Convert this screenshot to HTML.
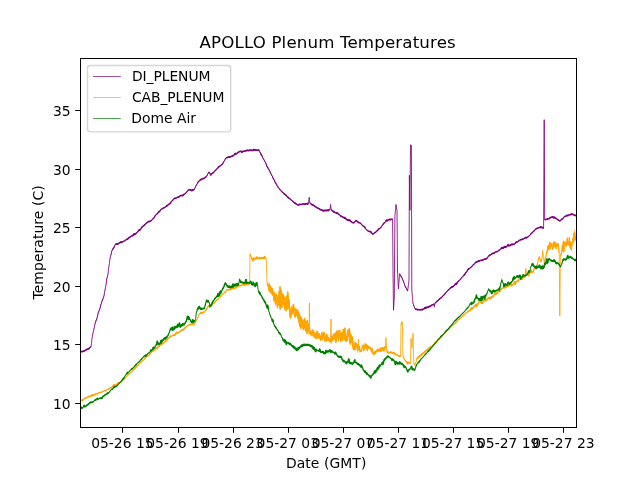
<!DOCTYPE html>
<html lang="en"><head><meta charset="utf-8"><title>APOLLO Plenum Temperatures</title>
<style>html,body{margin:0;padding:0;background:#fff;overflow:hidden}svg{display:block}</style></head>
<body>
<svg width="640" height="480" viewBox="0 0 640 480">
<rect width="640" height="480" fill="#fff"/>
<clipPath id="c"><rect x="80" y="57.6" width="496" height="369.6"/></clipPath>
<g clip-path="url(#c)" fill="none" stroke-linejoin="round" stroke-linecap="butt">
<path d="M392.6,219.2 L393.0,270.6 M393.0,270.6 L393.5,310.2 M393.5,310.2 L394.3,297.0 M394.3,297.0 L394.9,215.8 M397.0,209.9 L397.5,270.0 M397.5,270.0 L398.4,288.9 M409.0,280.4 L409.4,175.3 M409.4,175.3 L409.9,210.3 M409.9,210.3 L410.5,145.4 M411.4,145.9 L411.8,290.0 M543.6,228.0 L544.2,119.7 M544.2,119.7 L544.7,219.9" stroke="#800080" stroke-width="0.85"/>
<path d="M80.4,351.5 80.7,351.6 81.1,351.8 81.4,351.5 81.7,351.4 82.0,351.7 82.4,351.7 82.7,351.4 83.0,351.0 83.3,351.0 83.7,351.3 84.0,351.4 84.3,351.2 84.6,350.9 84.9,350.5 85.2,350.3 85.5,350.3 85.8,350.0 86.1,349.7 86.4,349.3 86.7,349.5 87.0,349.8 87.3,349.3 87.6,349.0 87.9,348.7 88.2,348.6 88.5,348.8 88.8,348.9 89.2,348.4 89.5,347.8 89.8,347.6 90.1,347.6 90.4,347.1 90.7,347.1 91.0,346.9 91.1,346.2 91.2,345.6 91.3,344.9 91.4,344.3 91.5,343.6 91.6,343.0 91.6,342.4 91.7,341.9 91.8,341.3 91.8,340.7 91.8,340.1 91.9,339.5 92.0,338.8 92.0,338.2 92.1,337.5 92.3,336.9 92.4,336.3 92.5,335.7 92.7,335.0 92.8,334.2 92.9,333.5 93.0,332.8 93.2,332.3 93.3,331.7 93.4,331.1 93.6,330.5 93.7,329.9 93.8,329.3 94.0,328.8 94.1,328.3 94.2,327.7 94.3,327.0 94.5,326.4 94.6,325.8 94.7,325.2 94.9,324.6 95.0,323.9 95.2,323.2 95.4,322.4 95.6,321.7 95.7,321.3 95.9,320.9 96.1,320.5 96.3,320.2 96.5,319.9 96.7,319.5 96.9,318.8 97.0,318.1 97.2,317.5 97.4,316.5 97.6,315.7 97.8,314.9 98.0,314.1 98.1,313.3 98.3,312.5 98.5,311.8 98.7,311.6 98.9,311.3 99.1,310.9 99.3,310.4 99.4,309.8 99.6,309.2 99.8,308.7 100.0,308.2 100.2,307.8 100.4,307.0 100.6,305.9 100.7,304.9 100.9,304.3 101.1,303.9 101.3,303.8 101.5,303.4 101.7,302.4 101.9,301.3 102.0,300.5 102.2,300.3 102.4,300.1 102.6,300.0 102.8,299.3 103.0,298.6 103.2,297.9 103.4,297.5 103.5,297.2 103.7,296.8 103.9,296.3 104.1,295.5 104.2,294.6 104.3,293.8 104.4,292.9 104.5,292.4 104.6,292.0 104.7,291.6 104.8,291.1 104.9,290.5 105.0,289.9 105.2,289.2 105.3,288.6 105.4,288.1 105.5,287.6 105.6,287.1 105.7,286.5 105.8,285.8 105.9,285.2 106.0,284.6 106.1,284.2 106.2,283.7 106.3,282.9 106.4,281.9 106.5,280.9 106.6,280.0 106.7,279.1 106.8,278.6 106.9,278.3 107.1,278.0 107.2,277.5 107.3,277.1 107.4,276.6 107.5,276.2 107.6,275.8 107.7,275.4 107.8,275.0 107.9,274.6 108.0,274.2 108.1,273.5 108.2,272.7 108.2,272.0 108.3,271.2 108.4,270.4 108.5,269.7 108.6,268.9 108.6,268.3 108.7,267.7 108.8,267.2 108.9,266.6 109.0,266.1 109.0,265.6 109.1,265.1 109.2,264.6 109.3,263.9 109.4,263.3 109.5,262.6 109.5,262.0 109.6,261.3 109.7,260.7 109.8,260.1 109.9,259.5 109.9,258.9 110.0,258.3 110.1,257.7 110.3,257.1 110.5,256.6 110.6,256.1 110.8,255.4 111.0,254.7 111.2,253.8 111.4,252.9 111.5,252.0 111.7,251.3 111.9,250.9 112.1,250.6 112.2,250.2 112.5,249.3 112.8,248.9 113.1,248.5 113.4,248.0 113.7,248.0 114.0,247.7 114.3,246.8 114.5,245.9 114.8,245.3 115.1,244.8 115.4,244.3 115.7,244.1 116.0,243.9 116.3,244.0 116.6,243.9 116.9,243.8 117.2,244.0 117.5,244.2 117.8,244.1 118.1,244.0 118.4,243.7 118.7,243.5 119.0,243.2 119.3,242.8 119.6,242.7 119.9,242.7 120.2,242.4 120.5,241.9 120.8,242.0 121.1,242.4 121.4,242.6 121.7,242.5 122.0,242.1 122.3,241.7 122.6,241.7 122.9,241.5 123.2,241.6 123.5,241.5 123.9,241.1 124.2,240.8 124.5,240.8 124.8,240.7 125.1,240.5 125.5,240.3 125.8,239.9 126.1,239.8 126.4,239.6 126.7,239.1 127.0,239.0 127.4,239.2 127.7,239.2 128.0,239.0 128.3,238.7 128.6,238.2 128.9,237.4 129.2,237.6 129.5,237.7 129.8,237.5 130.2,237.0 130.5,236.6 130.8,236.3 131.1,236.2 131.4,236.0 131.7,235.8 132.0,235.5 132.3,235.6 132.6,235.9 132.9,235.5 133.2,234.9 133.5,234.2 133.9,233.9 134.2,234.5 134.5,234.7 134.8,234.0 135.1,233.7 135.4,233.7 135.7,233.7 136.0,233.6 136.3,233.5 136.6,233.0 136.9,232.5 137.2,232.1 137.5,231.9 137.8,231.8 138.1,231.5 138.4,230.6 138.7,230.1 139.0,230.3 139.3,230.4 139.6,230.0 139.9,229.8 140.2,229.9 140.5,229.7 140.8,229.2 141.1,228.5 141.4,227.6 141.7,227.0 142.0,227.0 142.3,227.0 142.6,226.9 142.9,226.4 143.2,226.4 143.5,226.1 143.8,225.7 144.1,225.2 144.4,224.7 144.8,224.5 145.1,224.6 145.4,224.4 145.7,224.0 146.0,223.3 146.3,223.1 146.6,222.7 146.9,223.0 147.2,222.6 147.5,222.1 147.8,221.8 148.1,221.6 148.4,221.7 148.7,221.5 149.1,221.4 149.4,221.5 149.7,221.4 150.0,221.4 150.3,221.3 150.6,221.3 150.9,220.9 151.2,220.5 151.5,220.5 151.8,220.0 152.1,219.6 152.4,219.4 152.8,219.0 153.1,218.6 153.4,218.3 153.7,218.1 154.1,218.1 154.4,217.3 154.7,216.6 155.0,215.9 155.4,215.3 155.7,215.1 156.0,214.8 156.3,214.7 156.6,214.4 156.9,214.0 157.2,213.7 157.5,213.5 157.8,213.4 158.1,212.7 158.4,211.9 158.7,211.8 159.0,211.9 159.3,211.9 159.6,211.6 159.9,211.0 160.2,210.6 160.5,210.2 160.8,209.7 161.1,209.5 161.4,209.2 161.7,208.9 162.0,208.5 162.3,208.6 162.6,208.7 162.9,208.3 163.2,208.1 163.5,208.0 163.8,207.8 164.1,207.8 164.4,207.7 164.7,207.6 165.0,207.2 165.3,206.8 165.6,206.7 165.9,206.7 166.2,206.6 166.5,206.0 166.8,205.4 167.1,205.7 167.4,206.0 167.7,205.4 168.0,205.0 168.3,204.6 168.6,204.2 168.9,204.3 169.2,204.1 169.5,203.8 169.8,203.2 170.1,203.3 170.4,203.6 170.7,202.8 171.0,201.7 171.3,201.7 171.6,201.4 171.9,201.0 172.2,200.8 172.5,200.6 172.8,200.3 173.1,199.7 173.4,199.3 173.7,199.0 174.0,198.4 174.3,198.5 174.6,198.6 174.9,198.3 175.2,198.1 175.5,198.2 175.8,198.5 176.1,198.2 176.4,197.9 176.7,197.7 177.0,197.5 177.3,197.3 177.6,197.3 177.9,197.2 178.2,196.9 178.5,197.1 178.8,197.1 179.1,197.0 179.4,196.5 179.7,196.1 180.0,196.1 180.3,195.9 180.6,195.5 180.9,195.6 181.2,195.7 181.6,195.7 181.9,195.6 182.2,195.4 182.5,195.2 182.8,195.7 183.1,195.5 183.4,194.7 183.8,194.4 184.1,194.4 184.4,194.1 184.7,194.0 185.0,194.0 185.3,193.6 185.6,193.1 185.9,192.8 186.2,192.7 186.5,192.4 186.8,192.0 187.1,191.5 187.4,191.0 187.7,190.8 188.0,190.2 188.3,190.0 188.6,190.0 188.9,190.0 189.2,189.9 189.5,189.7 189.8,189.8 190.1,189.8 190.4,189.9 190.7,190.1 191.0,190.1 191.3,190.2 191.6,190.4 191.9,190.7 192.2,190.6 192.5,189.9 192.8,189.7 193.1,189.8 193.4,189.9 193.7,189.8 194.0,189.9 194.3,189.4 194.6,188.8 194.9,188.1 195.1,187.7 195.4,187.2 195.7,186.4 196.0,185.8 196.3,185.1 196.6,184.7 196.9,184.0 197.1,183.8 197.4,183.5 197.7,182.9 198.0,181.9 198.3,181.7 198.6,181.4 198.9,181.2 199.2,181.0 199.5,180.4 199.8,180.2 200.2,180.2 200.5,180.2 200.8,179.5 201.1,179.0 201.4,179.4 201.7,179.5 202.0,179.2 202.3,178.9 202.6,178.8 202.9,178.6 203.2,178.8 203.5,178.5 203.8,178.3 204.2,178.2 204.5,178.2 204.8,178.1 205.1,177.6 205.4,177.4 205.7,176.9 206.0,177.0 206.3,176.9 206.6,176.4 206.9,175.9 207.2,175.1 207.5,174.5 207.8,174.1 208.1,173.5 208.4,173.0 208.7,172.7 209.0,172.0 209.3,172.3 209.7,172.8 210.0,173.3 210.3,174.3 210.7,175.1 211.0,174.7 211.3,174.3 211.6,173.8 211.9,173.4 212.2,173.1 212.5,173.0 212.8,172.9 213.1,173.1 213.4,172.7 213.7,172.2 214.0,171.9 214.3,171.8 214.7,171.2 215.0,170.7 215.3,170.3 215.6,170.2 215.9,170.0 216.2,169.8 216.5,169.1 216.8,168.8 217.1,168.5 217.4,168.4 217.7,168.4 218.0,167.6 218.3,166.9 218.6,166.9 218.9,167.1 219.2,166.7 219.6,166.2 219.9,166.1 220.2,166.1 220.5,165.7 220.8,165.3 221.1,165.1 221.4,164.8 221.8,164.5 222.1,164.1 222.4,164.1 222.7,163.9 223.0,163.2 223.3,162.5 223.6,162.0 223.9,161.3 224.2,160.9 224.5,160.6 224.8,160.2 225.1,159.5 225.4,158.8 225.7,158.4 226.0,158.0 226.3,157.9 226.6,157.7 226.9,157.4 227.2,157.3 227.6,157.5 227.9,157.5 228.2,157.3 228.5,157.0 228.8,156.9 229.1,157.0 229.4,157.0 229.8,157.2 230.1,156.9 230.4,156.6 230.7,156.6 231.0,156.3 231.3,156.3 231.6,156.5 231.9,156.1 232.2,155.7 232.6,155.7 232.9,155.7 233.2,155.8 233.5,155.7 233.8,155.3 234.1,155.0 234.4,154.7 234.8,154.2 235.1,153.5 235.4,153.4 235.7,153.9 236.0,154.1 236.3,154.0 236.6,153.8 236.9,153.7 237.2,153.2 237.5,152.7 237.8,152.3 238.1,152.2 238.4,152.3 238.7,152.3 239.0,151.7 239.3,151.5 239.6,151.5 239.9,151.4 240.2,151.5 240.5,151.4 240.8,151.3 241.1,151.2 241.4,151.6 241.7,152.3 242.0,152.2 242.3,151.6 242.6,151.5 242.9,151.7 243.2,151.6 243.5,151.2 243.8,151.0 244.1,151.0 244.4,151.0 244.7,151.0 245.0,150.9 245.3,150.9 245.6,151.1 245.9,151.1 246.2,150.7 246.5,150.5 246.8,150.3 247.1,150.2 247.4,150.2 247.7,150.2 248.0,150.6 248.3,150.7 248.6,150.7 248.9,150.6 249.2,150.3 249.5,150.1 249.8,150.2 250.1,150.3 250.4,150.1 250.8,150.0 251.1,150.2 251.4,150.1 251.7,150.4 252.0,150.6 252.3,150.5 252.6,150.3 252.9,150.2 253.2,150.5 253.5,150.0 253.8,149.4 254.1,149.8 254.4,150.2 254.7,149.7 255.0,149.8 255.3,149.8 255.6,149.8 255.9,150.2 256.2,150.4 256.6,150.2 256.9,150.3 257.2,150.4 257.5,150.2 257.8,149.9 258.1,149.9 258.4,149.9 258.7,149.8 259.0,150.3 259.3,151.1 259.5,151.3 259.8,151.8 260.1,152.4 260.4,153.1 260.6,153.8 260.9,154.6 261.2,154.7 261.5,154.5 261.7,154.8 262.0,155.5 262.3,156.4 262.5,157.1 262.8,157.9 263.1,158.3 263.4,158.7 263.6,159.1 263.9,159.6 264.2,160.2 264.5,160.9 264.7,161.5 265.0,161.9 265.3,162.2 265.5,162.6 265.8,163.1 266.1,163.7 266.4,164.9 266.6,165.9 266.9,166.6 267.2,166.8 267.5,166.7 267.7,167.1 268.0,167.9 268.3,168.7 268.5,169.1 268.8,169.6 269.1,170.0 269.4,170.1 269.6,170.7 269.9,171.3 270.2,172.0 270.5,173.0 270.7,173.6 271.0,173.8 271.3,174.2 271.6,175.0 271.9,175.6 272.2,176.1 272.5,176.6 272.8,177.7 273.0,178.5 273.3,178.5 273.6,178.7 273.9,179.4 274.2,179.8 274.5,180.7 274.8,181.7 275.1,182.4 275.4,183.0 275.7,183.1 276.0,183.3 276.2,183.7 276.5,184.1 276.8,184.8 277.1,185.8 277.4,186.1 277.7,186.4 278.0,187.2 278.3,187.5 278.6,187.8 278.9,188.2 279.2,188.7 279.5,189.1 279.8,189.5 280.2,189.7 280.5,190.2 280.8,190.6 281.1,190.9 281.4,191.2 281.7,191.5 282.0,191.9 282.3,192.0 282.6,192.1 282.9,192.5 283.2,193.0 283.5,193.4 283.8,193.9 284.1,193.8 284.4,193.7 284.7,194.3 285.0,194.9 285.3,195.0 285.6,195.1 285.9,195.1 286.2,195.1 286.5,195.7 286.8,196.3 287.1,196.4 287.4,196.6 287.7,197.3 288.0,197.7 288.3,197.7 288.6,197.4 288.9,197.9 289.2,198.4 289.5,198.7 289.8,198.9 290.1,199.2 290.4,199.2 290.7,199.4 291.0,199.7 291.3,199.9 291.6,200.3 291.9,200.7 292.2,200.9 292.5,201.0 292.8,201.1 293.1,201.6 293.4,202.2 293.7,202.1 294.0,202.1 294.3,202.7 294.6,203.2 294.9,203.1 295.2,203.0 295.5,203.2 295.8,203.6 296.2,204.2 296.5,204.4 296.8,204.2 297.1,204.3 297.4,204.6 297.7,204.8 298.0,205.2 298.3,205.0 298.6,204.9 298.9,204.8 299.2,204.5 299.5,204.3 299.8,204.5 300.1,204.7 300.4,204.6 300.7,204.5 301.0,204.5 301.3,204.4 301.6,204.3 301.9,204.1 302.2,204.1 302.5,204.2 302.8,204.2 303.1,203.9 303.4,203.8 303.7,203.9 304.0,203.9 304.3,204.0 304.6,204.1 304.9,204.2 305.2,204.3 305.5,204.1 305.8,203.7 306.1,203.8 306.5,203.8 306.8,203.6 307.1,203.4 307.4,203.6 307.7,204.1 308.0,203.7 308.3,202.9 308.6,202.8 308.7,202.2 308.7,201.7 308.8,201.2 308.8,200.6 308.9,200.1 309.0,199.6 309.0,199.0 309.1,198.5 309.1,197.9 309.2,197.3 309.3,197.9 309.3,198.5 309.4,199.1 309.4,199.7 309.5,200.2 309.6,200.7 309.6,201.2 309.7,201.7 309.7,202.3 309.8,202.8 310.1,203.2 310.4,203.6 310.7,203.8 311.0,203.8 311.4,204.1 311.7,204.7 312.0,204.9 312.3,204.8 312.6,204.6 312.9,204.8 313.2,205.2 313.5,205.4 313.8,205.5 314.1,205.5 314.4,205.5 314.8,206.2 315.1,206.8 315.4,206.9 315.7,206.9 316.0,207.1 316.3,207.1 316.6,207.2 316.9,207.5 317.2,207.9 317.5,208.3 317.8,208.1 318.2,208.1 318.5,208.3 318.8,208.5 319.1,208.5 319.4,209.0 319.7,209.6 320.0,209.7 320.3,209.3 320.6,209.5 320.9,209.9 321.2,209.9 321.5,209.6 321.8,209.9 322.2,210.2 322.5,210.5 322.8,210.9 323.1,210.7 323.4,210.1 323.7,210.6 324.0,211.0 324.3,210.8 324.6,210.5 324.9,210.2 325.2,210.2 325.5,210.3 325.8,210.4 326.1,210.8 326.4,210.8 326.7,210.4 327.0,210.1 327.3,210.1 327.6,209.9 327.9,210.3 328.2,210.8 328.5,210.4 328.8,210.0 329.1,209.8 329.4,209.8 329.7,209.7 330.0,209.7 330.1,209.1 330.1,208.4 330.2,207.8 330.3,207.1 330.4,206.4 330.5,205.8 330.5,205.1 330.6,204.5 330.7,205.2 330.7,205.8 330.8,206.4 330.9,207.0 330.9,207.6 331.0,208.2 331.1,208.8 331.1,209.4 331.2,210.0 331.5,209.9 331.8,210.1 332.1,210.5 332.4,210.8 332.7,211.2 333.1,211.6 333.4,211.8 333.7,211.9 334.0,211.6 334.3,211.6 334.6,212.0 334.9,212.2 335.2,212.4 335.5,212.6 335.8,213.0 336.1,213.2 336.5,212.9 336.8,213.0 337.1,213.1 337.4,213.1 337.7,213.0 338.0,213.6 338.3,214.2 338.6,214.5 338.9,214.5 339.2,214.6 339.5,214.7 339.8,215.0 340.1,215.3 340.4,215.6 340.7,216.2 341.0,216.3 341.3,215.9 341.6,216.2 341.9,216.5 342.2,216.7 342.5,217.0 342.8,217.3 343.1,216.9 343.4,217.5 343.7,217.8 344.0,218.1 344.3,218.2 344.6,218.0 344.9,217.6 345.2,217.8 345.5,218.6 345.8,219.0 346.1,219.2 346.4,219.2 346.7,219.1 347.0,219.6 347.3,220.3 347.6,220.5 347.9,220.4 348.2,220.1 348.5,220.1 348.8,220.2 349.1,220.3 349.4,220.2 349.7,219.9 350.0,220.3 350.3,221.2 350.6,221.6 350.9,221.5 351.2,221.4 351.5,221.6 351.8,222.1 352.1,222.4 352.4,222.5 352.7,222.7 353.0,222.7 353.3,222.7 353.6,222.9 353.9,222.4 354.3,222.4 354.6,222.4 355.0,221.7 355.3,220.9 355.7,221.2 356.0,220.7 356.3,220.4 356.6,220.6 356.9,221.1 357.2,221.5 357.5,221.4 357.8,222.0 358.2,222.4 358.5,222.6 358.8,222.7 359.1,222.5 359.4,222.6 359.7,222.7 360.0,222.9 360.3,223.3 360.6,223.6 360.9,223.5 361.2,223.9 361.5,224.4 361.8,224.7 362.1,225.1 362.4,225.5 362.7,225.7 363.0,225.7 363.3,226.2 363.7,226.6 364.0,226.9 364.3,227.1 364.6,226.8 364.9,227.1 365.2,227.9 365.5,228.7 365.8,228.8 366.1,229.0 366.4,229.5 366.7,229.9 367.0,230.1 367.3,230.3 367.6,230.6 367.9,231.0 368.2,231.1 368.5,231.0 368.8,231.2 369.1,231.5 369.4,231.5 369.7,231.6 370.0,231.9 370.3,232.1 370.6,231.8 370.9,231.7 371.2,231.9 371.5,232.5 371.8,233.3 372.1,233.8 372.4,233.8 372.7,233.9 373.0,234.1 373.3,234.0 373.6,233.7 373.9,233.2 374.2,232.8 374.5,232.8 374.8,232.7 375.1,232.5 375.4,232.5 375.7,232.4 376.0,232.0 376.3,231.6 376.7,231.0 377.0,230.7 377.3,230.8 377.6,230.6 377.9,230.1 378.2,229.4 378.5,229.0 378.8,228.9 379.1,228.9 379.4,228.7 379.7,228.5 380.0,228.1 380.3,228.0 380.6,227.7 380.9,227.3 381.2,227.1 381.5,226.4 381.8,226.0 382.1,225.8 382.4,225.5 382.7,225.1 383.0,224.5 383.3,223.7 383.6,223.3 383.9,223.2 384.2,223.3 384.5,223.0 384.8,222.6 385.1,222.2 385.4,221.8 385.7,221.4 386.0,220.6 386.3,220.0 386.6,220.0 386.9,220.4 387.2,220.7 387.5,220.9 387.8,220.6 388.1,220.1 388.4,219.9 388.7,219.9 389.0,219.5 389.3,219.3 389.6,219.5 389.9,219.7 390.2,219.7 390.5,219.8 390.8,219.7 391.1,219.1 391.4,219.2 391.7,219.4 392.0,219.1 392.3,219.0 392.6,219.2 M394.9,215.8 395.0,215.2 395.0,214.6 395.1,214.0 395.1,213.4 395.2,212.7 395.3,212.1 395.3,211.5 395.4,211.0 395.4,210.4 395.5,209.8 395.6,209.2 395.6,208.5 395.7,207.9 395.8,207.2 395.8,206.6 395.9,205.9 395.9,205.3 396.0,204.6 396.1,205.5 396.2,206.3 396.4,207.2 396.5,207.8 396.6,208.4 396.8,208.8 396.9,209.4 397.0,209.9 M398.4,288.9 398.4,288.3 398.5,287.7 398.5,287.0 398.6,286.4 398.6,285.8 398.7,285.2 398.7,284.6 398.8,284.0 398.8,283.4 398.9,282.8 398.9,282.2 399.0,281.6 399.0,281.0 399.1,280.4 399.1,279.8 399.2,279.3 399.2,278.7 399.3,278.1 399.3,277.5 399.4,276.9 399.4,276.3 399.5,275.7 399.5,275.1 399.6,274.4 399.6,273.8 399.9,274.6 400.3,275.2 400.6,275.7 401.0,276.3 401.3,277.0 401.7,277.3 402.0,277.8 402.2,278.4 402.4,279.0 402.6,279.6 402.9,280.0 403.1,280.4 403.3,280.9 403.5,281.5 403.7,282.0 403.9,282.7 404.1,283.4 404.4,284.2 404.6,284.9 404.8,285.6 405.0,286.2 405.3,286.5 405.6,287.1 405.9,287.6 406.2,288.1 406.4,288.4 406.7,289.1 407.0,289.7 407.3,290.2 407.6,290.9 407.7,290.4 407.8,289.9 407.8,289.4 407.9,288.8 408.0,288.2 408.1,287.6 408.1,287.0 408.2,286.4 408.3,285.8 408.4,285.3 408.5,284.8 408.5,284.3 408.6,283.7 408.7,283.0 408.8,282.4 408.8,281.7 408.9,281.1 409.0,280.4 M410.5,145.4 410.9,145.3 411.4,145.9 M411.8,290.0 411.9,290.6 411.9,291.2 412.0,291.8 412.0,292.5 412.1,293.2 412.1,293.8 412.2,294.5 412.2,295.1 412.3,295.7 412.3,296.2 412.4,296.7 412.4,297.2 412.5,297.7 412.5,298.2 412.6,298.7 412.6,299.2 412.7,299.7 412.7,300.2 412.8,300.7 412.8,301.3 412.9,302.0 412.9,302.6 413.0,303.3 413.2,303.9 413.5,304.6 413.8,305.5 414.0,306.3 414.2,306.9 414.5,307.5 414.8,308.3 415.0,308.9 415.3,309.0 415.6,309.1 415.9,309.4 416.2,309.2 416.6,309.3 416.9,309.3 417.2,309.5 417.5,309.8 417.8,309.6 418.1,309.5 418.4,309.5 418.8,309.6 419.1,309.8 419.4,309.7 419.7,309.8 420.0,310.0 420.3,309.8 420.6,309.7 420.9,309.9 421.2,309.8 421.5,309.4 421.8,309.4 422.1,309.5 422.4,309.6 422.7,309.7 423.0,309.4 423.3,309.2 423.6,309.1 423.9,309.0 424.2,308.8 424.5,308.3 424.8,307.6 425.1,308.0 425.4,308.3 425.7,307.6 426.0,307.3 426.3,307.5 426.6,307.9 426.9,307.8 427.2,307.5 427.5,307.0 427.8,306.8 428.2,307.2 428.5,307.3 428.8,306.6 429.1,306.3 429.4,306.6 429.7,306.7 430.0,306.2 430.3,306.2 430.6,306.3 430.9,306.1 431.2,305.6 431.5,305.2 431.8,304.8 432.2,304.9 432.5,304.8 432.8,304.7 433.1,304.6 433.4,304.3 433.7,304.2 434.0,304.4 434.1,305.2 434.3,306.0 434.4,306.8 434.5,306.0 434.6,305.2 434.7,304.3 434.8,303.5 435.1,302.9 435.4,302.7 435.7,302.5 436.1,302.4 436.4,301.8 436.7,301.3 437.0,301.1 437.3,301.0 437.6,300.8 437.9,300.8 438.2,300.4 438.6,299.8 438.9,299.3 439.2,299.0 439.5,299.1 439.8,299.1 440.1,298.5 440.4,298.1 440.7,298.2 441.1,297.8 441.4,297.4 441.7,297.2 442.0,297.3 442.3,297.0 442.6,296.1 442.9,295.8 443.2,295.7 443.5,295.4 443.8,294.9 444.1,294.7 444.4,294.8 444.7,294.4 445.0,293.6 445.3,293.1 445.6,292.9 445.9,292.7 446.2,292.2 446.5,291.8 446.8,291.6 447.1,291.2 447.4,290.7 447.7,290.4 448.0,290.2 448.3,290.1 448.6,289.6 448.9,289.3 449.2,289.3 449.5,288.9 449.8,288.7 450.2,288.4 450.5,287.8 450.8,287.4 451.1,287.3 451.4,287.0 451.7,286.9 452.0,287.1 452.3,287.2 452.6,287.0 452.9,286.3 453.2,286.4 453.5,286.5 453.8,286.1 454.2,285.7 454.5,284.9 454.8,284.6 455.1,284.2 455.4,283.6 455.7,283.7 456.0,283.9 456.3,284.3 456.6,284.3 456.9,283.7 457.2,283.0 457.5,282.1 457.8,281.6 458.2,281.8 458.5,281.3 458.8,280.9 459.1,280.6 459.4,280.4 459.7,280.3 460.0,279.9 460.3,279.6 460.6,279.0 460.9,278.6 461.2,278.3 461.5,277.9 461.8,277.3 462.2,277.0 462.5,276.7 462.8,276.3 463.1,276.0 463.4,275.7 463.7,275.6 464.0,275.0 464.3,274.4 464.6,274.4 464.9,274.7 465.2,273.9 465.5,272.7 465.8,272.3 466.2,271.9 466.5,271.9 466.8,271.8 467.1,271.2 467.4,270.5 467.7,269.7 468.0,269.0 468.3,269.3 468.6,269.3 468.9,269.0 469.2,269.0 469.5,268.5 469.8,268.2 470.2,267.9 470.5,267.6 470.8,267.2 471.1,267.3 471.4,266.7 471.7,266.4 472.0,266.4 472.3,266.0 472.6,265.5 472.9,265.0 473.2,264.7 473.5,264.6 473.8,264.4 474.2,264.1 474.5,263.9 474.8,263.2 475.1,262.8 475.4,262.4 475.7,262.1 476.0,261.9 476.3,262.4 476.6,261.9 476.9,261.6 477.2,261.5 477.5,261.4 477.8,261.4 478.1,261.6 478.4,261.2 478.7,260.7 479.0,260.9 479.3,261.2 479.6,260.9 479.9,260.8 480.2,260.7 480.5,260.5 480.8,260.3 481.2,260.2 481.5,260.3 481.8,260.5 482.1,260.3 482.4,259.9 482.7,259.9 483.0,260.1 483.3,259.9 483.6,259.8 483.9,259.6 484.2,259.2 484.5,259.1 484.8,258.9 485.1,258.8 485.4,258.8 485.7,258.9 486.0,259.1 486.3,258.8 486.6,258.8 486.9,258.5 487.2,257.9 487.5,257.3 487.8,257.0 488.2,256.7 488.5,256.4 488.8,255.8 489.1,255.3 489.4,255.4 489.7,255.3 490.0,255.1 490.3,255.1 490.6,254.8 490.9,254.7 491.2,254.5 491.5,253.9 491.8,253.5 492.2,253.3 492.5,253.5 492.8,253.5 493.1,253.5 493.4,253.4 493.7,253.0 494.0,253.4 494.3,253.3 494.6,252.8 494.9,252.4 495.2,252.1 495.5,251.8 495.8,251.8 496.2,251.8 496.5,251.7 496.8,251.5 497.1,251.7 497.4,251.6 497.7,251.5 498.0,251.3 498.3,251.1 498.6,250.8 498.9,250.4 499.2,250.1 499.6,250.1 499.9,249.9 500.2,249.4 500.5,249.1 500.8,249.1 501.1,248.6 501.4,247.8 501.8,247.6 502.1,248.0 502.4,248.1 502.7,247.8 503.0,247.9 503.3,248.3 503.6,247.8 503.9,247.1 504.2,246.7 504.5,246.5 504.8,246.8 505.1,247.1 505.4,247.2 505.8,247.4 506.1,247.0 506.4,246.5 506.7,246.3 507.0,246.0 507.3,245.9 507.6,245.7 507.9,245.2 508.2,244.6 508.5,245.1 508.8,245.9 509.1,245.8 509.4,245.6 509.7,245.6 510.0,245.6 510.3,245.1 510.6,244.8 510.9,245.0 511.2,245.1 511.6,244.5 511.9,244.1 512.2,244.5 512.5,244.5 512.8,244.6 513.1,244.7 513.4,244.4 513.7,244.3 514.0,244.0 514.3,243.9 514.6,244.0 514.9,243.9 515.2,243.3 515.5,242.6 515.8,242.3 516.1,242.0 516.4,242.2 516.7,242.4 517.0,242.1 517.3,241.8 517.6,241.8 517.9,241.7 518.2,241.4 518.5,241.0 518.8,240.7 519.1,240.6 519.4,240.6 519.7,240.4 520.0,240.0 520.3,239.7 520.6,239.5 520.9,239.6 521.2,239.8 521.5,239.7 521.8,239.3 522.2,239.1 522.5,239.1 522.8,239.3 523.1,239.1 523.4,238.8 523.7,238.9 524.0,238.7 524.3,238.4 524.6,238.2 524.9,238.0 525.2,237.8 525.5,237.4 525.8,237.8 526.2,238.0 526.5,237.9 526.8,237.7 527.1,237.5 527.4,237.2 527.7,236.9 528.0,237.1 528.3,236.6 528.6,236.2 528.9,236.2 529.2,235.9 529.5,235.5 529.8,235.3 530.2,234.9 530.5,234.5 530.8,233.9 531.1,233.3 531.4,233.0 531.7,233.0 532.0,233.0 532.3,232.9 532.6,232.4 532.9,231.8 533.2,231.6 533.5,231.3 533.8,231.3 534.2,231.0 534.5,230.3 534.8,230.1 535.1,230.0 535.4,229.5 535.7,228.8 536.0,228.6 536.3,228.7 536.6,228.7 536.9,228.5 537.2,228.5 537.5,228.4 537.8,228.2 538.2,228.0 538.5,227.8 538.8,227.6 539.1,227.7 539.4,227.6 539.7,227.3 540.0,227.1 540.3,227.2 540.6,227.6 540.9,227.2 541.2,226.8 541.5,227.3 541.8,227.6 542.1,227.5 542.4,227.4 542.7,227.8 543.0,228.2 543.3,228.1 543.6,228.0 M544.7,219.9 545.0,219.7 545.3,219.5 545.6,219.5 545.9,219.6 546.2,219.3 546.5,219.4 546.8,219.1 547.1,218.8 547.4,219.0 547.7,219.0 548.0,219.1 548.4,218.7 548.7,218.6 549.0,218.8 549.3,218.6 549.6,218.1 549.9,217.7 550.2,217.5 550.5,217.5 550.8,217.5 551.1,217.5 551.4,217.5 551.7,217.1 552.0,216.8 552.3,216.7 552.6,216.7 552.9,217.2 553.2,217.9 553.6,217.7 553.9,217.6 554.2,217.2 554.5,217.1 554.8,218.0 555.1,218.1 555.4,218.2 555.8,218.5 556.1,218.7 556.4,218.6 556.7,218.5 557.0,218.9 557.3,219.2 557.6,219.6 557.9,220.0 558.2,220.0 558.5,220.0 558.8,220.3 559.1,220.3 559.4,220.5 559.7,220.9 560.0,221.2 560.3,220.9 560.6,220.3 560.9,219.8 561.2,219.5 561.6,219.2 561.9,219.2 562.2,219.2 562.5,218.9 562.8,218.8 563.1,218.3 563.4,217.7 563.8,217.2 564.1,216.8 564.4,216.9 564.7,216.5 565.0,216.2 565.3,216.2 565.6,216.3 565.9,216.2 566.2,216.0 566.5,215.7 566.8,215.3 567.1,215.2 567.4,215.6 567.7,215.8 568.0,215.4 568.3,215.0 568.7,215.0 569.0,215.0 569.3,214.8 569.6,214.7 569.9,214.5 570.2,214.8 570.5,214.9 570.8,214.5 571.1,214.0 571.4,214.1 571.7,214.2 572.0,214.2 572.3,214.2 572.6,214.2 572.9,214.1 573.2,214.5 573.5,214.8 573.8,215.1 574.2,215.1 574.5,215.4 574.8,215.7 575.1,215.4 575.4,215.4 575.7,215.4 576.0,215.3" stroke="#800080" stroke-width="0.9"/>
<path d="M80.4,350.9 80.7,350.8 81.1,350.8 81.4,350.8 81.7,350.7 82.0,350.7 82.4,350.5 82.7,350.4 83.0,350.4 83.3,350.3 83.7,350.3 84.0,350.2 84.3,350.1 84.6,349.9 84.9,349.8 85.2,349.6 85.5,349.3 85.8,349.0 86.1,348.8 86.4,348.7 86.7,348.6 87.0,348.4 87.3,348.5 87.6,348.3 87.9,348.1 88.2,347.9 88.5,347.7 88.8,347.5 89.2,347.3 89.5,347.1 89.8,346.9 90.1,346.7 90.4,346.5 90.7,346.3 91.0,346.1 91.1,345.6 91.2,344.9 91.3,344.3 91.4,343.6 91.5,343.0 91.6,342.3 91.6,341.7 91.7,341.1 91.8,340.5 91.8,340.0 91.8,339.4 91.9,338.8 92.0,338.1 92.0,337.4 92.1,336.8 92.3,336.2 92.4,335.6 92.5,334.8 92.7,334.0 92.8,333.4 92.9,332.8 93.0,332.2 93.2,331.6 93.3,330.9 93.4,330.4 93.6,329.8 93.7,329.2 93.8,328.6 94.0,328.0 94.1,327.5 94.2,327.0 94.3,326.4 94.5,325.8 94.6,325.1 94.7,324.5 94.9,323.8 95.0,323.0 95.2,322.2 95.4,321.6 95.6,321.0 95.7,320.4 95.9,319.9 96.1,319.4 96.3,319.0 96.5,318.6 96.7,318.3 96.9,318.0 97.0,317.1 97.2,316.2 97.4,315.4 97.6,314.6 97.8,313.8 98.0,313.0 98.1,312.4 98.3,311.8 98.5,311.2 98.7,310.6 98.9,310.0 99.1,309.7 99.3,309.5 99.4,309.0 99.6,308.5 99.8,307.9 100.0,307.3 100.2,306.5 100.4,305.5 100.6,304.8 100.7,304.2 100.9,303.7 101.1,303.1 101.3,302.5 101.5,301.9 101.7,301.1 101.9,300.5 102.0,299.9 102.2,299.3 102.4,298.7 102.6,298.4 102.8,298.3 103.0,297.9 103.2,297.3 103.4,296.7 103.5,296.1 103.7,295.7 103.9,295.2 104.1,294.3 104.2,293.4 104.3,292.9 104.4,292.3 104.5,291.7 104.6,291.1 104.7,290.6 104.8,290.2 104.9,289.7 105.0,289.1 105.2,288.5 105.3,287.9 105.4,287.4 105.5,286.8 105.6,286.3 105.7,285.7 105.8,285.1 105.9,284.5 106.0,283.9 106.1,283.3 106.2,282.4 106.3,281.5 106.4,280.5 106.5,279.7 106.6,279.1 106.7,278.5 106.8,277.9 106.9,277.3 107.1,276.7 107.2,276.4 107.3,276.2 107.4,275.7 107.5,275.3 107.6,274.8 107.7,274.4 107.8,274.0 107.9,273.6 108.0,273.2 108.1,272.5 108.2,271.8 108.2,271.0 108.3,270.2 108.4,269.5 108.5,268.8 108.6,268.2 108.6,267.6 108.7,267.0 108.8,266.4 108.9,265.9 109.0,265.3 109.0,264.8 109.1,264.3 109.2,263.7 109.3,263.2 109.4,262.5 109.5,261.9 109.5,261.2 109.6,260.6 109.7,260.0 109.8,259.4 109.9,258.8 109.9,258.2 110.0,257.6 110.1,257.1 110.3,256.5 110.5,255.9 110.6,255.2 110.8,254.3 111.0,253.4 111.2,252.5 111.4,251.8 111.5,251.3 111.7,250.7 111.9,250.1 112.1,249.5 112.2,249.0 112.5,248.7 112.8,248.1 113.1,247.5 113.4,247.1 113.7,246.7 114.0,246.3 114.3,245.8 114.5,245.2 114.8,244.7 115.1,244.1 115.4,243.4 115.7,243.3 116.0,243.2 116.3,243.2 116.6,243.1 116.9,243.1 117.2,243.0 117.5,243.0 117.8,243.1 118.1,243.0 118.4,242.7 118.7,242.3 119.0,242.2 119.3,242.1 119.6,241.9 119.9,241.4 120.2,241.3 120.5,241.2 120.8,241.2 121.1,241.1 121.4,241.1 121.7,241.2 122.0,241.1 122.3,241.0 122.6,241.0 122.9,240.9 123.2,240.7 123.5,240.5 123.9,240.4 124.2,240.2 124.5,240.0 124.8,239.7 125.1,239.7 125.5,239.5 125.8,239.3 126.1,238.9 126.4,238.7 126.7,238.5 127.0,238.3 127.4,238.1 127.7,237.9 128.0,238.0 128.3,237.2 128.6,237.0 128.9,236.8 129.2,236.5 129.5,236.3 129.8,236.4 130.2,236.1 130.5,235.9 130.8,235.6 131.1,235.4 131.4,235.2 131.7,235.1 132.0,234.9 132.3,234.7 132.6,234.5 132.9,233.8 133.2,233.5 133.5,233.4 133.9,233.2 134.2,233.1 134.5,233.0 134.8,233.2 135.1,233.0 135.4,232.9 135.7,232.6 136.0,232.5 136.3,232.4 136.6,232.0 136.9,231.7 137.2,231.4 137.5,231.1 137.8,230.5 138.1,230.0 138.4,229.7 138.7,229.4 139.0,229.1 139.3,228.8 139.6,229.1 139.9,229.0 140.2,228.7 140.5,228.5 140.8,227.6 141.1,227.0 141.4,226.7 141.7,226.4 142.0,226.1 142.3,225.8 142.6,225.8 142.9,225.8 143.2,225.5 143.5,225.1 143.8,224.6 144.1,224.3 144.4,224.0 144.8,223.7 145.1,223.3 145.4,223.0 145.7,223.0 146.0,222.4 146.3,222.2 146.6,222.0 146.9,221.8 147.2,221.5 147.5,221.3 147.8,221.1 148.1,221.0 148.4,220.8 148.7,220.6 149.1,220.6 149.4,220.5 149.7,220.5 150.0,220.5 150.3,220.4 150.6,220.2 150.9,220.0 151.2,219.7 151.5,219.5 151.8,219.3 152.1,219.0 152.4,218.6 152.8,218.2 153.1,218.0 153.4,217.6 153.7,217.2 154.1,216.8 154.4,216.0 154.7,215.5 155.0,215.1 155.4,214.7 155.7,214.3 156.0,213.9 156.3,213.7 156.6,213.6 156.9,213.3 157.2,213.0 157.5,212.6 157.8,211.8 158.1,211.5 158.4,211.2 158.7,210.9 159.0,210.6 159.3,210.6 159.6,210.6 159.9,210.1 160.2,209.6 160.5,209.3 160.8,209.0 161.1,208.7 161.4,208.4 161.7,208.2 162.0,207.9 162.3,207.7 162.6,207.5 162.9,207.6 163.2,207.4 163.5,207.2 163.8,207.0 164.1,206.9 164.4,206.7 164.7,206.6 165.0,206.4 165.3,206.2 165.6,206.0 165.9,205.8 166.2,205.1 166.5,204.9 166.8,204.7 167.1,204.5 167.4,204.3 167.7,204.5 168.0,204.2 168.3,203.9 168.6,203.6 168.9,203.3 169.2,203.0 169.5,202.9 169.8,202.6 170.1,202.3 170.4,201.7 170.7,201.4 171.0,201.1 171.3,200.8 171.6,200.5 171.9,200.3 172.2,200.0 172.5,199.7 172.8,199.2 173.1,198.9 173.4,198.3 173.7,198.0 174.0,197.7 174.3,197.6 174.6,197.4 174.9,197.6 175.2,197.5 175.5,197.3 175.8,197.2 176.1,197.2 176.4,197.1 176.7,197.0 177.0,196.8 177.3,196.7 177.6,196.5 177.9,196.4 178.2,196.3 178.5,196.1 178.8,196.0 179.1,195.8 179.4,195.6 179.7,195.5 180.0,195.1 180.3,195.0 180.6,194.8 180.9,194.7 181.2,194.6 181.6,194.7 181.9,194.8 182.2,194.7 182.5,194.6 182.8,194.3 183.1,194.0 183.4,193.9 183.8,193.7 184.1,193.6 184.4,193.4 184.7,193.3 185.0,193.1 185.3,192.8 185.6,192.4 185.9,192.0 186.2,191.7 186.5,191.4 186.8,191.0 187.1,190.7 187.4,190.2 187.7,189.7 188.0,189.4 188.3,189.3 188.6,189.3 188.9,189.2 189.2,189.1 189.5,189.1 189.8,189.1 190.1,189.0 190.4,189.0 190.7,189.1 191.0,189.1 191.3,189.3 191.6,189.4 191.9,189.3 192.2,189.1 192.5,189.1 192.8,189.0 193.1,189.0 193.4,189.0 193.7,189.1 194.0,189.1 194.3,188.5 194.6,188.0 194.9,187.5 195.1,186.9 195.4,186.2 195.7,185.6 196.0,185.0 196.3,184.5 196.6,183.9 196.9,183.4 197.1,182.8 197.4,182.3 197.7,181.8 198.0,181.1 198.3,180.9 198.6,180.7 198.9,180.2 199.2,180.0 199.5,179.8 199.8,179.6 200.2,179.3 200.5,178.7 200.8,178.5 201.1,178.4 201.4,178.2 201.7,178.0 202.0,178.4 202.3,178.3 202.6,178.1 202.9,177.9 203.2,177.7 203.5,177.6 203.8,177.6 204.2,177.4 204.5,177.2 204.8,177.1 205.1,176.7 205.4,176.5 205.7,176.3 206.0,176.1 206.3,175.6 206.6,175.3 206.9,174.9 207.2,174.4 207.5,173.8 207.8,173.3 208.1,172.8 208.4,172.3 208.7,171.7 209.0,171.2 209.3,171.6 209.7,172.0 210.0,172.4 210.3,173.0 210.7,173.5 211.0,173.7 211.3,173.3 211.6,173.0 211.9,172.7 212.2,172.5 212.5,172.2 212.8,171.9 213.1,171.8 213.4,171.7 213.7,171.5 214.0,171.1 214.3,170.6 214.7,170.2 215.0,170.0 215.3,169.7 215.6,169.4 215.9,169.1 216.2,168.7 216.5,168.4 216.8,168.1 217.1,167.9 217.4,167.5 217.7,166.9 218.0,166.6 218.3,166.3 218.6,166.0 218.9,165.7 219.2,165.6 219.6,165.6 219.9,165.3 220.2,165.0 220.5,164.8 220.8,164.7 221.1,164.4 221.4,164.1 221.8,163.8 222.1,163.4 222.4,163.1 222.7,162.7 223.0,162.3 223.3,161.7 223.6,161.2 223.9,160.7 224.2,160.2 224.5,159.7 224.8,159.2 225.1,158.7 225.4,158.2 225.7,157.7 226.0,157.2 226.3,157.0 226.6,156.9 226.9,156.8 227.2,156.7 227.6,156.6 227.9,156.5 228.2,156.4 228.5,156.3 228.8,156.2 229.1,156.1 229.4,156.0 229.8,156.1 230.1,156.1 230.4,155.9 230.7,155.8 231.0,155.7 231.3,155.5 231.6,155.4 231.9,155.2 232.2,155.1 232.6,154.9 232.9,154.8 233.2,154.7 233.5,154.6 233.8,154.3 234.1,153.8 234.4,153.1 234.8,153.0 235.1,152.8 235.4,152.7 235.7,152.5 236.0,152.4 236.3,152.9 236.6,153.0 236.9,152.5 237.2,152.2 237.5,151.9 237.8,151.7 238.1,151.4 238.4,151.2 238.7,151.1 239.0,150.9 239.3,150.8 239.6,150.8 239.9,150.8 240.2,150.7 240.5,150.6 240.8,150.6 241.1,150.6 241.4,150.5 241.7,150.5 242.0,150.9 242.3,150.9 242.6,150.8 242.9,150.6 243.2,150.4 243.5,150.4 243.8,150.3 244.1,150.3 244.4,150.3 244.7,150.2 245.0,150.2 245.3,150.2 245.6,150.1 245.9,150.0 246.2,149.7 246.5,149.6 246.8,149.6 247.1,149.6 247.4,149.5 247.7,149.5 248.0,149.5 248.3,149.5 248.6,149.7 248.9,149.5 249.2,149.4 249.5,149.4 249.8,149.4 250.1,149.3 250.4,149.3 250.8,149.3 251.1,149.3 251.4,149.3 251.7,149.4 252.0,149.4 252.3,149.6 252.6,149.6 252.9,149.4 253.2,148.8 253.5,148.8 253.8,148.8 254.1,148.7 254.4,148.7 254.7,149.1 255.0,149.0 255.3,149.0 255.6,149.1 255.9,149.1 256.2,149.1 256.6,149.5 256.9,149.6 257.2,149.3 257.5,149.2 257.8,149.2 258.1,149.2 258.4,149.2 258.7,149.2 259.0,149.2 259.3,149.7 259.5,150.6 259.8,151.1 260.1,151.7 260.4,152.2 260.6,152.8 260.9,152.7 261.2,153.1 261.5,153.6 261.7,154.1 262.0,154.7 262.3,155.2 262.5,155.9 262.8,156.8 263.1,157.4 263.4,157.8 263.6,158.4 263.9,158.9 264.2,159.5 264.5,160.0 264.7,160.5 265.0,160.9 265.3,161.3 265.5,161.9 265.8,162.4 266.1,163.0 266.4,163.5 266.6,164.2 266.9,165.0 267.2,165.3 267.5,165.9 267.7,166.4 268.0,167.0 268.3,167.5 268.5,168.3 268.8,168.4 269.1,168.9 269.4,169.5 269.6,170.0 269.9,170.6 270.2,171.1 270.5,171.8 270.7,172.4 271.0,173.0 271.3,173.5 271.6,174.1 271.9,174.6 272.2,175.4 272.5,175.9 272.8,176.5 273.0,177.0 273.3,177.5 273.6,178.1 273.9,178.6 274.2,179.2 274.5,179.7 274.8,180.3 275.1,181.1 275.4,181.6 275.7,182.0 276.0,182.3 276.2,182.9 276.5,183.4 276.8,184.0 277.1,184.5 277.4,185.2 277.7,185.7 278.0,186.3 278.3,186.6 278.6,187.2 278.9,187.5 279.2,187.9 279.5,188.3 279.8,188.6 280.2,189.0 280.5,189.4 280.8,189.8 281.1,190.1 281.4,190.4 281.7,190.7 282.0,190.9 282.3,191.2 282.6,191.4 282.9,191.7 283.2,191.9 283.5,192.3 283.8,192.6 284.1,192.8 284.4,193.1 284.7,193.3 285.0,193.6 285.3,193.9 285.6,194.0 285.9,194.2 286.2,194.5 286.5,194.7 286.8,195.0 287.1,195.5 287.4,196.0 287.7,196.2 288.0,196.2 288.3,196.5 288.6,196.7 288.9,197.0 289.2,197.3 289.5,197.8 289.8,198.0 290.1,198.2 290.4,198.5 290.7,198.7 291.0,199.0 291.3,199.2 291.6,199.5 291.9,199.8 292.2,199.9 292.5,200.2 292.8,200.4 293.1,200.7 293.4,201.0 293.7,201.2 294.0,201.5 294.3,201.7 294.6,201.9 294.9,202.1 295.2,202.3 295.5,202.5 295.8,202.7 296.2,202.9 296.5,203.3 296.8,203.5 297.1,203.7 297.4,203.9 297.7,204.1 298.0,204.3 298.3,204.3 298.6,203.9 298.9,203.7 299.2,203.7 299.5,203.6 299.8,203.6 300.1,203.5 300.4,203.7 300.7,203.8 301.0,203.8 301.3,203.5 301.6,203.5 301.9,203.4 302.2,203.4 302.5,203.3 302.8,203.3 303.1,203.2 303.4,203.2 303.7,203.1 304.0,203.1 304.3,203.1 304.6,203.2 304.9,203.2 305.2,203.2 305.5,203.1 305.8,203.0 306.1,203.0 306.5,202.9 306.8,202.8 307.1,202.7 307.4,202.7 307.7,202.4 308.0,202.3 308.3,202.2 308.6,202.1 308.7,201.5 308.7,200.9 308.8,200.4 308.8,199.8 308.9,199.3 309.0,198.8 309.0,198.3 309.1,197.7 309.1,197.2 309.2,196.6 309.3,197.2 309.3,197.8 309.4,198.3 309.4,198.9 309.5,199.4 309.6,199.9 309.6,200.4 309.7,200.9 309.7,201.5 309.8,202.1 310.1,202.3 310.4,202.5 310.7,202.9 311.0,203.2 311.4,203.4 311.7,203.6 312.0,203.6 312.3,203.7 312.6,203.9 312.9,204.1 313.2,204.3 313.5,204.5 313.8,204.5 314.1,204.7 314.4,204.9 314.8,205.1 315.1,205.3 315.4,205.9 315.7,206.1 316.0,206.3 316.3,206.4 316.6,206.6 316.9,206.7 317.2,206.9 317.5,207.2 317.8,207.3 318.2,207.5 318.5,207.5 318.8,207.7 319.1,207.9 319.4,208.0 319.7,208.2 320.0,208.5 320.3,208.7 320.6,208.8 320.9,208.7 321.2,208.8 321.5,209.0 321.8,209.2 322.2,209.3 322.5,209.6 322.8,209.2 323.1,209.3 323.4,209.5 323.7,209.7 324.0,209.8 324.3,209.7 324.6,209.6 324.9,209.6 325.2,209.5 325.5,209.4 325.8,209.4 326.1,209.5 326.4,209.6 326.7,209.5 327.0,209.4 327.3,209.4 327.6,209.3 327.9,209.2 328.2,209.2 328.5,209.3 328.8,209.2 329.1,209.1 329.4,209.1 329.7,209.0 330.0,208.9 330.1,208.3 330.1,207.7 330.2,207.1 330.3,206.4 330.4,205.8 330.5,205.1 330.5,204.5 330.6,203.8 330.7,204.5 330.7,205.1 330.8,205.7 330.9,206.3 330.9,206.9 331.0,207.5 331.1,208.1 331.1,208.5 331.2,209.1 331.5,209.3 331.8,209.4 332.1,209.6 332.4,209.8 332.7,210.2 333.1,210.5 333.4,210.6 333.7,210.6 334.0,210.8 334.3,211.0 334.6,211.1 334.9,211.3 335.2,211.7 335.5,211.9 335.8,211.8 336.1,212.0 336.5,212.1 336.8,212.1 337.1,212.0 337.4,212.2 337.7,212.4 338.0,212.6 338.3,212.8 338.6,213.3 338.9,213.7 339.2,213.9 339.5,214.1 339.8,214.3 340.1,214.5 340.4,214.7 340.7,214.9 341.0,215.1 341.3,215.3 341.6,215.5 341.9,215.7 342.2,216.0 342.5,215.9 342.8,216.1 343.1,216.3 343.4,216.5 343.7,216.7 344.0,217.1 344.3,216.6 344.6,216.8 344.9,216.9 345.2,217.1 345.5,217.2 345.8,217.5 346.1,218.2 346.4,218.3 346.7,218.5 347.0,218.6 347.3,218.8 347.6,219.2 347.9,219.1 348.2,219.2 348.5,219.3 348.8,219.2 349.1,219.0 349.4,219.1 349.7,219.3 350.0,219.4 350.3,219.6 350.6,220.0 350.9,220.5 351.2,220.7 351.5,220.9 351.8,221.0 352.1,221.3 352.4,221.7 352.7,221.8 353.0,221.9 353.3,221.9 353.6,222.1 353.9,221.8 354.3,221.5 354.6,220.9 355.0,220.6 355.3,220.3 355.7,219.9 356.0,219.6 356.3,219.7 356.6,219.9 356.9,220.1 357.2,220.3 357.5,220.8 357.8,220.9 358.2,221.1 358.5,221.6 358.8,221.6 359.1,221.8 359.4,221.9 359.7,222.1 360.0,222.2 360.3,222.2 360.6,222.5 360.9,222.8 361.2,223.1 361.5,223.4 361.8,223.8 362.1,224.4 362.4,224.4 362.7,224.7 363.0,225.0 363.3,225.3 363.7,225.6 364.0,225.5 364.3,225.8 364.6,226.1 364.9,226.4 365.2,226.7 365.5,227.0 365.8,227.9 366.1,228.4 366.4,228.7 366.7,229.0 367.0,229.4 367.3,229.6 367.6,229.8 367.9,230.0 368.2,230.2 368.5,230.4 368.8,230.4 369.1,230.6 369.4,230.8 369.7,231.0 370.0,230.7 370.3,230.6 370.6,230.8 370.9,231.0 371.2,231.2 371.5,231.4 371.8,231.7 372.1,232.3 372.4,233.0 372.7,233.2 373.0,233.4 373.3,233.0 373.6,232.7 373.9,232.4 374.2,232.2 374.5,231.9 374.8,231.7 375.1,231.7 375.4,231.5 375.7,231.3 376.0,230.9 376.3,230.6 376.7,230.3 377.0,230.1 377.3,229.8 377.6,229.3 377.9,228.8 378.2,228.6 378.5,228.3 378.8,228.1 379.1,227.8 379.4,227.7 379.7,227.7 380.0,227.5 380.3,227.1 380.6,226.8 380.9,226.5 381.2,226.0 381.5,225.7 381.8,225.3 382.1,225.0 382.4,224.5 382.7,223.7 383.0,223.3 383.3,223.0 383.6,222.6 383.9,222.3 384.2,221.9 384.5,221.9 384.8,221.8 385.1,221.5 385.4,220.7 385.7,219.9 386.0,219.5 386.3,219.4 386.6,219.3 386.9,219.1 387.2,219.1 387.5,219.5 387.8,219.6 388.1,219.4 388.4,219.2 388.7,218.8 389.0,218.7 389.3,218.7 389.6,218.6 389.9,218.6 390.2,218.8 390.5,218.6 390.8,218.5 391.1,218.5 391.4,218.4 391.7,218.4 392.0,218.4 392.3,218.4 392.6,218.3 392.6,219.8 392.3,219.9 392.0,220.0 391.7,220.0 391.4,220.2 391.1,220.3 390.8,220.4 390.5,220.4 390.2,220.5 389.9,220.5 389.6,220.4 389.3,220.4 389.0,220.4 388.7,220.5 388.4,221.0 388.1,221.3 387.8,221.4 387.5,221.6 387.2,221.7 386.9,221.8 386.6,221.6 386.3,221.6 386.0,221.7 385.7,222.1 385.4,222.5 385.1,222.9 384.8,223.3 384.5,223.6 384.2,224.0 383.9,224.3 383.6,224.7 383.3,225.1 383.0,225.5 382.7,225.8 382.4,226.2 382.1,226.5 381.8,227.1 381.5,227.4 381.2,227.8 380.9,228.1 380.6,228.5 380.3,228.7 380.0,229.1 379.7,229.3 379.4,229.4 379.1,229.7 378.8,229.9 378.5,230.2 378.2,230.8 377.9,231.0 377.6,231.3 377.3,231.6 377.0,231.8 376.7,232.1 376.3,232.5 376.0,232.8 375.7,233.0 375.4,233.3 375.1,233.6 374.8,233.7 374.5,233.7 374.2,233.8 373.9,234.2 373.6,234.4 373.3,234.7 373.0,235.0 372.7,234.9 372.4,234.7 372.1,234.5 371.8,234.3 371.5,234.1 371.2,233.5 370.9,233.1 370.6,233.0 370.3,232.8 370.0,232.6 369.7,232.5 369.4,232.3 369.1,232.1 368.8,232.1 368.5,232.0 368.2,231.8 367.9,231.6 367.6,231.4 367.3,231.2 367.0,230.9 366.7,230.6 366.4,230.3 366.1,229.9 365.8,229.6 365.5,229.3 365.2,229.0 364.9,228.7 364.6,228.2 364.3,227.9 364.0,227.6 363.7,227.3 363.3,227.0 363.0,226.8 362.7,226.5 362.4,226.2 362.1,225.9 361.8,225.5 361.5,225.1 361.2,224.9 360.9,224.6 360.6,224.3 360.3,224.0 360.0,223.7 359.7,223.5 359.4,223.7 359.1,223.6 358.8,223.4 358.5,223.3 358.2,223.1 357.8,223.0 357.5,222.7 357.2,222.3 356.9,222.0 356.6,221.8 356.3,221.7 356.0,221.6 355.7,221.8 355.3,222.4 355.0,222.7 354.6,223.0 354.3,223.3 353.9,223.6 353.6,223.7 353.3,223.7 353.0,223.5 352.7,223.4 352.4,223.2 352.1,223.0 351.8,222.9 351.5,222.7 351.2,222.5 350.9,222.4 350.6,222.2 350.3,222.0 350.0,221.9 349.7,221.5 349.4,221.1 349.1,221.0 348.8,221.1 348.5,221.3 348.2,221.4 347.9,221.3 347.6,221.1 347.3,221.0 347.0,220.8 346.7,220.7 346.4,220.0 346.1,219.8 345.8,219.7 345.5,219.5 345.2,219.4 344.9,219.1 344.6,219.0 344.3,218.9 344.0,218.7 343.7,218.5 343.4,218.3 343.1,218.1 342.8,217.9 342.5,217.7 342.2,217.5 341.9,217.3 341.6,217.4 341.3,217.3 341.0,217.1 340.7,216.9 340.4,216.7 340.1,216.5 339.8,215.8 339.5,215.6 339.2,215.5 338.9,215.3 338.6,215.1 338.3,214.9 338.0,214.7 337.7,214.5 337.4,214.0 337.1,213.9 336.8,214.2 336.5,214.0 336.1,213.9 335.8,213.7 335.5,213.5 335.2,213.3 334.9,212.9 334.6,212.7 334.3,212.9 334.0,212.9 333.7,212.7 333.4,212.5 333.1,212.3 332.7,212.1 332.4,211.9 332.1,211.4 331.8,211.0 331.5,210.9 331.2,210.7 331.1,210.1 331.1,209.5 331.0,208.9 330.9,208.3 330.9,207.7 330.8,207.0 330.7,206.4 330.7,205.8 330.6,205.2 330.5,205.8 330.5,206.5 330.4,207.1 330.3,207.8 330.2,208.4 330.1,209.1 330.1,209.7 330.0,210.4 329.7,210.4 329.4,210.5 329.1,210.9 328.8,211.3 328.5,211.4 328.2,211.4 327.9,211.5 327.6,211.6 327.3,211.1 327.0,211.3 326.7,211.4 326.4,211.5 326.1,211.5 325.8,211.6 325.5,211.6 325.2,211.2 324.9,211.3 324.6,211.6 324.3,211.6 324.0,211.7 323.7,211.7 323.4,211.9 323.1,211.7 322.8,211.6 322.5,211.4 322.2,211.3 321.8,210.9 321.5,210.9 321.2,210.7 320.9,210.6 320.6,210.6 320.3,210.6 320.0,210.4 319.7,210.3 319.4,210.1 319.1,210.0 318.8,209.3 318.5,209.1 318.2,209.3 317.8,209.1 317.5,209.0 317.2,208.8 316.9,208.7 316.6,208.3 316.3,207.9 316.0,208.0 315.7,207.8 315.4,207.6 315.1,207.4 314.8,207.2 314.4,207.0 314.1,206.5 313.8,206.3 313.5,206.1 313.2,205.9 312.9,205.9 312.6,205.9 312.3,205.8 312.0,205.6 311.7,205.4 311.4,205.2 311.0,205.0 310.7,204.5 310.4,204.3 310.1,204.1 309.8,203.9 309.7,203.1 309.7,202.6 309.6,202.0 309.6,201.5 309.5,200.9 309.4,200.3 309.4,199.7 309.3,199.1 309.3,198.5 309.2,197.9 309.1,198.5 309.1,199.1 309.0,199.7 309.0,200.3 308.9,200.9 308.8,201.4 308.8,202.0 308.7,202.5 308.7,203.0 308.6,204.2 308.3,204.7 308.0,204.7 307.7,204.8 307.4,204.9 307.1,204.9 306.8,204.4 306.5,204.4 306.1,204.6 305.8,204.9 305.5,204.9 305.2,205.0 304.9,205.1 304.6,205.1 304.3,205.0 304.0,204.9 303.7,204.8 303.4,204.8 303.1,204.8 302.8,204.9 302.5,204.9 302.2,205.0 301.9,205.0 301.6,205.0 301.3,205.1 301.0,205.1 300.7,205.3 300.4,205.3 300.1,205.4 299.8,205.4 299.5,205.5 299.2,205.4 298.9,205.5 298.6,205.7 298.3,205.8 298.0,205.8 297.7,205.6 297.4,205.4 297.1,205.4 296.8,205.2 296.5,205.0 296.2,204.8 295.8,204.6 295.5,204.4 295.2,204.3 294.9,204.1 294.6,203.9 294.3,203.7 294.0,203.5 293.7,203.1 293.4,202.8 293.1,202.5 292.8,202.3 292.5,201.9 292.2,201.6 291.9,201.3 291.6,201.1 291.3,200.8 291.0,200.5 290.7,200.4 290.4,200.1 290.1,199.9 289.8,199.6 289.5,199.3 289.2,199.1 288.9,198.9 288.6,198.9 288.3,198.6 288.0,198.4 287.7,198.1 287.4,197.9 287.1,197.4 286.8,197.0 286.5,196.7 286.2,196.5 285.9,196.1 285.6,196.1 285.3,195.8 285.0,195.6 284.7,195.3 284.4,195.1 284.1,194.8 283.8,194.5 283.5,194.3 283.2,194.0 282.9,193.5 282.6,193.2 282.3,192.8 282.0,192.7 281.7,192.3 281.4,192.0 281.1,191.6 280.8,191.3 280.5,190.9 280.2,190.5 279.8,190.1 279.5,189.7 279.2,189.4 278.9,189.0 278.6,188.6 278.3,188.2 278.0,187.9 277.7,187.5 277.4,187.0 277.1,186.4 276.8,185.9 276.5,185.3 276.2,184.8 276.0,184.8 275.7,184.2 275.4,183.7 275.1,183.1 274.8,182.6 274.5,182.0 274.2,181.2 273.9,180.3 273.6,180.2 273.3,179.6 273.0,179.1 272.8,178.6 272.5,178.0 272.2,177.3 271.9,176.2 271.6,175.7 271.3,175.3 271.0,174.7 270.7,174.2 270.5,173.7 270.2,173.1 269.9,172.5 269.6,171.7 269.4,171.3 269.1,170.9 268.8,170.5 268.5,169.9 268.3,169.4 268.0,168.8 267.7,168.5 267.5,168.3 267.2,167.8 266.9,167.3 266.6,166.7 266.4,166.2 266.1,165.4 265.8,164.4 265.5,163.6 265.3,163.2 265.0,162.7 264.7,162.1 264.5,161.6 264.2,161.0 263.9,160.4 263.6,160.0 263.4,159.6 263.1,159.1 262.8,158.6 262.5,158.0 262.3,157.5 262.0,156.7 261.7,156.5 261.5,156.4 261.2,155.8 260.9,155.3 260.6,154.8 260.4,154.2 260.1,153.4 259.8,152.8 259.5,152.3 259.3,151.7 259.0,151.2 258.7,151.2 258.4,151.0 258.1,150.8 257.8,151.1 257.5,151.1 257.2,151.1 256.9,151.1 256.6,151.1 256.2,151.1 255.9,151.1 255.6,151.1 255.3,150.8 255.0,150.8 254.7,150.8 254.4,150.8 254.1,150.8 253.8,151.1 253.5,151.1 253.2,151.2 252.9,151.2 252.6,151.2 252.3,151.2 252.0,151.3 251.7,151.3 251.4,151.3 251.1,151.1 250.8,150.9 250.4,150.9 250.1,151.0 249.8,151.0 249.5,151.2 249.2,151.3 248.9,151.3 248.6,151.3 248.3,151.4 248.0,151.4 247.7,151.4 247.4,151.3 247.1,151.1 246.8,151.3 246.5,151.7 246.2,151.7 245.9,151.8 245.6,151.8 245.3,151.8 245.0,151.8 244.7,151.7 244.4,151.7 244.1,151.8 243.8,152.2 243.5,152.3 243.2,152.3 242.9,152.4 242.6,152.8 242.3,152.8 242.0,152.9 241.7,152.9 241.4,152.9 241.1,153.0 240.8,152.3 240.5,152.1 240.2,152.2 239.9,152.2 239.6,152.3 239.3,152.7 239.0,152.7 238.7,152.9 238.4,153.2 238.1,153.4 237.8,153.5 237.5,153.8 237.2,154.1 236.9,154.3 236.6,154.6 236.3,154.8 236.0,154.9 235.7,155.0 235.4,155.1 235.1,155.0 234.8,155.3 234.4,155.7 234.1,156.1 233.8,156.2 233.5,156.4 233.2,156.5 232.9,156.7 232.6,156.7 232.2,156.9 231.9,157.0 231.6,157.2 231.3,157.3 231.0,157.5 230.7,157.4 230.4,157.7 230.1,157.8 229.8,157.9 229.4,158.0 229.1,158.1 228.8,157.9 228.5,158.0 228.2,158.1 227.9,158.2 227.6,158.3 227.2,158.4 226.9,158.4 226.6,158.5 226.3,158.6 226.0,158.7 225.7,159.2 225.4,159.8 225.1,160.3 224.8,160.8 224.5,161.3 224.2,161.8 223.9,162.2 223.6,162.9 223.3,163.7 223.0,164.2 222.7,164.6 222.4,164.9 222.1,165.2 221.8,165.4 221.4,165.5 221.1,165.8 220.8,166.1 220.5,166.4 220.2,166.8 219.9,167.1 219.6,167.4 219.2,167.5 218.9,167.8 218.6,168.1 218.3,168.5 218.0,168.8 217.7,169.0 217.4,169.3 217.1,169.6 216.8,169.9 216.5,170.2 216.2,170.4 215.9,170.7 215.6,171.0 215.3,171.2 215.0,171.8 214.7,172.1 214.3,172.4 214.0,172.8 213.7,173.2 213.4,173.5 213.1,173.7 212.8,174.0 212.5,174.3 212.2,174.1 211.9,174.4 211.6,174.8 211.3,175.9 211.0,176.2 210.7,175.8 210.3,175.4 210.0,175.0 209.7,174.1 209.3,173.2 209.0,172.8 208.7,173.3 208.4,173.8 208.1,174.3 207.8,174.7 207.5,175.5 207.2,176.0 206.9,176.6 206.6,177.1 206.3,177.6 206.0,178.1 205.7,178.2 205.4,178.3 205.1,178.5 204.8,178.7 204.5,178.9 204.2,179.1 203.8,179.3 203.5,179.2 203.2,179.4 202.9,179.6 202.6,179.8 202.3,179.8 202.0,180.0 201.7,180.2 201.4,180.4 201.1,180.6 200.8,180.6 200.5,180.8 200.2,181.0 199.8,181.2 199.5,181.4 199.2,181.7 198.9,182.0 198.6,182.2 198.3,182.8 198.0,183.1 197.7,183.6 197.4,184.1 197.1,184.7 196.9,185.2 196.6,185.5 196.3,186.0 196.0,186.7 195.7,187.3 195.4,187.8 195.1,188.3 194.9,189.0 194.6,189.5 194.3,190.1 194.0,190.6 193.7,190.7 193.4,190.6 193.1,190.6 192.8,191.2 192.5,191.3 192.2,191.3 191.9,191.4 191.6,191.4 191.3,191.5 191.0,191.1 190.7,190.9 190.4,190.8 190.1,190.8 189.8,190.6 189.5,190.6 189.2,190.6 188.9,190.6 188.6,190.7 188.3,191.0 188.0,191.1 187.7,191.5 187.4,192.0 187.1,192.3 186.8,192.7 186.5,193.1 186.2,193.4 185.9,193.8 185.6,194.1 185.3,194.3 185.0,194.7 184.7,194.8 184.4,195.0 184.1,195.1 183.8,195.9 183.4,196.1 183.1,196.2 182.8,196.3 182.5,196.5 182.2,196.6 181.9,196.2 181.6,196.3 181.2,196.5 180.9,196.6 180.6,196.6 180.3,196.6 180.0,196.9 179.7,197.4 179.4,197.5 179.1,197.7 178.8,197.8 178.5,198.0 178.2,198.1 177.9,198.1 177.6,198.0 177.3,198.1 177.0,198.3 176.7,198.6 176.4,198.8 176.1,199.0 175.8,199.1 175.5,199.3 175.2,199.4 174.9,199.1 174.6,199.3 174.3,199.4 174.0,199.6 173.7,199.8 173.4,200.4 173.1,200.7 172.8,201.0 172.5,201.3 172.2,201.6 171.9,201.8 171.6,202.1 171.3,202.8 171.0,203.6 170.7,203.9 170.4,204.2 170.1,204.5 169.8,204.8 169.5,204.6 169.2,204.8 168.9,205.1 168.6,205.4 168.3,205.5 168.0,206.2 167.7,206.4 167.4,206.6 167.1,206.8 166.8,207.0 166.5,207.1 166.2,207.3 165.9,207.5 165.6,207.7 165.3,207.8 165.0,208.0 164.7,208.2 164.4,208.4 164.1,208.6 163.8,208.7 163.5,208.8 163.2,208.9 162.9,209.1 162.6,209.3 162.3,209.5 162.0,209.7 161.7,209.8 161.4,209.9 161.1,210.2 160.8,210.7 160.5,211.0 160.2,211.7 159.9,212.0 159.6,212.3 159.3,212.6 159.0,212.9 158.7,213.1 158.4,213.5 158.1,213.8 157.8,214.1 157.5,214.4 157.2,214.7 156.9,214.7 156.6,215.0 156.3,215.3 156.0,215.6 155.7,216.0 155.4,216.5 155.0,217.2 154.7,217.9 154.4,218.3 154.1,218.7 153.7,219.1 153.4,219.5 153.1,219.5 152.8,219.7 152.4,220.1 152.1,220.6 151.8,221.0 151.5,221.2 151.2,221.7 150.9,221.8 150.6,222.0 150.3,222.1 150.0,222.3 149.7,222.3 149.4,222.3 149.1,222.4 148.7,222.4 148.4,222.4 148.1,222.5 147.8,223.0 147.5,223.3 147.2,223.5 146.9,223.6 146.6,223.8 146.3,224.0 146.0,224.2 145.7,224.6 145.4,225.1 145.1,225.5 144.8,225.9 144.4,226.0 144.1,226.2 143.8,226.5 143.5,226.8 143.2,227.1 142.9,227.4 142.6,227.7 142.3,227.8 142.0,228.1 141.7,228.5 141.4,229.2 141.1,229.8 140.8,230.1 140.5,230.4 140.2,230.7 139.9,231.0 139.6,231.2 139.3,231.1 139.0,231.3 138.7,231.6 138.4,231.9 138.1,232.2 137.8,232.5 137.5,232.8 137.2,233.1 136.9,233.5 136.6,233.8 136.3,234.1 136.0,234.4 135.7,234.7 135.4,234.9 135.1,235.1 134.8,235.2 134.5,235.3 134.2,235.5 133.9,235.6 133.5,235.9 133.2,236.2 132.9,236.4 132.6,236.5 132.3,236.6 132.0,236.8 131.7,236.6 131.4,236.7 131.1,236.9 130.8,237.2 130.5,237.7 130.2,237.9 129.8,238.1 129.5,238.4 129.2,238.6 128.9,238.9 128.6,239.2 128.3,239.4 128.0,239.6 127.7,239.9 127.4,240.1 127.0,240.3 126.7,240.2 126.4,240.2 126.1,240.5 125.8,240.7 125.5,240.9 125.1,241.1 124.8,241.3 124.5,241.6 124.2,241.7 123.9,241.9 123.5,242.1 123.2,242.3 122.9,242.5 122.6,242.6 122.3,243.0 122.0,243.0 121.7,243.1 121.4,243.2 121.1,243.3 120.8,243.4 120.5,243.2 120.2,243.3 119.9,243.4 119.6,243.6 119.3,243.9 119.0,244.2 118.7,244.4 118.4,244.6 118.1,244.7 117.8,244.8 117.5,244.9 117.2,244.9 116.9,245.0 116.6,244.8 116.3,244.6 116.0,244.8 115.7,244.9 115.4,245.0 115.1,245.5 114.8,246.3 114.5,247.2 114.3,247.8 114.0,248.4 113.7,249.0 113.4,249.5 113.1,249.8 112.8,249.8 112.5,250.3 112.2,250.8 112.1,251.4 111.9,252.0 111.7,252.4 111.5,253.2 111.4,254.2 111.2,254.9 111.0,255.5 110.8,256.1 110.6,256.7 110.5,257.3 110.3,257.9 110.1,258.4 110.0,259.0 109.9,259.6 109.9,260.2 109.8,260.8 109.7,261.4 109.6,262.1 109.5,262.7 109.5,263.4 109.4,264.0 109.3,264.6 109.2,265.2 109.1,265.8 109.0,266.4 109.0,266.9 108.9,267.4 108.8,268.0 108.7,268.5 108.6,269.1 108.6,269.9 108.5,270.7 108.4,271.4 108.3,272.2 108.2,272.9 108.2,273.6 108.1,274.2 108.0,274.8 107.9,275.4 107.8,276.0 107.7,276.4 107.6,276.8 107.5,277.2 107.4,277.6 107.3,278.0 107.2,278.5 107.1,278.9 106.9,279.4 106.8,279.8 106.7,280.4 106.6,281.4 106.5,282.3 106.4,283.1 106.3,283.7 106.2,284.3 106.1,284.9 106.0,285.5 105.9,286.0 105.8,286.6 105.7,287.2 105.6,287.8 105.5,288.4 105.4,289.0 105.3,289.5 105.2,290.0 105.0,290.6 104.9,291.2 104.8,291.8 104.7,292.4 104.6,293.0 104.5,293.4 104.4,294.1 104.3,295.0 104.2,295.8 104.1,296.4 103.9,297.0 103.7,297.5 103.5,298.1 103.4,298.6 103.2,299.0 103.0,299.4 102.8,300.0 102.6,300.6 102.4,301.2 102.2,301.8 102.0,302.0 101.9,302.8 101.7,303.4 101.5,304.0 101.3,304.6 101.1,305.2 100.9,305.6 100.7,306.4 100.6,307.2 100.4,307.8 100.2,308.4 100.0,309.0 99.8,309.6 99.6,310.1 99.4,310.5 99.3,311.0 99.1,311.6 98.9,312.2 98.7,312.7 98.5,313.2 98.3,313.5 98.1,314.3 98.0,315.2 97.8,316.0 97.6,316.9 97.4,317.6 97.2,318.3 97.0,318.9 96.9,319.5 96.7,320.1 96.5,320.7 96.3,321.3 96.1,321.7 95.9,322.0 95.7,322.3 95.6,322.7 95.4,323.4 95.2,324.1 95.0,324.7 94.9,325.3 94.7,325.9 94.6,326.5 94.5,327.1 94.3,327.8 94.2,328.4 94.1,329.0 94.0,329.6 93.8,330.2 93.7,330.7 93.6,331.2 93.4,331.8 93.3,332.4 93.2,333.0 93.0,333.7 92.9,334.4 92.8,335.1 92.7,335.7 92.5,336.3 92.4,337.0 92.3,337.6 92.1,338.2 92.0,338.9 92.0,339.5 91.9,340.1 91.8,340.7 91.8,341.4 91.8,342.0 91.7,342.6 91.6,343.2 91.6,343.8 91.5,344.4 91.4,345.0 91.3,345.6 91.2,346.3 91.1,346.9 91.0,347.6 90.7,347.8 90.4,348.0 90.1,348.2 89.8,348.6 89.5,349.2 89.2,349.4 88.8,349.6 88.5,349.8 88.2,350.0 87.9,349.8 87.6,350.0 87.3,350.2 87.0,350.4 86.7,350.6 86.4,350.7 86.1,350.6 85.8,350.8 85.5,350.9 85.2,351.3 84.9,351.5 84.6,351.7 84.3,351.9 84.0,352.0 83.7,352.1 83.3,352.1 83.0,352.3 82.7,352.3 82.4,352.4 82.0,352.4 81.7,352.5 81.4,352.4 81.1,352.5 80.7,352.5 80.4,352.6Z M394.9,215.2 395.0,214.5 395.0,213.9 395.1,213.3 395.1,212.7 395.2,212.1 395.3,211.5 395.3,210.9 395.4,210.2 395.4,209.7 395.5,209.1 395.6,208.5 395.6,207.8 395.7,207.2 395.8,206.5 395.8,205.8 395.9,205.2 395.9,204.6 396.0,204.0 396.1,204.6 396.2,205.2 396.4,206.1 396.5,206.9 396.6,207.5 396.8,208.0 396.9,208.6 397.0,209.3 397.0,210.7 396.9,210.3 396.8,209.7 396.6,209.1 396.5,208.5 396.4,207.8 396.2,207.2 396.1,206.6 396.0,205.7 395.9,206.1 395.9,206.7 395.8,207.3 395.8,208.0 395.7,208.6 395.6,209.2 395.6,209.8 395.5,210.4 395.4,211.0 395.4,211.6 395.3,212.2 395.3,212.8 395.2,213.4 395.1,214.0 395.1,214.6 395.0,215.3 395.0,215.9 394.9,216.5Z M398.4,288.2 398.4,287.6 398.5,287.0 398.5,286.4 398.6,285.8 398.6,285.2 398.7,284.6 398.7,284.0 398.8,283.4 398.8,282.8 398.9,282.2 398.9,281.6 399.0,281.0 399.0,280.4 399.1,279.8 399.1,279.2 399.2,278.6 399.2,278.0 399.3,277.4 399.3,276.8 399.4,276.2 399.4,275.6 399.5,275.0 399.5,274.4 399.6,273.8 399.6,273.2 399.9,273.8 400.3,274.3 400.6,275.1 401.0,275.5 401.3,276.0 401.7,276.5 402.0,277.1 402.2,277.7 402.4,278.2 402.6,278.6 402.9,279.1 403.1,279.7 403.3,280.2 403.5,280.8 403.7,281.4 403.9,282.0 404.1,282.5 404.4,283.2 404.6,283.9 404.8,284.7 405.0,285.3 405.3,285.8 405.6,286.3 405.9,286.7 406.2,287.2 406.4,287.8 406.7,288.4 407.0,288.9 407.3,289.5 407.6,290.1 407.7,289.5 407.8,289.0 407.8,288.5 407.9,288.0 408.0,287.5 408.1,286.9 408.1,286.3 408.2,285.7 408.3,285.1 408.4,284.5 408.5,284.0 408.5,283.4 408.6,282.9 408.7,282.3 408.8,281.6 408.8,281.0 408.9,280.4 409.0,279.8 409.0,281.2 408.9,281.8 408.8,282.5 408.8,283.1 408.7,283.7 408.6,284.4 408.5,285.0 408.5,285.6 408.4,286.1 408.3,286.7 408.2,287.2 408.1,287.7 408.1,288.3 408.0,288.8 407.9,289.4 407.8,290.0 407.8,290.6 407.7,291.2 407.6,291.8 407.3,291.1 407.0,290.4 406.7,289.8 406.4,289.4 406.2,288.9 405.9,288.3 405.6,287.9 405.3,287.4 405.0,286.8 404.8,286.3 404.6,285.7 404.4,285.1 404.1,284.4 403.9,283.7 403.7,283.0 403.5,282.2 403.3,281.8 403.1,281.4 402.9,280.9 402.6,280.3 402.4,279.7 402.2,279.1 402.0,278.7 401.7,278.2 401.3,277.6 401.0,277.0 400.6,276.5 400.3,275.9 399.9,275.3 399.6,274.7 399.6,275.2 399.5,275.7 399.5,276.3 399.4,276.9 399.4,277.5 399.3,278.1 399.3,278.7 399.2,279.3 399.2,279.9 399.1,280.5 399.1,281.1 399.0,281.7 399.0,282.3 398.9,282.9 398.9,283.5 398.8,284.1 398.8,284.7 398.7,285.3 398.7,285.9 398.6,286.5 398.6,287.1 398.5,287.7 398.5,288.4 398.4,289.0 398.4,289.6Z M410.5,144.1 410.9,144.6 411.4,145.1 411.4,147.0 410.9,146.5 410.5,146.0Z M411.8,289.3 411.9,289.9 411.9,290.5 412.0,291.1 412.0,291.7 412.1,292.4 412.1,293.1 412.2,293.7 412.2,294.4 412.3,294.8 412.3,295.3 412.4,295.8 412.4,296.3 412.5,296.8 412.5,297.3 412.6,297.8 412.6,298.3 412.7,298.8 412.7,299.4 412.8,300.0 412.8,300.6 412.9,301.2 412.9,301.9 413.0,302.5 413.2,303.2 413.5,303.9 413.8,304.5 414.0,305.2 414.2,306.1 414.5,306.8 414.8,307.5 415.0,308.1 415.3,308.3 415.6,308.4 415.9,308.4 416.2,308.6 416.6,308.6 416.9,308.7 417.2,308.7 417.5,308.7 417.8,308.7 418.1,308.7 418.4,308.8 418.8,308.9 419.1,308.9 419.4,309.1 419.7,309.1 420.0,309.2 420.3,309.1 420.6,309.0 420.9,308.9 421.2,308.9 421.5,308.8 421.8,308.7 422.1,308.6 422.4,308.6 422.7,308.6 423.0,308.6 423.3,308.5 423.6,308.3 423.9,307.9 424.2,307.1 424.5,307.0 424.8,306.9 425.1,306.8 425.4,306.7 425.7,306.7 426.0,306.6 426.3,306.5 426.6,306.3 426.9,306.6 427.2,306.5 427.5,306.3 427.8,306.2 428.2,306.0 428.5,305.9 428.8,305.8 429.1,305.6 429.4,305.5 429.7,305.3 430.0,305.6 430.3,305.4 430.6,305.2 430.9,304.8 431.2,304.5 431.5,304.4 431.8,304.2 432.2,304.0 432.5,303.9 432.8,303.9 433.1,303.8 433.4,303.7 433.7,303.5 434.0,303.4 434.1,304.1 434.3,305.0 434.4,305.8 434.5,304.9 434.6,304.1 434.7,303.1 434.8,302.5 435.1,302.2 435.4,302.0 435.7,301.7 436.1,301.2 436.4,300.9 436.7,300.6 437.0,300.3 437.3,300.1 437.6,299.9 437.9,299.7 438.2,299.2 438.6,298.9 438.9,298.6 439.2,298.3 439.5,298.1 439.8,297.8 440.1,297.7 440.4,297.4 440.7,297.2 441.1,296.9 441.4,296.7 441.7,296.5 442.0,296.2 442.3,295.8 442.6,295.5 442.9,295.1 443.2,294.8 443.5,294.4 443.8,294.2 444.1,293.9 444.4,293.5 444.7,293.2 445.0,292.8 445.3,292.5 445.6,292.1 445.9,291.8 446.2,291.5 446.5,291.1 446.8,290.7 447.1,290.4 447.4,290.0 447.7,289.7 448.0,289.3 448.3,289.1 448.6,288.9 448.9,288.7 449.2,288.4 449.5,288.2 449.8,287.6 450.2,287.3 450.5,287.0 450.8,286.8 451.1,286.5 451.4,286.3 451.7,286.1 452.0,285.8 452.3,285.8 452.6,285.9 452.9,285.7 453.2,285.5 453.5,285.2 453.8,284.7 454.2,284.4 454.5,284.0 454.8,283.4 455.1,283.2 455.4,282.9 455.7,282.7 456.0,282.5 456.3,282.5 456.6,282.6 456.9,282.1 457.2,281.5 457.5,281.2 457.8,280.9 458.2,280.6 458.5,280.3 458.8,280.2 459.1,279.9 459.4,279.6 459.7,279.3 460.0,279.1 460.3,278.7 460.6,278.3 460.9,277.9 461.2,277.5 461.5,277.1 461.8,276.7 462.2,276.3 462.5,275.9 462.8,275.6 463.1,275.3 463.4,274.9 463.7,274.5 464.0,274.1 464.3,273.7 464.6,273.3 464.9,272.8 465.2,272.4 465.5,272.0 465.8,271.7 466.2,271.3 466.5,270.9 466.8,270.5 467.1,269.8 467.4,269.1 467.7,268.7 468.0,268.3 468.3,268.0 468.6,267.7 468.9,268.0 469.2,268.0 469.5,267.7 469.8,267.5 470.2,267.2 470.5,266.9 470.8,266.6 471.1,266.3 471.4,266.0 471.7,265.7 472.0,265.4 472.3,264.9 472.6,264.6 472.9,264.3 473.2,264.0 473.5,263.7 473.8,263.4 474.2,263.2 474.5,262.7 474.8,262.4 475.1,262.1 475.4,261.8 475.7,261.5 476.0,261.2 476.3,261.1 476.6,261.0 476.9,260.9 477.2,260.8 477.5,260.7 477.8,260.6 478.1,260.3 478.4,260.2 478.7,260.1 479.0,260.0 479.3,259.9 479.6,260.1 479.9,260.1 480.2,259.8 480.5,259.7 480.8,259.6 481.2,259.5 481.5,259.4 481.8,259.4 482.1,259.3 482.4,259.2 482.7,259.1 483.0,259.0 483.3,259.0 483.6,258.7 483.9,258.6 484.2,258.4 484.5,258.3 484.8,258.2 485.1,258.2 485.4,258.1 485.7,258.0 486.0,258.0 486.3,257.9 486.6,257.8 486.9,257.3 487.2,256.9 487.5,256.6 487.8,256.3 488.2,255.8 488.5,255.3 488.8,255.0 489.1,254.7 489.4,254.4 489.7,254.1 490.0,254.1 490.3,254.2 490.6,254.2 490.9,253.6 491.2,253.2 491.5,253.0 491.8,252.8 492.2,252.7 492.5,252.5 492.8,252.4 493.1,252.5 493.4,252.5 493.7,252.3 494.0,252.2 494.3,252.0 494.6,251.8 494.9,251.5 495.2,251.3 495.5,251.2 495.8,251.0 496.2,250.9 496.5,250.8 496.8,250.9 497.1,250.7 497.4,250.6 497.7,250.7 498.0,250.5 498.3,250.2 498.6,249.8 498.9,249.6 499.2,249.4 499.6,249.2 499.9,248.9 500.2,248.7 500.5,248.4 500.8,247.6 501.1,247.3 501.4,247.1 501.8,246.9 502.1,246.7 502.4,246.5 502.7,246.9 503.0,247.0 503.3,246.7 503.6,246.3 503.9,246.0 504.2,245.9 504.5,245.8 504.8,245.7 505.1,245.6 505.4,245.9 505.8,246.1 506.1,245.9 506.4,245.6 506.7,245.4 507.0,245.3 507.3,244.7 507.6,244.1 507.9,244.0 508.2,243.9 508.5,243.8 508.8,243.7 509.1,244.3 509.4,245.0 509.7,244.7 510.0,244.3 510.3,244.2 510.6,244.1 510.9,244.0 511.2,243.6 511.6,243.5 511.9,243.4 512.2,243.3 512.5,243.2 512.8,243.6 513.1,243.6 513.4,243.6 513.7,243.5 514.0,243.4 514.3,243.2 514.6,243.0 514.9,242.4 515.2,242.1 515.5,241.8 515.8,241.6 516.1,241.4 516.4,241.2 516.7,241.0 517.0,241.1 517.3,241.2 517.6,241.0 517.9,240.7 518.2,240.4 518.5,240.2 518.8,240.0 519.1,239.8 519.4,239.6 519.7,239.4 520.0,239.1 520.3,239.0 520.6,238.9 520.9,238.8 521.2,238.7 521.5,238.7 521.8,238.6 522.2,238.5 522.5,238.3 522.8,238.2 523.1,238.2 523.4,238.2 523.7,238.0 524.0,237.7 524.3,237.6 524.6,237.3 524.9,237.0 525.2,236.8 525.5,236.7 525.8,236.6 526.2,236.5 526.5,236.9 526.8,236.8 527.1,236.5 527.4,236.4 527.7,236.3 528.0,236.2 528.3,235.9 528.6,235.6 528.9,235.3 529.2,235.0 529.5,234.9 529.8,234.5 530.2,233.9 530.5,233.3 530.8,233.0 531.1,232.7 531.4,232.4 531.7,232.1 532.0,231.8 532.3,231.7 532.6,231.4 532.9,231.1 533.2,230.8 533.5,230.5 533.8,230.3 534.2,230.0 534.5,229.6 534.8,229.3 535.1,228.8 535.4,228.5 535.7,228.2 536.0,227.9 536.3,227.7 536.6,227.7 536.9,227.8 537.2,227.7 537.5,227.6 537.8,227.3 538.2,227.1 538.5,227.0 538.8,226.9 539.1,226.8 539.4,226.6 539.7,226.5 540.0,226.4 540.3,226.5 540.6,226.1 540.9,226.1 541.2,226.2 541.5,226.2 541.8,226.2 542.1,226.7 542.4,226.7 542.7,226.8 543.0,226.8 543.3,227.2 543.6,227.3 543.6,228.9 543.3,228.9 543.0,228.9 542.7,228.8 542.4,228.8 542.1,228.4 541.8,228.3 541.5,228.2 541.2,228.4 540.9,228.3 540.6,228.3 540.3,228.3 540.0,228.2 539.7,228.2 539.4,228.3 539.1,228.4 538.8,228.5 538.5,228.6 538.2,228.8 537.8,229.0 537.5,229.1 537.2,229.2 536.9,229.3 536.6,229.4 536.3,229.5 536.0,229.6 535.7,230.0 535.4,230.3 535.1,230.6 534.8,231.0 534.5,231.4 534.2,231.7 533.8,232.0 533.5,232.3 533.2,232.6 532.9,232.9 532.6,233.2 532.3,233.5 532.0,233.8 531.7,234.2 531.4,234.3 531.1,234.5 530.8,234.9 530.5,235.3 530.2,235.6 529.8,235.9 529.5,236.2 529.2,236.5 528.9,236.8 528.6,237.1 528.3,237.4 528.0,237.7 527.7,237.9 527.4,238.1 527.1,238.3 526.8,238.4 526.5,238.5 526.2,238.6 525.8,238.7 525.5,238.8 525.2,238.6 524.9,238.9 524.6,239.1 524.3,239.3 524.0,239.4 523.7,239.6 523.4,239.7 523.1,239.8 522.8,239.9 522.5,240.1 522.2,240.2 521.8,240.2 521.5,240.4 521.2,240.5 520.9,240.6 520.6,240.7 520.3,240.7 520.0,240.9 519.7,241.1 519.4,241.3 519.1,241.5 518.8,241.7 518.5,242.0 518.2,242.2 517.9,242.4 517.6,242.6 517.3,242.8 517.0,242.9 516.7,243.0 516.4,243.2 516.1,243.4 515.8,243.6 515.5,244.1 515.2,244.3 514.9,244.5 514.6,244.7 514.3,244.9 514.0,245.1 513.7,245.1 513.4,245.2 513.1,245.3 512.8,245.4 512.5,245.5 512.2,245.5 511.9,245.5 511.6,245.6 511.2,245.7 510.9,245.8 510.6,246.1 510.3,246.2 510.0,246.3 509.7,246.4 509.4,246.5 509.1,246.5 508.8,246.6 508.5,246.7 508.2,246.8 507.9,246.3 507.6,246.5 507.3,246.8 507.0,247.0 506.7,247.4 506.4,247.9 506.1,248.0 505.8,248.1 505.4,248.2 505.1,248.3 504.8,248.1 504.5,247.9 504.2,248.3 503.9,248.7 503.6,248.8 503.3,248.9 503.0,249.0 502.7,249.2 502.4,249.0 502.1,248.9 501.8,249.1 501.4,249.3 501.1,249.5 500.8,249.7 500.5,250.1 500.2,250.3 499.9,250.5 499.6,250.7 499.2,251.0 498.9,251.3 498.6,251.6 498.3,251.8 498.0,252.0 497.7,252.1 497.4,252.3 497.1,252.5 496.8,252.6 496.5,252.6 496.2,252.5 495.8,252.6 495.5,252.8 495.2,253.2 494.9,253.6 494.6,253.8 494.3,253.9 494.0,254.1 493.7,254.2 493.4,254.3 493.1,254.2 492.8,254.3 492.5,254.4 492.2,254.5 491.8,254.8 491.5,255.1 491.2,255.2 490.9,255.5 490.6,255.6 490.3,255.8 490.0,255.9 489.7,256.2 489.4,256.4 489.1,256.6 488.8,256.7 488.5,257.0 488.2,257.4 487.8,258.0 487.5,258.6 487.2,258.9 486.9,259.2 486.6,259.5 486.3,259.8 486.0,260.1 485.7,259.8 485.4,259.9 485.1,259.8 484.8,259.7 484.5,260.0 484.2,260.3 483.9,260.4 483.6,260.6 483.3,260.7 483.0,260.7 482.7,260.8 482.4,260.9 482.1,261.0 481.8,261.1 481.5,261.2 481.2,261.3 480.8,261.1 480.5,261.2 480.2,261.3 479.9,261.7 479.6,261.8 479.3,261.9 479.0,262.0 478.7,262.1 478.4,262.2 478.1,262.3 477.8,262.4 477.5,262.5 477.2,262.4 476.9,262.8 476.6,262.9 476.3,263.0 476.0,263.1 475.7,263.4 475.4,263.3 475.1,263.9 474.8,264.2 474.5,264.5 474.2,264.8 473.8,265.1 473.5,265.4 473.2,265.7 472.9,266.0 472.6,266.4 472.3,266.7 472.0,267.0 471.7,267.3 471.4,267.6 471.1,267.9 470.8,268.2 470.5,268.5 470.2,268.6 469.8,269.0 469.5,269.3 469.2,269.6 468.9,269.9 468.6,270.2 468.3,270.3 468.0,270.6 467.7,271.1 467.4,271.7 467.1,272.1 466.8,272.5 466.5,272.8 466.2,273.2 465.8,273.8 465.5,274.6 465.2,274.9 464.9,275.3 464.6,275.7 464.3,276.1 464.0,275.8 463.7,276.2 463.4,276.6 463.1,277.0 462.8,277.1 462.5,277.4 462.2,277.8 461.8,278.2 461.5,278.6 461.2,278.9 460.9,279.5 460.6,279.8 460.3,280.3 460.0,280.7 459.7,281.0 459.4,281.3 459.1,281.6 458.8,281.8 458.5,282.1 458.2,282.4 457.8,283.0 457.5,283.7 457.2,284.3 456.9,284.6 456.6,284.9 456.3,285.2 456.0,285.5 455.7,285.5 455.4,285.0 455.1,285.1 454.8,285.9 454.5,286.3 454.2,286.6 453.8,286.9 453.5,287.1 453.2,287.3 452.9,287.6 452.6,287.7 452.3,287.9 452.0,288.1 451.7,288.4 451.4,288.2 451.1,288.0 450.8,288.6 450.5,288.9 450.2,289.1 449.8,289.4 449.5,289.7 449.2,289.9 448.9,290.3 448.6,290.5 448.3,290.7 448.0,290.9 447.7,291.3 447.4,291.6 447.1,291.9 446.8,292.2 446.5,292.6 446.2,293.0 445.9,293.3 445.6,293.7 445.3,294.4 445.0,294.7 444.7,295.1 444.4,295.4 444.1,295.8 443.8,296.1 443.5,296.1 443.2,296.4 442.9,296.9 442.6,297.3 442.3,297.6 442.0,298.0 441.7,298.3 441.4,298.5 441.1,298.6 440.7,298.9 440.4,299.2 440.1,299.4 439.8,299.7 439.5,300.0 439.2,300.3 438.9,300.5 438.6,300.8 438.2,301.1 437.9,301.4 437.6,301.7 437.3,302.0 437.0,302.0 436.7,302.5 436.4,302.8 436.1,303.1 435.7,303.3 435.4,303.6 435.1,304.1 434.8,304.6 434.7,305.4 434.6,306.2 434.5,306.8 434.4,307.5 434.3,306.8 434.1,306.1 434.0,305.3 433.7,305.3 433.4,305.3 433.1,305.2 432.8,305.4 432.5,305.5 432.2,305.6 431.8,305.9 431.5,306.4 431.2,306.6 430.9,306.8 430.6,306.9 430.3,307.1 430.0,307.2 429.7,307.3 429.4,307.5 429.1,307.6 428.8,307.8 428.5,307.9 428.2,308.1 427.8,308.2 427.5,308.2 427.2,308.3 426.9,308.4 426.6,308.6 426.3,308.7 426.0,308.9 425.7,308.9 425.4,309.0 425.1,309.1 424.8,309.2 424.5,309.5 424.2,309.6 423.9,309.7 423.6,309.9 423.3,310.2 423.0,310.3 422.7,310.4 422.4,310.5 422.1,310.6 421.8,310.4 421.5,310.4 421.2,310.5 420.9,310.6 420.6,310.7 420.3,310.7 420.0,310.6 419.7,310.6 419.4,310.5 419.1,310.4 418.8,310.4 418.4,310.4 418.1,310.5 417.8,310.5 417.5,310.4 417.2,310.3 416.9,310.3 416.6,310.2 416.2,310.2 415.9,310.1 415.6,310.0 415.3,310.0 415.0,309.6 414.8,309.0 414.5,308.3 414.2,307.7 414.0,306.9 413.8,306.3 413.5,305.7 413.2,304.9 413.0,304.0 412.9,303.3 412.9,302.7 412.8,302.1 412.8,301.6 412.7,301.1 412.7,300.6 412.6,300.1 412.6,299.6 412.5,299.1 412.5,298.6 412.4,298.1 412.4,297.6 412.3,297.0 412.3,296.4 412.2,295.8 412.2,295.2 412.1,294.6 412.1,293.9 412.0,293.3 412.0,292.6 411.9,291.9 411.9,291.3 411.8,290.6Z M544.7,219.1 545.0,218.9 545.3,218.8 545.6,218.7 545.9,218.6 546.2,218.6 546.5,218.4 546.8,218.3 547.1,218.2 547.4,218.1 547.7,217.9 548.0,218.1 548.4,218.0 548.7,217.9 549.0,217.7 549.3,217.3 549.6,217.1 549.9,217.0 550.2,216.9 550.5,216.8 550.8,216.6 551.1,216.6 551.4,216.4 551.7,216.1 552.0,215.8 552.3,215.9 552.6,216.0 552.9,216.2 553.2,216.3 553.6,216.3 553.9,216.2 554.2,216.4 554.5,216.5 554.8,216.6 555.1,216.7 555.4,217.5 555.8,217.7 556.1,217.6 556.4,217.7 556.7,217.8 557.0,218.0 557.3,218.2 557.6,218.7 557.9,219.0 558.2,219.2 558.5,219.3 558.8,219.5 559.1,219.7 559.4,219.9 559.7,220.1 560.0,220.2 560.3,219.8 560.6,219.5 560.9,219.2 561.2,218.9 561.6,218.6 561.9,218.2 562.2,218.0 562.5,218.0 562.8,217.7 563.1,217.2 563.4,216.8 563.8,216.5 564.1,216.2 564.4,215.9 564.7,215.5 565.0,215.5 565.3,215.4 565.6,215.4 565.9,215.1 566.2,214.8 566.5,214.7 566.8,214.6 567.1,214.6 567.4,214.5 567.7,214.4 568.0,214.5 568.3,214.4 568.7,214.3 569.0,214.2 569.3,214.0 569.6,214.0 569.9,213.9 570.2,213.8 570.5,213.5 570.8,213.4 571.1,213.3 571.4,213.3 571.7,213.2 572.0,213.3 572.3,213.3 572.6,213.4 572.9,213.5 573.2,213.6 573.5,213.7 573.8,214.0 574.2,214.3 574.5,214.6 574.8,214.5 575.1,214.6 575.4,214.5 575.7,214.6 576.0,214.7 576.0,216.2 575.7,216.2 575.4,216.5 575.1,216.4 574.8,216.3 574.5,216.2 574.2,216.1 573.8,215.8 573.5,215.6 573.2,215.5 572.9,215.3 572.6,215.0 572.3,214.9 572.0,214.9 571.7,214.9 571.4,215.0 571.1,215.4 570.8,215.5 570.5,215.6 570.2,215.6 569.9,215.7 569.6,215.6 569.3,215.6 569.0,215.6 568.7,215.9 568.3,216.4 568.0,216.4 567.7,216.5 567.4,216.6 567.1,216.6 566.8,216.5 566.5,216.7 566.2,216.8 565.9,216.9 565.6,217.0 565.3,217.0 565.0,217.1 564.7,217.2 564.4,217.6 564.1,217.9 563.8,218.4 563.4,218.8 563.1,219.1 562.8,219.4 562.5,219.7 562.2,220.1 561.9,220.2 561.6,220.5 561.2,220.5 560.9,221.0 560.6,221.3 560.3,221.6 560.0,221.9 559.7,221.7 559.4,221.4 559.1,221.1 558.8,221.1 558.5,221.0 558.2,220.8 557.9,220.6 557.6,220.4 557.3,220.2 557.0,219.9 556.7,219.6 556.4,219.5 556.1,219.4 555.8,219.2 555.4,219.1 555.1,218.9 554.8,218.7 554.5,218.5 554.2,218.6 553.9,218.8 553.6,218.7 553.2,218.6 552.9,218.4 552.6,218.3 552.3,217.8 552.0,217.9 551.7,218.1 551.4,218.2 551.1,218.3 550.8,218.4 550.5,218.4 550.2,218.5 549.9,219.0 549.6,219.2 549.3,219.4 549.0,219.5 548.7,219.6 548.4,219.7 548.0,219.7 547.7,219.8 547.4,220.0 547.1,219.9 546.8,219.9 546.5,220.0 546.2,220.2 545.9,220.3 545.6,220.4 545.3,220.5 545.0,220.4 544.7,220.5Z" fill="#800080" stroke="none"/>
<path d="" stroke="#ffa500" stroke-width="0.85"/>
<path d="M268.8,287.0 269.0,285.3 269.3,283.7 269.5,284.9 269.8,286.1 270.0,288.6 270.3,291.1 270.5,291.7 270.8,292.3 271.0,290.6 271.3,288.9 271.5,291.5 271.8,294.0 272.0,293.3 272.3,292.9 272.5,292.5 272.8,292.0 273.0,293.5 273.3,295.0 273.5,297.8 273.8,300.5 274.0,296.5 274.3,292.4 274.5,292.8 274.8,293.4 275.0,297.0 275.3,300.5 275.5,299.2 275.8,297.9 276.0,296.1 276.3,294.2 276.5,295.3 276.8,296.6 277.0,302.0 277.3,307.3 277.5,306.1 277.8,304.9 278.0,305.4 278.3,304.8 278.5,300.1 278.8,295.1 279.0,295.8 279.3,296.9 279.5,301.7 279.8,306.9 280.0,308.4 280.3,309.3 280.5,298.5 280.8,289.2 281.0,298.2 281.3,306.1 281.5,303.2 281.8,300.6 282.0,301.6 282.3,302.2 282.5,297.7 282.8,293.9 283.0,298.2 283.3,301.9 283.5,298.7 283.8,295.9 284.0,297.2 284.3,298.9 284.5,304.5 284.8,309.3 285.0,305.4 285.3,301.7 285.5,305.9 285.8,309.9 286.0,310.5 286.3,310.5 286.5,303.0 286.8,296.1 287.0,299.5 287.3,303.1 287.5,306.4 287.8,309.1 288.0,304.8 288.3,302.1 288.5,303.1 288.8,304.1 289.0,304.0 289.3,304.3 289.5,306.8 289.8,309.2 290.0,311.3 290.3,313.5 290.5,316.9 290.8,318.2 291.0,316.8 291.3,315.3 291.5,312.4 291.8,309.6 292.0,309.3 292.3,310.3 292.5,309.9 292.8,309.2 293.0,306.5 293.3,304.4 293.5,305.2 293.8,306.3 294.0,308.9 294.3,311.0 294.5,309.7 294.8,308.7 295.0,309.1 295.3,309.5 295.5,312.3 295.8,314.7 296.0,315.4 296.3,315.7 296.5,313.9 296.8,312.3 297.0,310.8 297.3,310.4 297.5,314.4 297.8,318.3 298.0,318.9 298.3,318.8 298.5,315.5 298.8,313.0 299.0,319.2 299.3,324.2 299.5,318.9 299.8,314.9 300.0,321.2 300.3,326.0 300.5,323.1 300.8,320.4 301.0,318.3 301.3,317.7 301.5,323.4 301.8,327.8 302.0,326.6 302.3,325.3 302.5,322.1 302.8,319.7 303.0,324.7 303.3,329.1 303.5,329.5 303.8,329.1 304.0,324.8 304.3,320.9 304.5,319.2 304.8,318.4 305.0,321.7 305.3,325.3 305.5,329.0 305.8,331.1 306.0,325.4 306.3,322.5 306.5,328.5 306.8,333.1 307.0,333.5 307.3,333.3 307.5,331.0 307.8,328.8 308.0,325.7 308.3,324.0 308.5,325.5 308.8,327.2" stroke="#ffa500" stroke-width="0.9"/>
<path d="M268.8,282.6 269.0,282.8 269.3,283.1 269.5,283.4 269.8,283.6 270.0,284.8 270.3,286.0 270.5,288.5 270.8,287.7 271.0,288.0 271.3,288.3 271.5,288.5 271.8,288.8 272.0,290.5 272.3,290.0 272.5,290.7 272.8,291.4 273.0,292.0 273.3,292.7 273.5,294.2 273.8,290.4 274.0,290.8 274.3,291.4 274.5,292.0 274.8,292.7 275.0,293.4 275.3,293.9 275.5,294.4 275.8,292.6 276.0,293.1 276.3,293.6 276.5,294.1 276.8,294.6 277.0,295.7 277.3,296.9 277.5,302.4 277.8,303.7 278.0,299.5 278.3,294.5 278.5,294.5 278.8,294.5 279.0,294.5 279.3,294.5 279.5,295.2 279.8,296.3 280.0,297.8 280.3,288.6 280.5,288.6 280.8,288.6 281.0,288.6 281.3,288.6 281.5,297.6 281.8,300.0 282.0,297.0 282.3,293.0 282.5,293.0 282.8,293.3 283.0,293.5 283.3,293.8 283.5,295.0 283.8,295.3 284.0,295.5 284.3,295.8 284.5,297.1 284.8,298.7 285.0,300.9 285.3,301.0 285.5,301.2 285.8,301.3 286.0,302.1 286.3,295.2 286.5,295.4 286.8,295.5 287.0,295.6 287.3,295.7 287.5,299.2 287.8,300.6 288.0,300.8 288.3,301.5 288.5,302.0 288.8,302.3 289.0,303.0 289.3,303.7 289.5,304.4 289.8,305.0 290.0,307.5 290.3,309.9 290.5,312.0 290.8,313.2 291.0,313.2 291.3,310.4 291.5,309.6 291.8,308.9 292.0,308.3 292.3,308.3 292.5,305.8 292.8,303.6 293.0,303.7 293.3,303.7 293.5,303.7 293.8,303.8 294.0,304.6 294.3,305.7 294.5,308.0 294.8,308.1 295.0,308.1 295.3,308.0 295.5,308.2 295.8,308.6 296.0,311.4 296.3,311.9 296.5,310.2 296.8,308.4 297.0,308.5 297.3,309.7 297.5,310.9 297.8,312.1 298.0,312.4 298.3,310.0 298.5,311.2 298.8,312.4 299.0,313.6 299.3,311.8 299.5,313.0 299.8,314.2 300.0,315.3 300.3,315.5 300.5,317.3 300.8,316.6 301.0,316.8 301.3,317.0 301.5,317.2 301.8,317.4 302.0,321.1 302.3,318.7 302.5,318.9 302.8,319.1 303.0,319.2 303.3,319.4 303.5,323.9 303.8,319.9 304.0,318.3 304.3,317.5 304.5,317.6 304.8,317.8 305.0,317.9 305.3,318.0 305.5,321.4 305.8,321.8 306.0,321.9 306.3,321.9 306.5,321.9 306.8,321.9 307.0,327.9 307.3,328.1 307.5,325.1 307.8,323.4 308.0,323.4 308.3,323.4 308.5,323.4 308.8,323.4 308.8,327.9 308.5,327.9 308.3,329.4 308.0,331.7 307.8,334.0 307.5,334.1 307.3,334.1 307.0,334.1 306.8,334.1 306.5,334.1 306.3,333.7 306.0,331.9 305.8,331.7 305.5,331.6 305.3,331.5 305.0,329.3 304.8,325.6 304.5,325.8 304.3,330.0 304.0,330.4 303.8,330.3 303.5,330.1 303.3,330.0 303.0,329.8 302.8,329.5 302.5,327.7 302.3,328.8 302.0,328.6 301.8,328.4 301.5,328.2 301.3,328.0 301.0,324.1 300.8,327.0 300.5,326.8 300.3,326.6 300.0,326.4 299.8,327.2 299.5,326.0 299.3,324.8 299.0,323.6 298.8,322.4 298.5,321.9 298.3,321.4 298.0,320.2 297.8,319.0 297.5,317.8 297.3,316.6 297.0,314.5 296.8,316.1 296.5,316.3 296.3,316.4 296.0,316.5 295.8,316.6 295.5,316.3 295.3,315.6 295.0,313.2 294.8,311.7 294.5,311.7 294.3,311.6 294.0,311.6 293.8,311.5 293.5,309.5 293.3,310.0 293.0,310.6 292.8,311.0 292.5,310.9 292.3,310.9 292.0,311.7 291.8,314.5 291.5,316.1 291.3,317.4 291.0,318.1 290.8,318.8 290.5,319.1 290.3,318.5 290.0,316.2 289.8,312.8 289.5,310.6 289.3,308.5 289.0,306.1 288.8,304.7 288.5,306.8 288.3,310.6 288.0,309.9 287.8,309.7 287.5,309.6 287.3,309.5 287.0,306.8 286.8,311.4 286.5,311.4 286.3,311.3 286.0,311.2 285.8,311.1 285.5,310.9 285.3,310.3 285.0,310.2 284.8,310.0 284.5,309.7 284.3,309.5 284.0,304.7 283.8,303.0 283.5,302.8 283.3,302.5 283.0,302.3 282.8,303.1 282.5,302.8 282.3,302.8 282.0,303.8 281.8,306.8 281.5,306.8 281.3,306.8 281.0,306.8 280.8,310.0 280.5,310.0 280.3,310.0 280.0,310.0 279.8,310.0 279.5,309.1 279.3,307.6 279.0,302.4 278.8,305.5 278.5,306.0 278.3,306.1 278.0,307.7 277.8,309.0 277.5,308.5 277.3,308.0 277.0,307.5 276.8,307.0 276.5,301.7 276.3,299.6 276.0,300.9 275.8,302.1 275.5,301.6 275.3,301.1 275.0,300.6 274.8,300.0 274.5,298.5 274.3,302.5 274.0,301.8 273.8,301.2 273.5,300.5 273.3,299.8 273.0,297.1 272.8,294.9 272.5,295.3 272.3,295.6 272.0,294.9 271.8,294.6 271.5,294.4 271.3,294.1 271.0,293.2 270.8,293.0 270.5,292.7 270.3,292.4 270.0,291.8 269.8,291.2 269.5,288.8 269.3,288.2 269.0,287.9 268.8,287.6Z" fill="#ffa500" stroke="none"/>
<path d="" stroke="#ffa500" stroke-width="0.85"/>
<path d="M310.0,333.8 310.2,332.9 310.5,331.8 310.8,332.0 311.0,332.2 311.2,332.3 311.5,332.4 311.8,334.1 312.0,335.7 312.2,333.2 312.5,330.6 312.8,331.5 313.0,332.3 313.2,331.8 313.5,331.3 313.8,332.5 314.0,333.8 314.2,335.5 314.5,337.2 314.8,335.1 315.0,333.1 315.2,333.8 315.5,334.6 315.8,336.5 316.0,338.5 316.2,338.4 316.5,338.3 316.8,336.7 317.0,335.2 317.2,333.5 317.5,331.7 317.8,333.5 318.0,335.4 318.2,334.6 318.5,333.8 318.8,334.2 319.0,334.5 319.2,336.0 319.5,337.5 319.8,337.3 320.0,337.2 320.2,338.7 320.5,340.2 320.8,339.6 321.0,339.1 321.2,337.3 321.5,335.6 321.8,335.1 322.0,334.7 322.2,337.0 322.5,339.4 322.8,337.0 323.0,334.5 323.2,335.0 323.5,335.4 323.8,333.9 324.0,332.4 324.2,333.1 324.5,333.8 324.8,335.4 325.0,336.9 325.2,336.7 325.5,336.4 325.8,338.9 326.0,341.3 326.2,337.7 326.5,334.3 326.8,334.7 327.0,335.1 327.2,336.5 327.5,337.9 327.8,339.2 328.0,340.3 328.2,339.1 328.5,337.9 328.8,338.9 329.0,339.8 329.2,339.2 329.5,338.6 329.8,339.5 330.0,340.4 330.2,340.9 330.5,341.2 330.8,340.8 331.0,340.3 331.2,338.5 331.5,336.6 331.8,336.4 332.0,336.2 332.2,338.2 332.5,340.4 332.8,340.0 333.0,339.6 333.2,338.8 333.5,338.0 333.8,338.3 334.0,338.6 334.2,338.8 334.5,338.9 334.8,337.7 335.0,336.4 335.2,338.8 335.5,341.3 335.8,341.7 336.0,342.2 336.2,341.0 336.5,339.9 336.8,335.3 337.0,330.8 337.2,331.9 337.5,333.1 337.8,334.4 338.0,335.8 338.2,338.3 338.5,340.8 338.8,335.6 339.0,330.4 339.2,331.0 339.5,331.6 339.8,331.2 340.0,330.8 340.2,333.1 340.5,335.3 340.8,336.9 341.0,338.5 341.2,339.2 341.5,339.9 341.8,336.4 342.0,332.8 342.2,336.5 342.5,340.3 342.8,337.3 343.0,334.2 343.2,333.1 343.5,332.0 343.8,333.0 344.0,334.0 344.2,332.2 344.5,330.4 344.8,329.2 345.0,328.0 345.2,334.6 345.5,341.4 345.8,341.1 346.0,340.7 346.2,340.8 346.5,340.8 346.8,339.1 347.0,337.3 347.2,334.7 347.5,332.1 347.8,333.0 348.0,333.9 348.2,334.3 348.5,334.8 348.8,333.2 349.0,331.6 349.2,337.1 349.5,342.3 349.8,343.0 350.0,343.6 350.2,343.8 350.5,344.0 350.8,339.0 351.0,334.3 351.2,338.3 351.5,342.1 351.8,341.0 352.0,339.9 352.2,338.4 352.5,337.0 352.8,342.0 353.0,346.8 353.2,348.0 353.5,349.3 353.8,348.1 354.0,346.9 354.2,346.5 354.5,346.2 354.8,345.6 355.0,345.1 355.2,347.3 355.5,349.4 355.8,346.8 356.0,344.2 356.2,345.1 356.5,346.0 356.8,345.5 357.0,345.1 357.2,347.9 357.5,350.6 357.8,350.4 358.0,350.3" stroke="#ffa500" stroke-width="0.9"/>
<path d="M310.0,330.1 310.2,330.3 310.5,330.6 310.8,331.1 311.0,331.6 311.2,331.7 311.5,331.8 311.8,331.9 312.0,329.8 312.2,329.9 312.5,330.0 312.8,330.1 313.0,330.2 313.2,330.5 313.5,330.6 313.8,330.7 314.0,330.8 314.2,332.1 314.5,332.2 314.8,332.3 315.0,332.4 315.2,332.5 315.5,332.6 315.8,333.4 316.0,334.1 316.2,335.9 316.5,334.4 316.8,332.6 317.0,330.9 317.2,331.0 317.5,331.1 317.8,331.2 318.0,331.3 318.2,333.1 318.5,333.1 318.8,333.2 319.0,333.3 319.2,333.7 319.5,334.1 319.8,335.5 320.0,336.5 320.2,336.6 320.5,336.7 320.8,336.5 321.0,334.7 321.2,334.3 321.5,333.8 321.8,333.9 322.0,334.0 322.2,334.1 322.5,333.7 322.8,333.8 323.0,333.9 323.2,333.1 323.5,331.6 323.8,331.7 324.0,331.8 324.2,331.8 324.5,331.9 324.8,332.6 325.0,333.3 325.2,334.9 325.5,335.8 325.8,335.9 326.0,333.5 326.2,333.6 326.5,333.6 326.8,333.7 327.0,333.8 327.2,334.2 327.5,334.6 327.8,336.0 328.0,337.1 328.2,337.2 328.5,337.3 328.8,337.4 329.0,337.4 329.2,337.9 329.5,338.0 329.8,338.0 330.0,338.1 330.2,339.0 330.5,339.7 330.8,337.9 331.0,336.1 331.2,335.8 331.5,335.6 331.8,335.6 332.0,335.5 332.2,335.5 332.5,335.5 332.8,337.5 333.0,337.4 333.2,337.3 333.5,337.3 333.8,337.3 334.0,337.2 334.2,337.1 334.5,335.9 334.8,335.8 335.0,335.8 335.2,335.7 335.5,335.7 335.8,338.1 336.0,339.2 336.2,334.7 336.5,330.2 336.8,330.2 337.0,330.2 337.2,330.2 337.5,330.2 337.8,331.3 338.0,332.4 338.2,333.8 338.5,329.8 338.8,329.8 339.0,329.8 339.2,329.8 339.5,329.8 339.8,330.2 340.0,330.2 340.2,330.2 340.5,330.2 340.8,332.4 341.0,334.7 341.2,335.7 341.5,332.2 341.8,332.2 342.0,332.2 342.2,332.2 342.5,332.3 342.8,332.4 343.0,331.3 343.2,331.4 343.5,331.4 343.8,331.4 344.0,329.7 344.2,328.5 344.5,327.2 344.8,327.3 345.0,327.3 345.2,327.4 345.5,327.4 345.8,334.0 346.0,340.0 346.2,338.3 346.5,336.5 346.8,334.0 347.0,331.4 347.2,331.4 347.5,331.4 347.8,331.5 348.0,331.5 348.2,331.9 348.5,330.3 348.8,330.6 349.0,331.0 349.2,331.3 349.5,331.6 349.8,337.0 350.0,342.3 350.2,337.7 350.5,333.0 350.8,333.4 351.0,333.7 351.2,334.0 351.5,334.3 351.8,337.2 352.0,335.9 352.2,336.1 352.5,336.4 352.8,336.6 353.0,336.9 353.2,341.8 353.5,345.8 353.8,345.4 354.0,345.0 354.2,344.4 354.5,343.9 354.8,344.2 355.0,344.4 355.2,344.7 355.5,343.0 355.8,343.3 356.0,343.5 356.2,343.5 356.5,343.5 356.8,344.4 357.0,344.4 357.2,344.4 357.5,344.4 357.8,347.3 358.0,349.7 358.0,351.2 357.8,351.2 357.5,351.2 357.2,351.2 357.0,351.2 356.8,348.6 356.5,346.7 356.2,347.7 356.0,350.6 355.8,350.3 355.5,350.1 355.2,349.8 355.0,349.6 354.8,347.7 354.5,348.1 354.2,349.2 354.0,350.4 353.8,350.2 353.5,349.9 353.2,349.7 353.0,349.4 352.8,348.2 352.5,347.0 352.2,342.2 352.0,343.4 351.8,343.1 351.5,342.7 351.2,342.4 351.0,345.3 350.8,345.1 350.5,344.9 350.2,344.6 350.0,344.3 349.8,343.9 349.5,343.6 349.2,343.0 349.0,342.3 348.8,337.1 348.5,335.4 348.2,335.1 348.0,334.8 347.8,335.5 347.5,338.0 347.2,339.8 347.0,341.5 346.8,341.5 346.5,341.5 346.2,341.8 346.0,342.2 345.8,342.1 345.5,342.1 345.2,342.0 345.0,342.0 344.8,335.1 344.5,334.8 344.2,334.7 344.0,334.7 343.8,334.6 343.5,334.9 343.2,338.0 343.0,341.0 342.8,341.0 342.5,340.9 342.2,340.9 342.0,340.8 341.8,340.6 341.5,340.6 341.2,340.6 341.0,340.6 340.8,339.9 340.5,339.1 340.2,337.5 340.0,336.0 339.8,333.7 339.5,332.3 339.2,336.2 339.0,341.4 338.8,341.4 338.5,341.4 338.2,341.4 338.0,341.4 337.8,338.9 337.5,336.5 337.2,336.0 337.0,340.5 336.8,341.7 336.5,342.8 336.2,342.8 336.0,342.8 335.8,342.9 335.5,342.9 335.2,342.4 335.0,342.0 334.8,339.5 334.5,339.6 334.2,339.6 334.0,339.7 333.8,339.5 333.5,340.2 333.2,340.6 333.0,340.9 332.8,341.0 332.5,341.0 332.2,341.1 332.0,341.1 331.8,339.1 331.5,340.8 331.2,341.3 331.0,341.8 330.8,341.8 330.5,341.9 330.2,341.9 330.0,341.8 329.8,341.4 329.5,340.9 329.2,340.5 329.0,340.4 328.8,340.4 328.5,341.2 328.2,341.1 328.0,341.0 327.8,340.9 327.5,340.8 327.2,339.7 327.0,338.4 326.8,338.5 326.5,342.1 326.2,342.0 326.0,341.9 325.8,341.9 325.5,341.8 325.2,339.4 325.0,337.5 324.8,337.5 324.5,337.4 324.2,335.8 324.0,336.3 323.8,336.2 323.5,336.1 323.2,337.8 323.0,340.2 322.8,340.2 322.5,340.1 322.2,340.0 322.0,339.9 321.8,338.1 321.5,339.9 321.2,340.5 321.0,341.0 320.8,341.0 320.5,340.9 320.2,340.8 320.0,340.7 319.8,339.1 319.5,338.1 319.2,338.1 319.0,338.0 318.8,336.5 318.5,336.2 318.2,336.1 318.0,336.0 317.8,335.9 317.5,336.0 317.2,337.6 317.0,339.1 316.8,339.2 316.5,339.4 316.2,339.3 316.0,339.2 315.8,339.1 315.5,339.0 315.2,337.0 315.0,338.1 314.8,338.0 314.5,337.9 314.2,337.8 314.0,337.7 313.8,335.9 313.5,334.2 313.2,333.1 313.0,333.0 312.8,334.0 312.5,336.6 312.2,336.5 312.0,336.4 311.8,336.3 311.5,336.2 311.2,334.5 311.0,333.4 310.8,334.5 310.5,335.4 310.2,334.9 310.0,334.4Z" fill="#ffa500" stroke="none"/>
<path d="M249.6,283.6 L250.0,253.7 M266.2,258.3 L267.0,283.0 M309.2,331.0 L309.4,303.0 M309.4,303.0 L309.7,334.0 M330.6,341.0 L331.0,319.0 M331.0,319.0 L331.3,341.0 M358.2,349.0 L358.4,339.0 M358.4,339.0 L358.7,350.0 M385.5,348.4 L386.0,337.6 M386.0,337.6 L386.6,350.2 M400.6,356.4 L401.0,324.1 M402.4,322.6 L402.9,356.1 M410.4,363.5 L411.0,338.4 M413.0,333.4 L413.8,364.1 M559.2,252.0 L559.8,316.0 M559.8,316.0 L560.4,256.0" stroke="#ffa500" stroke-width="0.85"/>
<path d="M80.4,400.2 80.7,400.5 81.0,400.8 81.3,400.4 81.6,400.2 81.9,400.1 82.2,400.1 82.5,400.4 82.8,400.5 83.1,399.9 83.4,399.3 83.7,399.1 84.0,398.9 84.4,398.5 84.7,398.1 85.0,398.2 85.3,398.2 85.6,398.1 85.9,398.1 86.2,398.0 86.5,397.9 86.8,397.8 87.1,397.7 87.4,397.4 87.7,397.0 88.0,396.5 88.3,396.3 88.6,396.5 88.9,396.6 89.2,396.9 89.5,396.9 89.8,396.3 90.1,396.0 90.4,396.0 90.7,396.1 91.0,396.3 91.3,396.2 91.6,395.3 91.9,394.8 92.2,395.2 92.5,395.5 92.8,395.7 93.1,395.7 93.4,395.1 93.7,394.7 94.0,394.7 94.3,394.8 94.6,394.9 94.9,394.8 95.2,394.3 95.5,393.9 95.8,394.0 96.1,394.1 96.4,394.1 96.7,394.0 97.0,393.9 97.3,393.7 97.6,393.5 97.9,393.3 98.2,393.1 98.5,392.9 98.8,392.9 99.1,392.9 99.4,392.8 99.7,392.6 100.0,392.6 100.3,392.5 100.6,392.3 100.9,392.2 101.2,392.4 101.5,392.4 101.8,392.2 102.1,392.0 102.4,391.7 102.7,391.5 103.0,391.5 103.3,391.4 103.6,391.2 103.9,391.0 104.2,391.0 104.5,390.9 104.8,390.8 105.1,390.7 105.4,390.7 105.7,390.6 106.0,390.4 106.3,390.1 106.6,390.0 106.9,389.9 107.2,389.8 107.5,389.7 107.8,389.4 108.1,389.2 108.4,389.3 108.7,389.2 109.0,388.6 109.3,388.2 109.6,388.3 109.9,388.2 110.2,387.9 110.5,387.7 110.8,387.5 111.1,387.4 111.4,387.3 111.7,387.1 112.0,386.9 112.3,386.7 112.6,386.5 112.9,386.0 113.2,385.2 113.5,384.9 113.8,385.1 114.2,385.3 114.5,385.4 114.8,385.4 115.1,385.1 115.4,385.0 115.7,384.8 116.0,384.9 116.3,385.0 116.6,384.8 116.9,384.3 117.2,383.7 117.5,383.1 117.8,382.9 118.1,383.0 118.4,383.0 118.7,383.0 119.0,382.7 119.3,382.4 119.6,382.5 119.9,382.9 120.2,382.9 120.5,382.6 120.8,382.3 121.1,382.0 121.4,381.6 121.7,381.2 122.0,381.1 122.3,381.0 122.6,380.5 122.9,379.8 123.2,379.5 123.5,379.3 123.9,379.1 124.2,378.9 124.5,378.7 124.8,378.5 125.1,378.1 125.4,377.7 125.7,377.2 126.0,376.7 126.3,376.6 126.6,376.4 127.0,376.1 127.3,375.8 127.6,375.5 127.9,375.2 128.2,374.8 128.5,374.4 128.8,374.3 129.1,374.1 129.4,373.8 129.7,373.6 130.0,373.4 130.3,373.2 130.6,372.9 130.9,372.6 131.2,372.2 131.5,371.8 131.8,371.4 132.1,371.2 132.4,371.0 132.7,370.8 133.0,370.6 133.3,370.4 133.6,369.9 133.9,369.5 134.2,369.3 134.5,369.1 134.8,369.0 135.1,368.6 135.4,367.5 135.7,367.0 136.0,367.3 136.3,367.3 136.6,366.7 136.9,366.2 137.2,366.0 137.5,365.8 137.8,365.6 138.1,365.4 138.4,365.1 138.7,364.6 139.0,364.1 139.3,363.6 139.6,363.6 139.9,363.3 140.2,362.7 140.5,362.2 140.8,362.2 141.1,362.1 141.4,362.0 141.7,361.8 142.0,361.3 142.3,360.9 142.6,360.7 142.9,360.4 143.2,360.2 143.5,360.0 143.8,359.8 144.1,359.5 144.4,359.2 144.7,358.6 145.0,357.6 145.3,357.1 145.6,357.4 145.9,357.5 146.2,357.2 146.5,356.8 146.9,356.2 147.2,356.0 147.5,356.0 147.8,355.9 148.1,355.7 148.4,355.5 148.7,355.4 149.0,355.3 149.3,355.2 149.6,354.6 149.9,353.7 150.2,353.3 150.5,353.2 150.8,353.1 151.1,353.0 151.4,352.5 151.7,352.0 152.0,351.7 152.3,351.5 152.6,351.4 153.0,351.3 153.3,350.9 153.6,350.4 153.9,350.3 154.2,350.4 154.5,350.2 154.8,350.0 155.1,349.1 155.4,348.2 155.7,348.4 156.0,348.5 156.3,348.4 156.6,348.3 156.9,348.4 157.2,348.5 157.5,347.7 157.8,346.9 158.1,346.6 158.4,346.4 158.7,346.5 159.0,346.7 159.3,346.5 159.6,346.3 159.9,345.6 160.2,345.0 160.5,344.9 160.8,344.8 161.2,344.7 161.5,344.6 161.8,344.5 162.1,344.3 162.4,343.7 162.7,343.2 163.0,343.2 163.3,343.2 163.6,343.1 163.9,342.9 164.2,342.5 164.5,342.1 164.8,341.7 165.1,341.3 165.4,340.8 165.7,340.5 166.0,340.6 166.3,340.6 166.6,340.6 166.9,340.2 167.2,339.4 167.6,338.7 167.9,338.2 168.2,338.1 168.5,338.5 168.8,338.2 169.1,337.6 169.4,337.4 169.8,337.2 170.1,336.7 170.4,336.1 170.7,336.3 171.0,336.5 171.3,336.4 171.6,336.3 171.9,336.0 172.2,335.7 172.6,335.3 172.9,335.0 173.2,335.0 173.5,334.9 173.8,334.8 174.1,334.8 174.4,334.9 174.8,335.1 175.1,335.2 175.4,334.7 175.7,333.7 176.0,332.9 176.3,332.3 176.6,332.5 176.9,333.1 177.2,333.3 177.5,333.3 177.8,333.0 178.1,332.5 178.4,332.4 178.7,332.4 179.0,332.3 179.3,332.2 179.6,332.0 179.9,331.7 180.2,331.6 180.5,331.6 180.8,331.1 181.1,330.2 181.4,330.1 181.7,330.3 182.0,330.3 182.3,330.2 182.6,329.9 182.9,329.6 183.2,329.8 183.5,330.1 183.8,329.5 184.1,328.5 184.4,328.4 184.8,328.6 185.1,328.1 185.4,327.4 185.7,327.3 186.0,327.3 186.3,327.0 186.6,326.7 186.9,326.3 187.2,325.9 187.6,325.8 187.9,325.6 188.2,325.3 188.5,325.0 188.8,324.9 189.1,324.8 189.5,325.0 189.8,324.8 190.1,324.5 190.4,324.3 190.7,324.3 191.0,324.3 191.4,324.4 191.7,324.4 192.0,324.3 192.3,324.2 192.6,324.0 192.9,324.4 193.2,324.7 193.5,324.5 193.8,324.3 194.1,323.9 194.4,323.4 194.7,323.5 195.0,323.7 195.2,323.0 195.5,322.4 195.8,321.9 196.0,321.4 196.2,320.9 196.5,320.3 196.8,319.7 197.0,319.2 197.2,318.7 197.5,318.3 197.8,318.0 198.0,317.7 198.2,316.8 198.5,316.0 198.8,315.4 199.0,314.9 199.2,314.4 199.5,313.8 199.8,313.7 200.1,313.7 200.4,313.6 200.8,313.0 201.1,312.6 201.4,312.9 201.7,313.2 202.0,313.4 202.3,313.3 202.6,312.9 202.9,312.5 203.2,312.3 203.6,312.2 203.9,312.2 204.2,312.2 204.5,312.1 204.8,311.6 205.1,311.1 205.4,310.4 205.8,309.7 206.1,309.7 206.4,309.9 206.7,309.5 207.0,308.9 207.3,308.0 207.6,307.1 207.9,306.7 208.2,306.2 208.6,305.8 208.9,305.7 209.2,306.7 209.5,307.3 209.8,306.8 210.1,306.5 210.4,306.4 210.8,306.4 211.1,306.1 211.4,305.7 211.7,305.1 212.0,304.7 212.3,304.5 212.6,304.2 212.9,303.8 213.2,303.6 213.6,303.5 213.9,302.9 214.2,302.3 214.5,302.5 214.8,302.7 215.1,302.1 215.4,301.5 215.8,301.2 216.1,300.9 216.4,300.3 216.7,299.9 217.0,299.9 217.3,299.9 217.6,299.6 217.9,299.3 218.2,298.9 218.6,298.4 218.9,298.0 219.2,297.7 219.5,297.7 219.8,297.2 220.1,296.6 220.4,296.5 220.8,296.5 221.1,296.2 221.4,295.7 221.7,295.3 222.0,294.8 222.3,294.6 222.6,294.4 222.9,294.1 223.2,293.8 223.6,293.3 223.9,293.0 224.2,293.0 224.5,292.8 224.8,292.3 225.1,291.9 225.4,291.9 225.8,291.7 226.1,291.3 226.4,290.7 226.7,290.0 227.0,289.7 227.3,290.0 227.6,289.9 227.9,289.7 228.2,289.8 228.6,289.9 228.9,289.8 229.2,289.6 229.5,289.5 229.8,289.4 230.1,289.6 230.4,289.7 230.8,289.1 231.1,288.6 231.4,288.9 231.7,289.1 232.0,288.9 232.3,288.6 232.6,288.1 232.9,287.9 233.2,288.3 233.5,288.5 233.8,288.3 234.1,288.2 234.4,288.3 234.7,288.2 235.0,287.8 235.3,287.5 235.6,287.3 235.9,287.3 236.2,287.8 236.5,287.8 236.8,286.9 237.1,286.2 237.4,285.9 237.7,285.9 238.0,286.2 238.3,286.3 238.6,286.0 238.9,285.8 239.2,285.6 239.5,285.6 239.8,285.8 240.1,285.8 240.4,285.4 240.8,285.3 241.1,285.6 241.4,285.5 241.7,285.3 242.0,285.0 242.3,284.8 242.6,284.5 242.9,284.2 243.2,284.2 243.6,284.4 243.9,284.8 244.2,285.3 244.5,284.8 244.8,284.3 245.1,284.1 245.4,283.9 245.7,284.0 246.0,284.0 246.3,284.3 246.6,284.6 246.9,284.1 247.2,283.7 247.5,283.9 247.8,284.2 248.1,283.8 248.4,283.4 248.7,284.0 249.0,284.6 249.6,283.6 M250.0,253.7 250.2,254.3 250.5,254.9 250.8,255.8 251.0,256.8 251.2,257.8 251.5,258.5 251.8,259.1 252.0,259.3 252.3,258.6 252.6,259.3 252.9,260.8 253.2,260.1 253.5,258.2 253.8,258.1 254.1,258.8 254.4,259.2 254.7,259.4 255.0,259.1 255.3,258.5 255.6,258.4 255.9,258.5 256.2,257.9 256.5,256.9 256.8,257.4 257.1,258.5 257.4,258.7 257.7,258.4 258.0,258.3 258.3,258.2 258.6,258.2 258.9,258.2 259.2,257.9 259.5,257.4 259.8,257.9 260.1,258.8 260.4,258.7 260.7,258.3 261.0,258.3 261.3,258.4 261.6,258.0 261.9,257.5 262.3,257.9 262.6,258.4 262.9,258.2 263.2,257.8 263.5,258.3 263.8,258.8 264.1,257.7 264.4,256.4 264.7,256.8 265.0,257.4 265.3,257.6 265.6,257.8 265.9,258.1 266.2,258.3 M267.0,283.0 267.3,283.8 267.5,285.5 267.8,286.1 268.0,286.2 268.3,286.0 268.5,285.5 268.8,288.4 269.0,291.2 269.3,290.5 269.5,289.9 269.8,291.1 270.0,292.1 270.3,289.1 270.5,286.1 270.8,287.0 271.0,287.8 271.3,288.7 271.5,289.6 271.8,290.5 272.0,291.3 272.3,289.9 272.5,288.6 272.8,292.2 273.0,295.8 273.3,294.3 273.5,292.8 273.8,296.5 274.0,300.1 274.3,297.8 274.5,295.6 274.8,298.5 275.0,301.4 275.3,303.1 275.5,304.6 275.8,299.6 276.0,294.9 276.3,298.9 276.5,302.8 276.8,298.8 277.0,295.1 277.3,297.3 277.5,299.4 277.8,299.8 278.0,300.2 278.3,299.3 278.5,298.3 278.8,294.8 279.0,291.5 279.3,297.7 279.5,303.9 279.8,295.2 280.0,286.8 280.3,294.6 280.5,301.9 280.8,304.8 281.0,306.8 281.3,298.1 281.5,291.1 281.8,299.8 282.0,307.3 282.3,303.5 282.5,300.1 282.8,297.2 283.0,295.0 283.3,300.4 283.5,304.9 283.8,301.3 284.0,298.1 284.3,299.1 284.5,300.1 284.8,300.0 285.0,300.3 285.3,305.0 285.5,309.0 285.8,303.8 286.0,298.8 286.3,297.3 286.5,296.6 286.8,303.4 287.0,309.1 287.3,300.5 287.5,292.4 287.8,292.2 288.0,292.9 288.3,301.2 288.5,307.5 288.8,302.9 289.0,299.6 289.3,301.6 289.5,304.3 289.8,311.7 290.0,317.2 290.3,314.4 290.5,312.8 290.8,311.0 291.0,308.4 291.3,307.5 291.5,307.2 291.8,310.7 292.0,314.1 292.3,312.1 292.5,310.3 292.8,309.5 293.0,309.0 293.3,310.6 293.5,311.9 293.8,312.1 294.0,312.5 294.3,314.5 294.5,316.2 294.8,316.8 295.0,317.1 295.3,315.4 295.5,313.9 295.8,313.3 296.0,312.8 296.3,312.1 296.5,311.3 296.8,310.0 297.0,309.4 297.3,313.6 297.5,317.8 297.8,317.4 298.0,316.7 298.3,314.5 298.5,312.4 298.8,313.2 299.0,314.7 299.3,320.7 299.5,325.8 299.8,321.9 300.0,319.3 300.3,324.9 300.5,328.3 300.8,321.6 301.0,317.2 301.3,322.9 301.5,327.2 301.8,324.9 302.0,323.4 302.3,324.8 302.5,325.8 302.8,325.4 303.0,325.4 303.3,327.6 303.5,329.3 303.8,328.0 304.0,327.0 304.3,327.7 304.5,327.6 304.8,324.4 305.0,322.0 305.3,323.7 305.5,324.8 305.8,322.9 306.0,321.5 306.3,322.7 306.5,323.5 306.8,323.0 307.0,322.4 307.3,320.8 307.5,320.6 307.8,324.5 308.0,327.5 308.3,328.0 308.5,328.5 308.8,328.8 309.2,331.0 M309.7,334.0 310.0,332.2 310.3,332.9 310.5,333.7 310.8,332.9 311.0,332.0 311.3,333.3 311.5,334.4 311.8,332.9 312.0,331.4 312.3,330.6 312.5,330.0 312.8,330.4 313.0,330.8 313.3,330.9 313.5,331.3 313.8,333.7 314.0,335.9 314.3,336.8 314.5,337.5 314.8,336.8 315.0,336.1 315.3,334.7 315.5,333.8 315.8,335.8 316.0,337.4 316.3,337.6 316.5,337.1 316.8,333.5 317.1,331.2 317.3,333.8 317.6,336.2 317.8,337.6 318.1,338.2 318.3,336.3 318.6,334.7 318.8,334.0 319.1,333.8 319.3,334.8 319.6,336.0 319.8,337.6 320.1,338.2 320.3,336.5 320.6,336.1 320.8,338.2 321.1,338.7 321.3,335.8 321.6,333.6 321.8,332.7 322.1,333.7 322.3,337.8 322.6,339.6 322.8,337.1 323.1,335.2 323.3,334.1 323.6,333.8 323.9,334.7 324.1,336.3 324.4,338.7 324.6,340.3 324.9,340.8 325.1,340.3 325.4,338.6 325.6,338.6 325.9,340.6 326.1,340.1 326.4,336.8 326.6,335.9 326.9,337.3 327.1,338.5 327.4,339.4 327.6,339.0 327.9,337.4 328.1,337.9 328.4,340.1 328.6,340.5 328.9,339.5 329.1,339.2 329.4,339.4 329.6,340.4 329.9,341.9 330.1,341.2 330.4,339.0 330.6,341.0 M331.3,341.0 331.6,342.0 331.9,341.0 332.1,340.0 332.4,340.3 332.6,340.5 332.9,337.9 333.1,335.1 333.4,335.9 333.6,336.6 333.9,335.1 334.1,333.7 334.4,334.2 334.6,334.6 334.9,334.2 335.1,334.0 335.4,336.3 335.6,338.3 335.9,335.0 336.1,332.4 336.4,335.4 336.6,337.7 336.9,334.8 337.1,332.4 337.4,333.1 337.6,333.8 337.9,335.0 338.1,336.3 338.4,338.4 338.6,339.7 338.9,337.1 339.1,334.9 339.4,334.7 339.6,334.5 339.9,334.2 340.1,334.7 340.4,338.5 340.7,341.3 340.9,340.1 341.2,338.7 341.4,336.8 341.7,335.0 341.9,333.3 342.2,332.8 342.4,336.4 342.7,338.1 342.9,333.8 343.2,330.2 343.4,329.4 343.7,330.5 343.9,336.7 344.2,339.9 344.4,334.9 344.7,332.0 344.9,334.3 345.2,336.6 345.4,338.8 345.7,340.1 345.9,339.3 346.2,338.3 346.4,336.9 346.7,337.2 346.9,340.6 347.2,340.6 347.4,333.8 347.7,330.1 347.9,332.3 348.2,334.5 348.4,336.0 348.7,335.3 348.9,331.2 349.2,328.8 349.5,328.7 349.7,330.6 350.0,335.3 350.2,338.7 350.5,340.4 350.7,340.5 351.0,338.8 351.2,338.8 351.5,340.8 351.7,340.6 352.0,338.0 352.2,338.6 352.5,342.8 352.7,345.6 353.0,347.0 353.2,348.2 353.5,349.4 353.7,349.5 354.0,348.6 354.2,348.6 354.5,349.4 354.7,347.5 355.0,343.2 355.2,342.1 355.5,343.7 355.7,344.9 356.0,345.7 356.2,345.2 356.5,343.7 356.7,344.1 357.0,345.9 357.2,346.5 357.5,346.3 357.7,347.8 358.0,350.2 358.2,349.0 M358.7,350.0 358.9,347.4 359.2,346.8 359.4,346.2 359.7,348.6 359.9,351.0 360.2,350.5 360.4,350.1 360.7,351.0 360.9,351.9 361.2,351.8 361.4,351.4 361.7,350.0 361.9,348.7 362.2,347.2 362.4,345.7 362.7,345.3 362.9,345.0 363.2,346.1 363.4,347.3 363.7,349.1 363.9,350.6 364.2,349.3 364.4,348.0 364.7,346.5 364.9,345.0 365.2,344.2 365.4,343.8 365.7,346.6 365.9,348.9 366.2,346.8 366.4,344.9 366.7,344.9 366.9,345.3 367.2,348.3 367.4,350.5 367.7,347.8 367.9,345.7 368.2,346.9 368.4,347.9 368.7,347.2 368.9,346.7 369.2,347.5 369.4,348.2 369.7,348.4 369.9,348.4 370.2,347.9 370.4,347.6 370.7,348.2 370.9,349.0 371.2,350.5 371.4,351.8 371.7,352.1 371.9,351.9 372.2,349.9 372.5,348.9 372.7,351.8 373.0,354.0 373.2,353.5 373.5,353.3 373.7,354.1 374.0,354.6 374.2,353.7 374.5,352.7 374.7,351.7 375.0,351.3 375.2,352.7 375.5,353.4 375.7,352.5 376.0,351.6 376.2,350.9 376.5,350.5 376.7,351.2 377.0,351.3 377.2,350.0 377.5,349.3 377.7,350.0 378.0,350.6 378.2,351.1 378.5,351.1 378.7,349.8 379.0,349.0 379.2,349.4 379.5,349.8 379.7,350.0 380.0,350.4 380.2,351.2 380.5,351.0 380.7,348.6 381.0,347.8 381.2,350.0 381.5,351.2 381.7,350.5 382.0,349.9 382.2,349.3 382.5,348.5 382.7,347.6 383.0,347.6 383.2,349.2 383.5,350.4 383.7,350.9 384.0,350.6 384.2,348.9 384.5,347.6 384.7,346.9 385.0,347.0 385.2,348.2 385.5,348.4 M386.6,350.2 386.9,351.3 387.2,352.3 387.6,352.6 387.9,352.8 388.2,352.4 388.5,352.2 388.8,352.7 389.1,352.9 389.5,352.7 389.8,352.6 390.1,352.5 390.4,352.2 390.7,351.8 391.0,352.2 391.4,353.0 391.7,353.0 392.0,352.9 392.3,353.1 392.6,353.3 392.9,353.2 393.2,353.1 393.5,352.7 393.8,352.4 394.1,352.8 394.4,353.4 394.7,353.9 395.0,354.4 395.3,354.1 395.7,354.0 396.0,354.3 396.3,354.6 396.6,354.9 396.9,355.1 397.2,355.1 397.5,355.1 397.8,355.4 398.1,355.6 398.4,355.7 398.7,355.9 399.0,356.2 399.3,356.3 399.6,356.0 400.0,355.9 400.3,355.8 400.6,356.4 M401.0,324.1 401.4,322.9 401.7,322.1 402.0,322.5 402.4,322.6 M402.9,356.1 403.2,356.5 403.5,357.0 403.7,357.7 404.0,358.5 404.3,359.0 404.6,359.6 404.9,360.0 405.2,360.4 405.4,360.8 405.7,361.3 406.0,361.6 406.3,361.5 406.6,362.0 406.9,362.7 407.3,363.3 407.6,363.9 407.9,363.1 408.2,362.2 408.5,362.3 408.8,362.5 409.1,362.7 409.5,363.0 409.8,363.1 410.1,363.3 410.4,363.5 M411.0,338.4 411.1,339.0 411.1,339.6 411.2,340.2 411.2,340.8 411.3,341.4 411.4,342.1 411.4,342.7 411.5,343.3 411.6,343.9 411.6,344.5 411.7,345.1 411.8,345.7 411.8,346.3 411.9,346.9 411.9,347.6 412.0,348.2 412.0,347.6 412.1,346.9 412.1,346.3 412.2,345.7 412.2,345.1 412.3,344.4 412.3,343.8 412.4,343.2 412.4,342.5 412.5,341.7 412.5,341.0 412.6,340.2 412.6,339.4 412.7,338.7 412.7,337.9 412.8,337.2 412.8,336.4 412.9,335.7 412.9,334.9 413.0,334.2 413.0,333.4 M413.8,364.1 414.2,364.6 414.6,364.6 415.0,364.7 415.2,364.1 415.4,363.5 415.6,363.0 415.8,362.4 416.0,361.9 416.2,361.4 416.4,360.8 416.6,360.2 416.8,359.1 417.0,357.9 430.0,347.5 430.3,347.4 430.6,347.4 430.9,347.0 431.2,346.5 431.5,346.6 431.8,346.5 432.1,345.9 432.4,345.5 432.7,345.3 433.0,345.1 433.3,344.6 433.6,344.3 433.9,344.0 434.2,343.8 434.5,343.3 434.8,342.6 435.1,342.7 435.4,342.9 435.7,342.4 436.0,341.8 436.3,341.7 436.6,341.3 436.9,341.0 437.2,340.7 437.5,340.4 437.8,340.1 438.1,339.8 438.4,339.6 438.7,339.3 439.0,339.0 439.3,339.0 439.6,338.9 439.9,338.4 440.2,338.0 440.5,337.7 440.8,337.2 441.1,336.8 441.4,336.8 441.7,336.2 442.0,335.6 442.3,335.5 442.6,335.5 442.9,335.3 443.2,335.0 443.5,334.5 443.8,334.0 444.1,333.9 444.4,333.4 444.7,333.3 445.0,333.1 445.3,332.7 445.6,332.5 445.9,332.2 446.2,332.2 446.5,331.7 446.8,331.1 447.1,330.7 447.4,330.5 447.7,330.1 448.0,329.6 448.3,329.4 448.6,329.2 448.9,328.8 449.2,328.4 449.5,328.4 449.8,328.3 450.1,327.8 450.4,327.4 450.7,327.2 451.0,327.0 451.3,326.7 451.6,326.4 451.9,325.9 452.2,325.7 452.5,325.4 452.8,325.3 453.1,325.2 453.4,325.0 453.7,324.4 454.0,323.9 454.3,323.7 454.6,323.4 454.9,323.1 455.2,322.8 455.5,322.8 455.8,322.8 456.1,322.3 456.4,322.0 456.7,321.9 457.0,321.6 457.3,321.1 457.6,320.6 457.9,320.3 458.2,320.0 458.5,319.7 458.8,319.1 459.1,319.0 459.4,318.8 459.7,318.7 460.0,318.8 460.3,318.3 460.6,318.0 460.9,317.7 461.2,317.4 461.5,317.0 461.8,316.7 462.1,316.7 462.4,316.6 462.7,315.9 463.0,315.3 463.3,315.3 463.6,315.1 463.9,314.9 464.2,314.8 464.5,314.6 464.8,314.3 465.1,314.0 465.4,313.6 465.7,313.3 466.0,313.1 466.3,312.7 466.6,312.6 466.9,312.4 467.2,312.1 467.5,312.0 467.8,311.8 468.2,311.3 468.5,311.0 468.8,310.8 469.1,310.7 469.4,310.6 469.7,310.4 470.0,310.7 470.3,310.3 470.6,310.3 470.9,308.9 471.2,307.9 471.5,308.0 471.8,308.0 472.2,308.7 472.5,308.7 472.8,308.7 473.1,308.3 473.4,307.9 473.7,306.6 474.0,306.2 474.3,306.5 474.6,306.0 474.9,305.8 475.2,305.8 475.5,305.4 475.8,304.5 476.1,304.9 476.4,305.9 476.7,306.6 477.0,306.4 477.3,304.4 477.6,304.7 477.9,304.4 478.2,303.5 478.5,303.4 478.8,302.3 479.1,301.6 479.4,301.3 479.7,301.3 480.0,301.3 480.3,300.7 480.6,301.5 480.9,302.4 481.2,302.4 481.5,302.1 481.8,303.1 482.1,302.3 482.4,302.8 482.7,303.5 483.0,302.8 483.3,301.1 483.6,299.3 483.9,298.5 484.2,298.8 484.5,299.8 484.8,300.0 485.1,300.2 485.4,301.0 485.7,301.2 486.0,300.7 486.3,300.3 486.6,299.2 486.9,300.0 487.2,299.4 487.5,298.6 487.8,298.2 488.1,297.9 488.4,297.7 488.7,297.6 489.0,297.9 489.3,298.2 489.6,298.3 489.9,298.3 490.2,298.6 490.5,297.9 490.8,297.3 491.1,296.9 491.4,298.3 491.7,297.4 492.0,297.0 492.3,296.5 492.6,296.1 492.9,296.4 493.2,296.9 493.5,296.4 493.8,295.4 494.1,294.7 494.4,294.5 494.7,293.1 495.0,292.9 495.3,293.7 495.6,294.0 495.9,293.5 496.2,294.2 496.5,293.4 496.8,292.9 497.2,293.5 497.5,293.2 497.8,292.1 498.1,292.1 498.4,291.5 498.7,291.1 499.0,291.2 499.3,291.4 499.7,291.3 500.0,291.2 500.3,291.3 500.6,289.9 500.9,289.9 501.2,289.5 501.5,288.7 501.8,288.6 502.2,288.3 502.5,287.9 502.8,287.8 503.1,288.2 503.4,288.0 503.7,287.4 504.0,286.8 504.3,287.6 504.6,287.3 504.9,287.9 505.2,287.7 505.5,286.1 505.8,286.4 506.1,287.2 506.4,287.1 506.7,286.7 507.0,286.4 507.4,286.6 507.7,285.7 508.0,284.8 508.3,285.6 508.6,286.4 508.9,285.8 509.2,285.1 509.5,284.6 509.8,284.8 510.1,284.6 510.4,284.1 510.7,283.8 511.0,284.8 511.3,285.5 511.6,286.1 511.9,285.2 512.2,284.7 512.5,284.6 512.8,285.0 513.2,284.1 513.5,283.8 513.8,283.2 514.1,282.3 514.4,281.8 514.7,281.7 515.0,283.9 515.3,284.5 515.6,283.0 515.9,281.9 516.2,281.4 516.5,282.0 516.8,281.8 517.2,281.0 517.5,280.4 517.8,280.8 518.1,280.9 518.4,281.1 518.7,280.6 519.0,279.5 519.3,278.8 519.6,278.5 519.9,277.5 520.2,277.5 520.5,278.3 520.8,278.5 521.1,278.0 521.4,277.9 521.7,279.0 522.0,279.3 522.3,279.1 522.6,278.6 522.9,277.6 523.2,277.7 523.5,276.9 523.8,276.8 524.1,277.2 524.4,277.6 524.7,276.7 525.0,277.1 525.8,268.5 525.9,269.4 526.1,270.3 526.2,271.3 526.4,272.5 526.5,273.2 526.7,273.7 526.9,274.2 527.0,274.8 527.3,275.1 527.6,274.9 527.9,275.1 528.2,274.4 528.5,274.5 528.8,275.6 529.1,274.8 529.4,273.9 529.7,273.7 530.0,273.4 530.3,272.9 530.6,272.1 530.9,272.1 531.2,270.8 531.5,271.2 531.8,272.1 532.1,272.0 532.4,271.8 532.7,271.9 533.0,272.2 533.3,271.4 533.6,270.3 534.0,269.1 534.3,269.1 534.6,268.8 534.9,268.0 535.2,267.4 535.6,267.3 535.9,267.0 536.2,267.3 536.5,268.7 536.8,267.4 537.2,265.2 537.5,263.9 537.8,262.7 537.9,261.9 538.1,261.0 538.2,259.9 538.3,258.7 538.5,258.1 538.6,258.0 538.7,257.9 538.9,257.9 539.0,257.8 539.1,257.3 539.3,257.0 539.4,256.8 539.6,257.7 539.7,258.4 539.9,259.1 540.0,259.4 540.2,259.8 540.4,260.0 540.5,260.3 540.7,260.4 540.8,260.5 541.0,261.7 541.1,261.6 541.2,261.4 541.3,261.3 541.3,261.1 541.4,260.7 541.5,260.4 541.6,260.0 541.7,259.6 541.8,259.4 541.9,259.3 541.9,259.2 542.0,258.8 542.1,258.0 542.2,256.9 542.3,255.9 542.4,254.9 542.5,253.8 542.5,252.8 542.6,251.9 542.7,251.2 542.8,250.5 542.9,251.2 542.9,251.9 543.0,252.7 543.1,253.4 543.2,254.2 543.2,254.7 543.3,255.1 543.4,255.5 543.5,255.9 543.5,256.3 543.6,256.8 543.7,257.5 543.7,258.2 543.8,259.0 543.9,259.9 544.0,260.8 544.0,261.5 544.1,262.3 544.2,263.0 544.3,263.7 544.3,264.5 544.4,265.2 544.5,263.8 544.6,262.4 544.8,261.1 544.9,259.9 545.0,258.7 545.1,258.7 545.2,258.8 545.3,259.0 545.5,259.0 545.6,258.6 545.7,257.8 545.8,256.9 545.9,256.1 546.0,255.3 546.2,254.6 546.3,254.3 546.4,253.9 546.4,252.7 546.7,252.9 546.9,253.1 547.2,251.3 547.4,249.4 547.7,247.7 547.9,246.0 548.2,246.0 548.4,246.3 548.7,248.1 548.9,249.6 549.2,246.9 549.4,244.4 549.7,242.8 550.0,242.3 550.2,246.5 550.5,248.9 550.7,246.0 551.0,244.0 551.2,244.7 551.5,244.9 551.7,243.7 552.0,244.0 552.2,247.4 552.5,249.3 552.8,248.6 553.0,247.9 553.3,247.1 553.5,245.2 553.8,242.1 554.0,241.8 554.3,244.6 554.5,246.2 554.8,246.5 555.0,245.2 555.3,242.6 555.5,243.7 555.8,247.6 556.1,248.4 556.3,247.1 556.6,245.7 556.8,244.2 557.1,244.6 557.3,245.9 557.6,245.2 557.8,243.6 558.1,243.5 558.3,244.8 558.6,247.9 558.8,250.9 559.1,252.1 559.2,252.0 M560.4,256.0 560.4,254.5 560.6,254.7 560.9,255.0 561.1,254.8 561.4,254.6 561.6,252.6 561.9,250.5 562.1,247.9 562.4,245.2 562.6,247.5 562.9,250.3 563.1,245.8 563.4,241.2 563.6,246.3 563.9,251.6 564.1,247.8 564.4,243.9 564.6,242.9 564.9,241.9 565.1,242.5 565.4,243.2 565.6,244.6 565.9,246.1 566.1,245.6 566.4,245.3 566.6,243.7 566.9,242.2 567.1,240.2 567.4,238.2 567.6,241.2 567.9,244.1 568.1,244.6 568.4,245.1 568.6,244.8 568.9,244.5 569.1,241.1 569.4,237.7 569.6,242.0 569.9,246.4 570.1,247.4 570.4,248.3 570.6,244.9 570.9,241.8 571.1,246.1 571.4,250.0 571.6,247.3 571.9,244.8 572.1,245.0 572.4,244.4 572.6,241.4 572.9,238.1 573.1,240.1 573.4,242.7 573.6,237.8 573.9,232.9 574.1,236.2 574.4,239.3 574.6,235.2 574.9,232.4 575.1,236.3 575.4,240.0 575.6,240.2 575.9,239.1 576.1,237.1 576.4,235.3" stroke="#ffa500" stroke-width="0.9"/>
<path d="M80.4,399.6 80.7,399.5 81.0,399.3 81.3,399.6 81.6,399.6 81.9,399.4 82.2,399.3 82.5,399.2 82.8,399.0 83.1,398.9 83.4,398.7 83.7,398.2 84.0,397.8 84.4,397.7 84.7,397.5 85.0,397.4 85.3,397.2 85.6,397.3 85.9,397.3 86.2,397.3 86.5,397.2 86.8,397.1 87.1,396.7 87.4,396.3 87.7,396.0 88.0,395.9 88.3,395.8 88.6,395.6 88.9,395.5 89.2,395.7 89.5,395.6 89.8,395.5 90.1,395.4 90.4,395.3 90.7,395.2 91.0,394.9 91.3,394.4 91.6,394.3 91.9,394.2 92.2,394.1 92.5,394.0 92.8,394.4 93.1,394.4 93.4,394.2 93.7,394.1 94.0,394.0 94.3,393.9 94.6,393.9 94.9,393.6 95.2,393.4 95.5,393.3 95.8,393.2 96.1,393.1 96.4,393.2 96.7,393.3 97.0,393.2 97.3,393.0 97.6,392.7 97.9,392.6 98.2,392.4 98.5,392.3 98.8,392.2 99.1,392.1 99.4,392.1 99.7,392.1 100.0,391.9 100.3,391.8 100.6,391.7 100.9,391.6 101.2,391.5 101.5,391.5 101.8,391.3 102.1,391.1 102.4,391.0 102.7,390.9 103.0,390.8 103.3,390.7 103.6,390.5 103.9,390.4 104.2,390.3 104.5,390.2 104.8,390.2 105.1,390.1 105.4,390.0 105.7,389.9 106.0,389.7 106.3,389.6 106.6,389.4 106.9,389.2 107.2,389.1 107.5,388.9 107.8,388.8 108.1,388.6 108.4,388.3 108.7,388.0 109.0,387.8 109.3,387.7 109.6,387.5 109.9,387.3 110.2,387.3 110.5,387.1 110.8,386.9 111.1,386.8 111.4,386.6 111.7,386.4 112.0,386.2 112.3,385.8 112.6,385.0 112.9,384.7 113.2,384.5 113.5,384.3 113.8,384.1 114.2,384.0 114.5,384.1 114.8,384.3 115.1,384.5 115.4,384.4 115.7,384.2 116.0,384.0 116.3,383.9 116.6,383.5 116.9,382.9 117.2,382.7 117.5,382.5 117.8,382.4 118.1,382.2 118.4,382.0 118.7,382.1 119.0,382.0 119.3,381.8 119.6,381.7 119.9,381.5 120.2,381.6 120.5,381.7 120.8,381.4 121.1,381.0 121.4,380.8 121.7,380.7 122.0,380.5 122.3,379.8 122.6,379.5 122.9,379.2 123.2,378.9 123.5,378.6 123.9,378.3 124.2,378.2 124.5,377.9 124.8,377.7 125.1,377.2 125.4,376.8 125.7,376.5 126.0,376.2 126.3,375.9 126.6,375.6 127.0,375.4 127.3,375.2 127.6,374.8 127.9,374.5 128.2,374.2 128.5,373.9 128.8,373.6 129.1,373.3 129.4,373.1 129.7,372.9 130.0,372.6 130.3,372.4 130.6,372.2 130.9,371.8 131.2,371.5 131.5,371.2 131.8,370.9 132.1,370.6 132.4,370.3 132.7,370.0 133.0,369.8 133.3,369.5 133.6,369.2 133.9,368.9 134.2,368.6 134.5,368.3 134.8,367.6 135.1,367.0 135.4,366.7 135.7,366.4 136.0,366.1 136.3,365.8 136.6,365.9 136.9,365.6 137.2,365.3 137.5,365.0 137.8,364.8 138.1,364.6 138.4,364.1 138.7,363.7 139.0,363.4 139.3,363.1 139.6,362.7 139.9,362.2 140.2,361.9 140.5,361.6 140.8,361.3 141.1,361.0 141.4,361.0 141.7,360.9 142.0,360.6 142.3,360.3 142.6,360.0 142.9,359.7 143.2,359.5 143.5,359.3 143.8,359.1 144.1,358.6 144.4,357.5 144.7,357.1 145.0,356.8 145.3,356.5 145.6,356.3 145.9,356.0 146.2,356.2 146.5,355.9 146.9,355.6 147.2,355.4 147.5,355.1 147.8,354.8 148.1,354.9 148.4,354.8 148.7,354.6 149.0,354.4 149.3,353.7 149.6,353.3 149.9,353.0 150.2,352.7 150.5,352.4 150.8,352.1 151.1,351.9 151.4,351.6 151.7,351.3 152.0,351.1 152.3,350.8 152.6,350.5 153.0,350.3 153.3,350.0 153.6,349.7 153.9,349.5 154.2,349.2 154.5,349.0 154.8,348.1 155.1,347.8 155.4,347.6 155.7,347.3 156.0,347.0 156.3,347.2 156.6,347.4 156.9,347.3 157.2,346.7 157.5,346.4 157.8,346.2 158.1,345.9 158.4,345.7 158.7,345.5 159.0,345.3 159.3,345.4 159.6,344.8 159.9,344.6 160.2,344.4 160.5,344.2 160.8,343.9 161.2,343.8 161.5,343.7 161.8,343.5 162.1,343.0 162.4,342.8 162.7,342.6 163.0,342.3 163.3,342.1 163.6,342.1 163.9,341.9 164.2,341.5 164.5,341.1 164.8,340.6 165.1,340.3 165.4,340.1 165.7,339.8 166.0,339.6 166.3,339.3 166.6,339.3 166.9,338.6 167.2,338.1 167.6,337.8 167.9,337.5 168.2,337.2 168.5,336.9 168.8,336.9 169.1,337.0 169.4,336.6 169.8,336.0 170.1,335.8 170.4,335.5 170.7,335.2 171.0,334.9 171.3,335.2 171.6,335.4 171.9,335.0 172.2,334.7 172.6,334.5 172.9,334.3 173.2,334.2 173.5,334.0 173.8,333.9 174.1,333.9 174.4,333.8 174.8,333.8 175.1,333.5 175.4,332.7 175.7,332.0 176.0,331.8 176.3,331.6 176.6,331.5 176.9,331.3 177.2,331.6 177.5,332.2 177.8,332.0 178.1,331.9 178.4,331.7 178.7,331.6 179.0,331.4 179.3,331.3 179.6,331.2 179.9,331.0 180.2,330.7 180.5,329.9 180.8,329.7 181.1,329.6 181.4,329.4 181.7,329.3 182.0,329.1 182.3,329.3 182.6,329.1 182.9,329.0 183.2,328.8 183.5,328.4 183.8,328.1 184.1,327.8 184.4,327.5 184.8,327.2 185.1,327.0 185.4,326.7 185.7,326.4 186.0,326.1 186.3,326.1 186.6,325.8 186.9,325.5 187.2,325.2 187.6,324.9 187.9,324.7 188.2,324.5 188.5,324.3 188.8,324.2 189.1,324.1 189.5,323.9 189.8,323.8 190.1,323.7 190.4,323.7 190.7,323.6 191.0,323.6 191.4,323.6 191.7,323.6 192.0,323.5 192.3,323.4 192.6,323.3 192.9,323.3 193.2,323.2 193.5,323.4 193.8,322.9 194.1,322.8 194.4,322.7 194.7,322.7 195.0,322.6 195.2,322.3 195.5,321.8 195.8,321.2 196.0,320.7 196.2,320.1 196.5,319.6 196.8,319.0 197.0,318.5 197.2,317.9 197.5,317.4 197.8,316.9 198.0,316.5 198.2,315.8 198.5,315.3 198.8,314.7 199.0,314.2 199.2,313.6 199.5,313.1 199.8,313.1 200.1,312.6 200.4,312.2 200.8,312.1 201.1,312.0 201.4,311.8 201.7,311.7 202.0,312.1 202.3,312.1 202.6,311.8 202.9,311.7 203.2,311.6 203.6,311.5 203.9,311.4 204.2,311.3 204.5,311.3 204.8,310.7 205.1,310.0 205.4,309.5 205.8,309.0 206.1,308.6 206.4,308.1 206.7,308.1 207.0,307.4 207.3,307.0 207.6,306.5 207.9,305.6 208.2,305.1 208.6,305.1 208.9,305.1 209.2,305.1 209.5,305.1 209.8,305.8 210.1,305.7 210.4,305.7 210.8,305.7 211.1,305.1 211.4,304.7 211.7,304.4 212.0,304.1 212.3,303.8 212.6,303.5 212.9,303.2 213.2,302.9 213.6,302.3 213.9,302.0 214.2,301.6 214.5,301.3 214.8,301.0 215.1,301.2 215.4,300.8 215.8,300.3 216.1,299.9 216.4,299.6 216.7,299.3 217.0,299.0 217.3,298.6 217.6,298.7 217.9,298.4 218.2,297.9 218.6,297.6 218.9,297.3 219.2,297.0 219.5,296.5 219.8,296.2 220.1,295.9 220.4,295.6 220.8,295.3 221.1,295.2 221.4,294.8 221.7,294.5 222.0,294.2 222.3,293.9 222.6,293.6 222.9,293.3 223.2,293.0 223.6,292.7 223.9,292.3 224.2,292.0 224.5,291.7 224.8,291.6 225.1,291.3 225.4,291.0 225.8,290.7 226.1,289.9 226.4,289.6 226.7,289.3 227.0,289.0 227.3,288.9 227.6,288.9 227.9,289.0 228.2,289.0 228.6,288.9 228.9,289.0 229.2,288.9 229.5,288.8 229.8,288.8 230.1,288.5 230.4,288.1 230.8,288.0 231.1,287.9 231.4,287.9 231.7,287.8 232.0,287.7 232.3,287.6 232.6,287.4 232.9,287.3 233.2,287.1 233.5,287.0 233.8,287.4 234.1,287.5 234.4,287.4 234.7,287.2 235.0,286.9 235.3,286.8 235.6,286.7 235.9,286.5 236.2,286.4 236.5,285.8 236.8,285.5 237.1,285.4 237.4,285.3 237.7,285.1 238.0,285.0 238.3,284.9 238.6,285.3 238.9,285.1 239.2,285.0 239.5,284.9 239.8,284.8 240.1,284.8 240.4,284.7 240.8,284.7 241.1,284.6 241.4,284.5 241.7,284.3 242.0,284.0 242.3,283.7 242.6,283.6 242.9,283.5 243.2,283.4 243.6,283.4 243.9,283.4 244.2,283.6 244.5,283.5 244.8,283.3 245.1,283.3 245.4,283.3 245.7,283.2 246.0,283.2 246.3,283.2 246.6,283.1 246.9,283.1 247.2,283.0 247.5,283.0 247.8,282.9 248.1,282.8 248.4,282.8 248.7,282.7 249.0,282.7 249.6,283.0 249.6,285.1 249.0,285.2 248.7,285.3 248.4,285.3 248.1,284.8 247.8,284.8 247.5,284.9 247.2,285.2 246.9,285.2 246.6,285.3 246.3,285.3 246.0,285.3 245.7,285.0 245.4,284.9 245.1,285.4 244.8,285.9 244.5,285.9 244.2,286.0 243.9,286.0 243.6,286.1 243.2,285.6 242.9,285.3 242.6,285.5 242.3,285.8 242.0,286.0 241.7,286.1 241.4,286.2 241.1,286.2 240.8,286.3 240.4,286.4 240.1,286.4 239.8,286.5 239.5,286.6 239.2,286.7 238.9,286.7 238.6,286.8 238.3,286.9 238.0,287.1 237.7,287.2 237.4,287.3 237.1,288.2 236.8,288.3 236.5,288.5 236.2,288.6 235.9,288.7 235.6,288.7 235.3,288.6 235.0,288.7 234.7,288.8 234.4,289.0 234.1,289.1 233.8,289.2 233.5,289.2 233.2,289.3 232.9,289.4 232.6,289.3 232.3,289.5 232.0,289.7 231.7,289.7 231.4,289.8 231.1,290.3 230.8,290.3 230.4,290.4 230.1,290.4 229.8,290.5 229.5,290.4 229.2,290.4 228.9,290.5 228.6,290.5 228.2,290.6 227.9,290.7 227.6,290.5 227.3,290.6 227.0,290.7 226.7,291.3 226.4,291.7 226.1,292.0 225.8,292.4 225.4,292.7 225.1,293.0 224.8,293.2 224.5,293.5 224.2,293.8 223.9,294.1 223.6,294.3 223.2,294.5 222.9,294.8 222.6,295.1 222.3,295.4 222.0,295.7 221.7,296.2 221.4,296.5 221.1,296.9 220.8,297.2 220.4,297.5 220.1,297.8 219.8,298.0 219.5,298.3 219.2,298.6 218.9,299.0 218.6,299.4 218.2,299.7 217.9,300.0 217.6,300.3 217.3,300.6 217.0,300.9 216.7,301.1 216.4,301.2 216.1,301.6 215.8,302.1 215.4,302.7 215.1,303.0 214.8,303.3 214.5,303.6 214.2,303.9 213.9,303.8 213.6,304.1 213.2,304.4 212.9,304.8 212.6,304.9 212.3,305.2 212.0,305.7 211.7,306.2 211.4,306.5 211.1,306.8 210.8,307.2 210.4,307.5 210.1,307.9 209.8,307.9 209.5,307.9 209.2,307.9 208.9,307.9 208.6,307.4 208.2,306.9 207.9,307.7 207.6,308.6 207.3,309.2 207.0,309.7 206.7,310.1 206.4,310.6 206.1,311.1 205.8,311.5 205.4,311.3 205.1,311.8 204.8,312.2 204.5,312.7 204.2,312.8 203.9,312.9 203.6,313.0 203.2,313.3 202.9,313.7 202.6,313.8 202.3,313.9 202.0,314.1 201.7,314.2 201.4,314.2 201.1,314.1 200.8,314.1 200.4,314.2 200.1,314.3 199.8,314.5 199.5,314.6 199.2,315.1 199.0,315.6 198.8,316.4 198.5,317.2 198.2,317.8 198.0,318.3 197.8,318.9 197.5,319.4 197.2,319.7 197.0,320.1 196.8,320.5 196.5,321.0 196.2,321.6 196.0,322.1 195.8,322.7 195.5,323.2 195.2,323.7 195.0,324.3 194.7,324.4 194.4,324.9 194.1,325.0 193.8,325.2 193.5,325.3 193.2,325.4 192.9,325.4 192.6,325.5 192.3,325.1 192.0,325.0 191.7,325.0 191.4,325.1 191.0,325.1 190.7,325.1 190.4,325.4 190.1,325.5 189.8,325.6 189.5,325.6 189.1,325.7 188.8,325.7 188.5,325.7 188.2,326.0 187.9,326.3 187.6,326.6 187.2,326.9 186.9,327.1 186.6,327.4 186.3,327.7 186.0,328.0 185.7,328.2 185.4,328.7 185.1,329.0 184.8,329.3 184.4,329.6 184.1,330.2 183.8,330.5 183.5,330.8 183.2,330.9 182.9,331.1 182.6,330.7 182.3,330.8 182.0,331.0 181.7,331.1 181.4,331.4 181.1,332.0 180.8,332.1 180.5,332.3 180.2,332.4 179.9,332.6 179.6,332.7 179.3,332.9 179.0,333.0 178.7,333.2 178.4,333.3 178.1,333.7 177.8,333.8 177.5,334.0 177.2,334.1 176.9,334.3 176.6,334.3 176.3,334.1 176.0,335.0 175.7,335.5 175.4,335.7 175.1,335.8 174.8,336.0 174.4,336.2 174.1,336.1 173.8,336.0 173.5,335.8 173.2,335.8 172.9,335.9 172.6,336.3 172.2,336.5 171.9,336.7 171.6,336.9 171.3,337.1 171.0,337.3 170.7,337.5 170.4,337.7 170.1,337.6 169.8,337.9 169.4,338.3 169.1,338.5 168.8,338.8 168.5,339.1 168.2,339.4 167.9,339.7 167.6,340.3 167.2,340.7 166.9,341.0 166.6,341.2 166.3,341.5 166.0,341.8 165.7,341.8 165.4,341.9 165.1,342.3 164.8,342.7 164.5,343.1 164.2,343.3 163.9,343.5 163.6,343.7 163.3,344.0 163.0,344.2 162.7,344.4 162.4,344.7 162.1,344.9 161.8,345.1 161.5,345.4 161.2,345.6 160.8,345.7 160.5,345.8 160.2,346.5 159.9,346.7 159.6,346.9 159.3,347.1 159.0,347.4 158.7,347.6 158.4,347.8 158.1,347.9 157.8,348.7 157.5,348.9 157.2,349.2 156.9,349.4 156.6,349.6 156.3,349.5 156.0,349.4 155.7,349.6 155.4,350.1 155.1,350.4 154.8,350.6 154.5,350.9 154.2,351.2 153.9,351.4 153.6,351.6 153.3,351.6 153.0,351.9 152.6,352.2 152.3,352.5 152.0,352.6 151.7,353.1 151.4,353.3 151.1,353.6 150.8,353.9 150.5,354.2 150.2,354.7 149.9,355.2 149.6,355.5 149.3,355.7 149.0,356.0 148.7,356.3 148.4,356.4 148.1,356.5 147.8,356.6 147.5,356.8 147.2,357.1 146.9,357.3 146.5,357.5 146.2,357.8 145.9,358.1 145.6,358.4 145.3,358.6 145.0,359.2 144.7,359.5 144.4,359.8 144.1,360.1 143.8,360.4 143.5,360.6 143.2,360.9 142.9,361.1 142.6,361.4 142.3,361.8 142.0,362.1 141.7,362.4 141.4,362.7 141.1,363.0 140.8,363.2 140.5,363.3 140.2,363.6 139.9,363.9 139.6,364.2 139.3,364.6 139.0,365.0 138.7,365.4 138.4,365.7 138.1,366.0 137.8,366.3 137.5,366.6 137.2,366.8 136.9,367.3 136.6,367.6 136.3,367.9 136.0,368.2 135.7,368.5 135.4,369.0 135.1,369.3 134.8,369.6 134.5,369.9 134.2,370.2 133.9,370.3 133.6,370.6 133.3,370.9 133.0,371.2 132.7,371.5 132.4,371.8 132.1,372.0 131.8,372.2 131.5,372.6 131.2,372.9 130.9,373.2 130.6,373.5 130.3,373.8 130.0,374.1 129.7,374.4 129.4,374.6 129.1,374.7 128.8,375.0 128.5,375.3 128.2,375.5 127.9,375.8 127.6,376.1 127.3,376.4 127.0,376.7 126.6,377.0 126.3,377.3 126.0,377.7 125.7,378.1 125.4,378.5 125.1,378.8 124.8,379.1 124.5,379.4 124.2,379.7 123.9,379.9 123.5,380.1 123.2,380.5 122.9,381.0 122.6,381.3 122.3,381.6 122.0,381.9 121.7,382.2 121.4,382.5 121.1,382.8 120.8,383.1 120.5,383.3 120.2,383.4 119.9,383.6 119.6,383.8 119.3,383.8 119.0,383.4 118.7,383.5 118.4,383.7 118.1,383.9 117.8,384.0 117.5,384.5 117.2,385.0 116.9,385.2 116.6,385.4 116.3,385.6 116.0,385.7 115.7,385.9 115.4,385.8 115.1,385.8 114.8,386.0 114.5,386.1 114.2,386.3 113.8,386.4 113.5,386.2 113.2,386.7 112.9,386.9 112.6,387.1 112.3,387.3 112.0,387.5 111.7,387.7 111.4,387.9 111.1,388.0 110.8,388.2 110.5,388.5 110.2,388.6 109.9,388.8 109.6,389.0 109.3,389.4 109.0,389.6 108.7,389.7 108.4,389.9 108.1,390.1 107.8,390.3 107.5,390.2 107.2,390.4 106.9,390.6 106.6,390.7 106.3,390.9 106.0,391.1 105.7,391.2 105.4,391.3 105.1,391.4 104.8,391.5 104.5,391.5 104.2,391.6 103.9,391.8 103.6,391.9 103.3,392.0 103.0,392.1 102.7,392.4 102.4,392.6 102.1,392.7 101.8,392.9 101.5,393.0 101.2,393.1 100.9,393.2 100.6,393.2 100.3,393.0 100.0,393.1 99.7,393.3 99.4,393.4 99.1,393.5 98.8,393.6 98.5,393.7 98.2,393.9 97.9,394.0 97.6,394.2 97.3,394.4 97.0,394.5 96.7,394.6 96.4,394.7 96.1,394.8 95.8,394.9 95.5,395.2 95.2,395.3 94.9,395.4 94.6,395.5 94.3,395.6 94.0,395.7 93.7,396.0 93.4,396.2 93.1,396.3 92.8,396.4 92.5,396.5 92.2,396.5 91.9,396.5 91.6,396.7 91.3,396.8 91.0,396.9 90.7,397.0 90.4,397.1 90.1,397.2 89.8,397.3 89.5,397.4 89.2,397.5 88.9,397.6 88.6,397.7 88.3,397.4 88.0,397.6 87.7,398.0 87.4,398.1 87.1,398.3 86.8,398.4 86.5,398.6 86.2,398.7 85.9,398.8 85.6,398.9 85.3,399.0 85.0,399.0 84.7,399.2 84.4,399.4 84.0,399.6 83.7,400.1 83.4,400.8 83.1,400.9 82.8,401.1 82.5,401.2 82.2,401.4 81.9,401.2 81.6,401.0 81.3,401.2 81.0,401.3 80.7,401.5 80.4,401.6Z M250.0,253.0 250.2,253.6 250.5,254.2 250.8,254.8 251.0,255.4 251.2,256.2 251.5,257.3 251.8,257.4 252.0,257.9 252.3,257.9 252.6,257.9 252.9,257.6 253.2,257.5 253.5,257.5 253.8,257.4 254.1,257.4 254.4,257.4 254.7,257.9 255.0,257.8 255.3,257.8 255.6,257.3 255.9,256.3 256.2,256.3 256.5,256.3 256.8,256.2 257.1,256.2 257.4,256.7 257.7,257.5 258.0,257.5 258.3,257.5 258.6,257.2 258.9,256.7 259.2,256.7 259.5,256.8 259.8,256.8 260.1,256.8 260.4,257.3 260.7,257.6 261.0,257.3 261.3,256.9 261.6,256.9 261.9,256.9 262.3,256.9 262.6,256.9 262.9,257.2 263.2,257.2 263.5,257.0 263.8,255.7 264.1,255.7 264.4,255.8 264.7,255.8 265.0,255.8 265.3,256.2 265.6,256.8 265.9,257.0 266.2,257.1 266.2,259.0 265.9,259.1 265.6,259.1 265.3,258.7 265.0,258.5 264.7,258.4 264.4,259.5 264.1,259.5 263.8,259.5 263.5,259.5 263.2,259.4 262.9,259.1 262.6,259.1 262.3,259.0 261.9,259.1 261.6,259.0 261.3,259.0 261.0,259.4 260.7,259.5 260.4,259.4 260.1,259.4 259.8,259.4 259.5,259.4 259.2,258.9 258.9,258.9 258.6,258.9 258.3,259.1 258.0,259.3 257.7,259.3 257.4,259.4 257.1,259.4 256.8,259.4 256.5,259.2 256.2,259.1 255.9,259.1 255.6,259.7 255.3,260.0 255.0,260.0 254.7,260.1 254.4,260.1 254.1,260.1 253.8,260.7 253.5,261.4 253.2,261.4 252.9,261.5 252.6,261.5 252.3,261.5 252.0,260.3 251.8,259.8 251.5,259.2 251.2,258.6 251.0,258.0 250.8,257.3 250.5,256.4 250.2,255.3 250.0,254.4Z M267.0,281.8 267.3,282.7 267.5,282.8 267.8,282.6 268.0,282.1 268.3,283.5 268.5,284.8 268.8,286.2 269.0,286.4 269.3,288.3 269.5,289.2 269.8,287.9 270.0,284.9 270.3,285.2 270.5,285.5 270.8,285.7 271.0,286.0 271.3,286.9 271.5,287.7 271.8,288.3 272.0,286.6 272.3,287.3 272.5,288.0 272.8,288.6 273.0,289.3 273.3,291.5 273.5,292.2 273.8,292.8 274.0,293.5 274.3,294.3 274.5,294.9 274.8,295.6 275.0,296.3 275.3,298.0 275.5,293.2 275.8,293.7 276.0,294.2 276.3,294.7 276.5,293.4 276.8,293.9 277.0,294.4 277.3,294.9 277.5,295.4 277.8,297.6 278.0,297.6 278.3,294.1 278.5,290.8 278.8,290.8 279.0,290.8 279.3,290.8 279.5,286.1 279.8,286.1 280.0,286.1 280.3,286.1 280.5,286.1 280.8,294.0 281.0,290.4 281.3,290.4 281.5,290.4 281.8,290.4 282.0,290.4 282.3,296.3 282.5,293.9 282.8,294.1 283.0,294.4 283.3,294.6 283.5,294.9 283.8,297.2 284.0,297.5 284.3,297.7 284.5,298.0 284.8,299.0 285.0,299.6 285.3,299.7 285.5,297.9 285.8,296.4 286.0,295.7 286.3,295.8 286.5,295.9 286.8,296.0 287.0,291.5 287.3,291.3 287.5,291.4 287.8,291.6 288.0,291.7 288.3,292.4 288.5,293.6 288.8,298.3 289.0,299.0 289.3,299.7 289.5,300.3 289.8,302.3 290.0,305.0 290.3,310.0 290.5,308.8 290.8,308.3 291.0,307.6 291.3,306.8 291.5,306.1 291.8,305.4 292.0,305.2 292.3,308.7 292.5,308.3 292.8,308.3 293.0,308.4 293.3,308.4 293.5,308.4 293.8,310.0 294.0,311.4 294.3,311.5 294.5,311.9 294.8,313.9 295.0,313.5 295.3,312.9 295.5,312.4 295.8,311.7 296.0,310.9 296.3,309.6 296.5,308.8 296.8,308.7 297.0,308.7 297.3,309.9 297.5,311.1 297.8,311.4 298.0,309.3 298.3,310.1 298.5,311.3 298.8,312.5 299.0,313.7 299.3,314.9 299.5,316.4 299.8,317.6 300.0,318.6 300.3,318.8 300.5,316.1 300.8,316.3 301.0,316.5 301.3,316.7 301.5,316.9 301.8,322.6 302.0,322.8 302.3,323.0 302.5,323.1 302.8,324.5 303.0,324.7 303.3,324.9 303.5,325.0 303.8,326.2 304.0,326.4 304.3,323.5 304.5,321.0 304.8,321.2 305.0,321.3 305.3,321.5 305.5,320.6 305.8,320.7 306.0,320.9 306.3,320.9 306.5,320.9 306.8,320.2 307.0,319.9 307.3,319.9 307.5,319.9 307.8,319.9 308.0,319.9 308.3,323.9 308.5,326.8 308.8,327.4 309.2,323.9 309.2,331.6 308.8,335.6 308.5,335.6 308.3,329.5 308.0,329.2 307.8,328.7 307.5,328.1 307.3,325.2 307.0,324.2 306.8,324.2 306.5,324.2 306.3,324.2 306.0,325.7 305.8,325.6 305.5,325.4 305.3,325.4 305.0,328.6 304.8,328.6 304.5,328.4 304.3,329.0 304.0,330.2 303.8,330.1 303.5,329.9 303.3,329.8 303.0,329.7 302.8,327.9 302.5,326.5 302.3,326.3 302.0,328.2 301.8,328.0 301.5,327.8 301.3,327.6 301.0,329.4 300.8,329.2 300.5,329.0 300.3,328.8 300.0,328.7 299.8,327.6 299.5,326.4 299.3,325.2 299.0,324.0 298.8,319.0 298.5,319.7 298.3,320.5 298.0,320.9 297.8,319.6 297.5,318.4 297.3,317.2 297.0,316.0 296.8,313.0 296.5,313.2 296.3,313.7 296.0,314.3 295.8,315.8 295.5,317.5 295.3,317.7 295.0,317.8 294.8,317.8 294.5,317.7 294.3,317.4 294.0,316.7 293.8,315.1 293.5,313.1 293.3,312.7 293.0,312.5 292.8,312.8 292.5,314.9 292.3,314.8 292.0,314.8 291.8,315.4 291.5,316.1 291.3,312.8 291.0,312.4 290.8,315.5 290.5,319.2 290.3,318.5 290.0,317.8 289.8,317.1 289.5,316.5 289.3,311.0 289.0,309.5 288.8,308.8 288.5,308.2 288.3,307.5 288.0,306.8 287.8,301.4 287.5,310.0 287.3,309.8 287.0,309.7 286.8,309.6 286.5,309.5 286.3,304.7 286.0,309.9 285.8,309.7 285.5,309.6 285.3,309.5 285.0,309.4 284.8,305.2 284.5,300.7 284.3,302.5 284.0,306.1 283.8,305.8 283.5,305.6 283.3,305.3 283.0,305.1 282.8,304.5 282.5,307.9 282.3,307.9 282.0,307.9 281.8,307.9 281.5,307.9 281.3,307.4 281.0,307.4 280.8,307.4 280.5,307.4 280.3,305.4 280.0,304.6 279.8,304.6 279.5,304.6 279.3,304.6 279.0,304.6 278.8,299.9 278.5,300.8 278.3,301.0 278.0,301.0 277.8,300.6 277.5,300.1 277.3,300.5 277.0,304.4 276.8,303.9 276.5,303.4 276.3,302.9 276.0,306.3 275.8,305.8 275.5,305.3 275.3,304.8 275.0,304.3 274.8,302.6 274.5,302.1 274.3,301.4 274.0,300.8 273.8,300.1 273.5,299.4 273.3,297.1 273.0,296.5 272.8,295.8 272.5,295.1 272.3,292.6 272.0,291.9 271.8,291.6 271.5,291.4 271.3,290.6 271.0,289.8 270.8,290.2 270.5,293.3 270.3,293.1 270.0,292.8 269.8,292.5 269.5,292.4 269.3,292.1 269.0,291.9 268.8,291.6 268.5,290.3 268.3,289.5 268.0,288.9 267.8,287.5 267.5,286.4 267.3,285.0 267.0,283.6Z M309.7,330.9 310.0,331.5 310.3,331.3 310.5,330.4 310.8,330.9 311.0,331.4 311.3,331.5 311.5,330.5 311.8,329.8 312.0,329.1 312.3,329.2 312.5,329.3 312.8,329.4 313.0,329.5 313.3,329.9 313.5,330.3 313.8,330.5 314.0,330.9 314.3,333.2 314.5,335.2 314.8,333.8 315.0,333.0 315.3,333.1 315.5,333.2 315.8,333.3 316.0,333.4 316.3,332.7 316.5,330.4 316.8,330.5 317.1,330.6 317.3,330.7 317.6,330.8 317.8,333.4 318.1,333.9 318.3,333.2 318.6,332.9 318.8,333.0 319.1,333.1 319.3,333.2 319.6,333.3 319.8,334.4 320.1,335.2 320.3,335.3 320.6,335.4 320.8,335.0 321.1,332.7 321.3,331.9 321.6,332.0 321.8,332.1 322.1,332.2 322.3,332.3 322.6,333.2 322.8,333.3 323.1,333.0 323.3,333.1 323.6,333.2 323.9,333.2 324.1,333.3 324.4,334.2 324.6,335.8 324.9,337.8 325.1,337.8 325.4,337.9 325.6,338.0 325.9,336.0 326.1,335.1 326.4,335.2 326.6,335.2 326.9,335.3 327.1,335.4 327.4,336.6 327.6,336.7 327.9,336.8 328.1,336.8 328.4,336.9 328.6,337.4 328.9,338.5 329.1,338.5 329.4,338.6 329.6,338.7 329.9,338.2 330.1,338.2 330.4,338.3 330.6,335.7 330.6,341.6 330.4,344.2 330.1,344.2 329.9,342.6 329.6,342.5 329.4,342.4 329.1,341.4 328.9,341.3 328.6,341.2 328.4,341.1 328.1,341.0 327.9,340.6 327.6,340.1 327.4,340.0 327.1,340.0 326.9,339.9 326.6,340.9 326.4,341.4 326.1,341.3 325.9,341.3 325.6,341.2 325.4,341.6 325.1,341.5 324.9,341.5 324.6,341.4 324.4,341.3 324.1,340.8 323.9,339.2 323.6,336.7 323.3,338.0 323.1,340.4 322.8,340.3 322.6,340.3 322.3,340.2 322.1,340.1 321.8,338.3 321.6,339.6 321.3,339.5 321.1,339.4 320.8,339.3 320.6,339.2 320.3,338.9 320.1,338.9 319.8,338.8 319.6,338.7 319.3,338.0 319.1,336.5 318.8,337.1 318.6,339.0 318.3,338.9 318.1,338.8 317.8,338.8 317.6,338.7 317.3,338.0 317.1,337.9 316.8,338.4 316.5,338.3 316.3,338.2 316.0,338.1 315.8,338.0 315.5,337.8 315.3,337.7 315.0,338.4 314.8,338.3 314.5,338.2 314.3,338.1 314.0,338.0 313.8,337.3 313.5,336.3 313.3,334.1 313.0,331.8 312.8,331.5 312.5,332.2 312.3,333.7 312.0,335.3 311.8,335.2 311.5,335.1 311.3,335.0 311.0,335.3 310.8,334.8 310.5,334.3 310.3,335.8 310.0,335.2 309.7,334.6Z M331.3,337.8 331.6,339.5 331.9,339.4 332.1,339.4 332.4,337.3 332.6,334.6 332.9,334.5 333.1,334.5 333.4,334.4 333.6,333.1 333.9,333.1 334.1,333.0 334.4,333.0 334.6,332.9 334.9,333.4 335.1,333.3 335.4,333.3 335.6,331.8 335.9,331.8 336.1,331.7 336.4,331.7 336.6,331.7 336.9,331.8 337.1,331.8 337.4,331.8 337.6,331.8 337.9,332.4 338.1,333.1 338.4,334.3 338.6,334.2 338.9,334.1 339.1,333.9 339.4,333.5 339.6,333.5 339.9,333.5 340.1,333.5 340.4,333.5 340.7,334.0 340.9,336.2 341.2,334.3 341.4,332.7 341.7,332.1 341.9,332.1 342.2,332.1 342.4,332.2 342.7,329.5 342.9,328.7 343.2,328.7 343.4,328.8 343.7,328.8 343.9,328.9 344.2,329.9 344.4,331.3 344.7,331.3 344.9,331.4 345.2,331.4 345.4,333.8 345.7,336.1 345.9,336.2 346.2,336.2 346.4,336.3 346.7,336.3 346.9,333.1 347.2,329.4 347.4,329.4 347.7,329.5 347.9,329.5 348.2,329.8 348.4,329.9 348.7,327.5 348.9,327.4 349.2,327.7 349.5,328.0 349.7,328.3 350.0,328.6 350.2,330.6 350.5,335.3 350.7,337.6 351.0,337.9 351.2,338.2 351.5,336.7 351.7,337.0 352.0,337.3 352.2,337.6 352.5,337.9 352.7,338.4 353.0,342.6 353.2,345.5 353.5,346.8 353.7,347.5 354.0,347.7 354.2,346.3 354.5,342.0 354.7,340.9 355.0,341.2 355.2,341.4 355.5,341.7 355.7,341.9 356.0,343.0 356.2,343.1 356.5,343.1 356.7,343.1 357.0,343.1 357.2,343.5 357.5,345.2 357.7,345.7 358.0,345.7 358.2,343.5 358.2,349.6 358.0,353.2 357.7,353.2 357.5,350.8 357.2,348.4 357.0,347.1 356.7,347.1 356.5,346.5 356.2,346.4 356.0,346.4 355.7,346.1 355.5,345.9 355.2,348.6 355.0,350.6 354.7,350.3 354.5,350.1 354.2,350.6 354.0,350.5 353.7,350.3 353.5,350.0 353.2,349.8 353.0,349.5 352.7,348.4 352.5,347.1 352.2,345.7 352.0,342.9 351.7,341.7 351.5,341.4 351.2,341.8 351.0,341.7 350.7,341.3 350.5,341.0 350.2,340.7 350.0,340.4 349.7,338.7 349.5,335.3 349.2,336.6 348.9,337.3 348.7,337.0 348.4,336.7 348.2,336.4 347.9,336.1 347.7,341.3 347.4,341.4 347.2,341.3 346.9,341.3 346.7,341.2 346.4,341.2 346.2,340.8 345.9,340.8 345.7,340.7 345.4,340.7 345.2,340.7 344.9,339.4 344.7,340.6 344.4,340.6 344.2,340.5 343.9,340.5 343.7,340.4 343.4,337.2 343.2,338.9 342.9,338.8 342.7,338.8 342.4,338.7 342.2,338.7 341.9,337.5 341.7,339.3 341.4,340.7 341.2,341.9 340.9,341.9 340.7,341.9 340.4,341.9 340.1,341.9 339.9,339.1 339.6,335.5 339.4,337.7 339.1,340.4 338.9,340.4 338.6,340.4 338.4,340.4 338.1,340.4 337.9,339.0 337.6,336.9 337.4,335.6 337.1,338.4 336.9,338.4 336.6,338.4 336.4,338.4 336.1,338.9 335.9,338.9 335.6,339.0 335.4,339.0 335.1,339.1 334.9,337.1 334.6,335.3 334.4,335.7 334.1,337.2 333.9,337.2 333.6,337.3 333.4,338.4 333.1,341.1 332.9,341.1 332.6,341.2 332.4,341.6 332.1,342.5 331.9,344.2 331.6,344.2 331.3,341.6Z M358.7,343.3 358.9,345.1 359.2,345.3 359.4,345.6 359.7,345.8 359.9,346.0 360.2,348.4 360.4,349.4 360.7,349.7 360.9,349.9 361.2,350.0 361.4,348.6 361.7,347.1 361.9,345.7 362.2,345.3 362.4,345.0 362.7,344.6 362.9,344.3 363.2,344.0 363.4,343.7 363.7,344.9 363.9,346.1 364.2,346.4 364.4,344.9 364.7,343.8 364.9,342.9 365.2,343.0 365.4,343.2 365.7,343.4 365.9,343.6 366.2,343.8 366.4,344.0 366.7,344.3 366.9,344.5 367.2,344.7 367.4,344.6 367.7,344.8 367.9,345.0 368.2,345.2 368.4,345.4 368.7,345.9 368.9,346.1 369.2,346.3 369.4,346.5 369.7,346.9 369.9,346.5 370.2,346.7 370.4,347.0 370.7,347.2 370.9,347.4 371.2,348.0 371.4,348.7 371.7,348.8 371.9,347.8 372.2,348.0 372.5,348.2 372.7,348.5 373.0,348.7 373.2,351.3 373.5,352.6 373.7,352.5 374.0,352.4 374.2,351.4 374.5,350.9 374.7,350.8 375.0,350.7 375.2,350.5 375.5,350.4 375.7,350.5 376.0,350.1 376.2,350.0 376.5,349.9 376.7,349.6 377.0,348.9 377.2,348.8 377.5,348.7 377.7,348.5 378.0,348.4 378.2,349.1 378.5,348.6 378.7,348.5 379.0,348.4 379.2,348.2 379.5,348.1 379.7,348.5 380.0,348.9 380.2,348.1 380.5,347.2 380.7,347.2 381.0,347.1 381.2,347.0 381.5,347.0 381.7,348.7 382.0,348.0 382.2,347.1 382.5,347.0 382.7,346.9 383.0,346.9 383.2,346.8 383.5,346.8 383.7,348.4 384.0,347.1 384.2,346.4 384.5,346.4 384.7,346.3 385.0,346.2 385.2,346.2 385.5,343.1 385.5,349.1 385.2,352.3 385.0,352.4 384.7,349.4 384.5,351.1 384.2,351.4 384.0,351.5 383.7,351.6 383.5,351.6 383.2,351.7 383.0,351.2 382.7,350.0 382.5,350.4 382.2,351.1 382.0,351.7 381.7,351.8 381.5,351.9 381.2,351.9 381.0,352.0 380.7,351.7 380.5,351.8 380.2,351.9 380.0,351.9 379.7,352.1 379.5,351.3 379.2,350.9 379.0,351.5 378.7,351.6 378.5,351.8 378.2,351.9 378.0,352.0 377.7,352.0 377.5,351.7 377.2,351.8 377.0,352.0 376.7,352.1 376.5,352.2 376.2,352.9 376.0,353.8 375.7,354.0 375.5,354.1 375.2,354.2 375.0,354.4 374.7,354.1 374.5,355.0 374.2,355.1 374.0,355.2 373.7,355.3 373.5,355.5 373.2,355.0 373.0,354.7 372.7,354.5 372.5,354.2 372.2,353.1 371.9,352.9 371.7,352.7 371.4,352.5 371.2,352.3 370.9,352.0 370.7,350.7 370.4,349.5 370.2,349.5 369.9,349.3 369.7,349.1 369.4,348.9 369.2,348.6 368.9,349.0 368.7,348.7 368.4,348.5 368.2,348.9 367.9,351.6 367.7,351.4 367.4,351.2 367.2,351.0 366.9,350.7 366.7,348.5 366.4,350.0 366.2,349.8 365.9,349.6 365.7,349.4 365.4,349.1 365.2,346.8 364.9,348.0 364.7,349.3 364.4,350.6 364.2,351.0 363.9,351.3 363.7,351.6 363.4,351.9 363.2,350.4 362.9,348.6 362.7,347.4 362.4,348.7 362.2,350.1 361.9,351.5 361.7,351.8 361.4,352.1 361.2,352.5 360.9,352.6 360.7,352.3 360.4,352.1 360.2,351.8 359.9,351.6 359.7,351.4 359.4,351.1 359.2,353.5 358.9,353.2 358.7,350.6Z M386.6,349.6 386.9,349.6 387.2,349.7 387.6,350.8 387.9,351.5 388.2,351.5 388.5,351.6 388.8,351.6 389.1,351.7 389.5,351.7 389.8,351.4 390.1,351.0 390.4,351.1 390.7,351.1 391.0,351.2 391.4,351.2 391.7,351.7 392.0,352.2 392.3,352.3 392.6,352.2 392.9,351.8 393.2,351.4 393.5,351.6 393.8,351.7 394.1,351.8 394.4,352.0 394.7,352.5 395.0,353.0 395.3,353.2 395.7,353.3 396.0,353.5 396.3,353.6 396.6,353.9 396.9,354.2 397.2,354.3 397.5,354.5 397.8,354.6 398.1,354.7 398.4,355.0 398.7,355.2 399.0,355.3 399.3,355.2 399.6,355.1 400.0,355.1 400.3,355.1 400.6,355.1 400.6,357.0 400.3,357.0 400.0,357.0 399.6,356.9 399.3,356.9 399.0,356.9 398.7,356.8 398.4,356.6 398.1,356.2 397.8,356.1 397.5,356.0 397.2,355.9 396.9,355.8 396.6,355.7 396.3,355.5 396.0,355.3 395.7,355.3 395.3,355.2 395.0,355.0 394.7,354.9 394.4,354.8 394.1,354.3 393.8,354.0 393.5,354.1 393.2,354.2 392.9,354.1 392.6,353.9 392.3,353.8 392.0,353.8 391.7,353.7 391.4,353.6 391.0,353.6 390.7,353.5 390.4,353.4 390.1,353.5 389.8,353.7 389.5,353.6 389.1,353.6 388.8,353.5 388.5,353.6 388.2,353.5 387.9,353.4 387.6,353.4 387.2,353.3 386.9,353.2 386.6,352.9Z M401.0,321.5 401.4,321.5 401.7,321.5 402.0,321.5 402.4,321.5 402.4,323.3 402.0,323.5 401.7,324.8 401.4,324.8 401.0,324.8Z M402.9,355.2 403.2,355.8 403.5,356.3 403.7,356.9 404.0,357.4 404.3,358.2 404.6,358.6 404.9,359.1 405.2,359.5 405.4,359.9 405.7,360.2 406.0,360.7 406.3,360.8 406.6,360.9 406.9,361.0 407.3,361.5 407.6,361.4 407.9,361.5 408.2,361.6 408.5,361.7 408.8,361.7 409.1,361.8 409.5,362.0 409.8,362.2 410.1,362.5 410.4,362.6 410.4,364.1 410.1,364.1 409.8,364.0 409.5,363.8 409.1,363.7 408.8,363.5 408.5,363.9 408.2,364.6 407.9,364.6 407.6,364.5 407.3,364.4 406.9,364.4 406.6,363.8 406.3,363.2 406.0,362.6 405.7,362.1 405.4,361.7 405.2,361.3 404.9,360.8 404.6,360.2 404.3,359.7 404.0,359.2 403.7,358.6 403.5,358.0 403.2,357.3 402.9,356.7Z M411.0,337.7 411.1,338.3 411.1,338.9 411.2,339.5 411.2,340.2 411.3,340.8 411.4,341.4 411.4,342.0 411.5,342.6 411.6,343.2 411.6,343.8 411.7,344.4 411.8,345.0 411.8,345.7 411.9,346.3 411.9,346.9 412.0,347.5 412.0,346.9 412.1,346.3 412.1,345.6 412.2,345.0 412.2,344.4 412.3,343.8 412.3,343.1 412.4,342.3 412.4,341.5 412.5,340.8 412.5,340.0 412.6,339.3 412.6,338.5 412.7,337.8 412.7,337.0 412.8,336.3 412.8,335.5 412.9,334.7 412.9,334.0 413.0,333.4 413.0,332.8 413.0,334.3 413.0,335.1 412.9,335.8 412.9,336.6 412.8,337.4 412.8,338.1 412.7,338.9 412.7,339.6 412.6,340.4 412.6,341.1 412.5,341.9 412.5,342.6 412.4,343.2 412.4,343.8 412.3,344.5 412.3,345.1 412.2,345.7 412.2,346.3 412.1,347.0 412.1,347.6 412.0,348.2 412.0,348.8 411.9,348.2 411.9,347.6 411.8,347.0 411.8,346.4 411.7,345.8 411.6,345.2 411.6,344.6 411.5,344.0 411.4,343.3 411.4,342.7 411.3,342.1 411.2,341.5 411.2,340.9 411.1,340.3 411.1,339.7 411.0,339.1Z M413.8,363.3 414.2,363.4 414.6,363.7 415.0,364.0 415.2,363.4 415.4,362.8 415.6,362.2 415.8,361.6 416.0,361.1 416.2,360.6 416.4,359.6 416.6,358.4 416.8,357.8 417.0,357.2 430.0,346.2 430.3,345.9 430.6,346.3 430.9,346.2 431.2,345.9 431.5,345.6 431.8,345.3 432.1,345.2 432.4,344.9 432.7,344.5 433.0,344.2 433.3,343.9 433.6,343.6 433.9,343.2 434.2,342.6 434.5,342.3 434.8,342.0 435.1,341.7 435.4,341.4 435.7,341.5 436.0,341.2 436.3,340.9 436.6,340.6 436.9,340.3 437.2,340.0 437.5,339.7 437.8,339.4 438.1,339.1 438.4,338.8 438.7,338.5 439.0,338.4 439.3,338.1 439.6,337.8 439.9,337.6 440.2,337.1 440.5,336.8 440.8,336.5 441.1,336.2 441.4,335.6 441.7,335.3 442.0,335.0 442.3,334.7 442.6,334.4 442.9,334.2 443.2,334.0 443.5,333.7 443.8,333.4 444.1,333.1 444.4,332.8 444.7,332.5 445.0,332.2 445.3,332.1 445.6,331.8 445.9,331.5 446.2,331.0 446.5,330.7 446.8,330.4 447.1,330.0 447.4,329.6 447.7,329.3 448.0,329.0 448.3,328.7 448.6,328.4 448.9,328.1 449.2,327.8 449.5,327.5 449.8,327.2 450.1,327.1 450.4,326.8 450.7,326.5 451.0,326.2 451.3,325.9 451.6,325.6 451.9,325.3 452.2,325.0 452.5,324.7 452.8,324.4 453.1,324.2 453.4,323.8 453.7,323.5 454.0,323.2 454.3,322.9 454.6,322.7 454.9,322.4 455.2,322.1 455.5,321.9 455.8,321.6 456.1,321.6 456.4,321.3 456.7,321.0 457.0,320.5 457.3,320.2 457.6,319.9 457.9,319.6 458.2,319.0 458.5,318.7 458.8,318.4 459.1,318.1 459.4,317.9 459.7,317.8 460.0,317.6 460.3,317.5 460.6,317.3 460.9,316.9 461.2,316.6 461.5,316.3 461.8,316.0 462.1,315.8 462.4,315.2 462.7,315.0 463.0,314.7 463.3,314.4 463.6,314.1 463.9,314.1 464.2,313.9 464.5,313.7 464.8,313.5 465.1,313.2 465.4,312.9 465.7,312.6 466.0,312.3 466.3,312.1 466.6,311.8 466.9,311.6 467.2,311.5 467.5,311.1 467.8,310.8 468.2,310.6 468.5,310.3 468.8,310.1 469.1,309.9 469.4,309.7 469.7,309.6 470.0,309.5 470.3,308.7 470.6,307.7 470.9,307.5 471.2,307.3 471.5,307.0 471.8,306.8 472.2,306.9 472.5,306.9 472.8,307.6 473.1,306.4 473.4,306.0 473.7,305.7 474.0,305.5 474.3,305.3 474.6,305.1 474.9,305.1 475.2,304.2 475.5,304.0 475.8,303.8 476.1,303.6 476.4,303.4 476.7,303.8 477.0,304.0 477.3,303.8 477.6,303.3 477.9,303.0 478.2,302.1 478.5,301.3 478.8,301.0 479.1,300.8 479.4,300.6 479.7,300.4 480.0,300.2 480.3,300.1 480.6,299.9 480.9,299.8 481.2,300.6 481.5,301.4 481.8,301.3 482.1,301.2 482.4,301.6 482.7,300.7 483.0,298.9 483.3,298.1 483.6,297.9 483.9,297.8 484.2,297.7 484.5,297.5 484.8,297.9 485.1,298.9 485.4,299.1 485.7,299.3 486.0,298.9 486.3,298.7 486.6,298.6 486.9,298.3 487.2,297.9 487.5,297.6 487.8,297.4 488.1,297.2 488.4,297.0 488.7,296.8 489.0,296.7 489.3,296.6 489.6,296.9 489.9,297.1 490.2,297.0 490.5,296.6 490.8,296.4 491.1,296.3 491.4,296.1 491.7,295.9 492.0,295.8 492.3,295.7 492.6,295.5 492.9,295.3 493.2,295.1 493.5,294.4 493.8,294.2 494.1,292.8 494.4,292.6 494.7,292.4 495.0,292.2 495.3,292.1 495.6,291.9 495.9,292.6 496.2,292.6 496.5,292.3 496.8,292.3 497.2,291.9 497.5,291.7 497.8,291.4 498.1,291.0 498.4,290.7 498.7,290.5 499.0,290.3 499.3,290.0 499.7,290.0 500.0,289.7 500.3,289.4 500.6,289.2 500.9,288.5 501.2,288.3 501.5,288.1 501.8,287.8 502.2,287.5 502.5,287.3 502.8,287.1 503.1,286.8 503.4,286.4 503.7,286.3 504.0,286.2 504.3,286.0 504.6,285.9 504.9,285.8 505.2,285.6 505.5,285.5 505.8,285.4 506.1,285.2 506.4,285.5 506.7,285.9 507.0,285.3 507.4,284.4 507.7,284.3 508.0,284.2 508.3,284.0 508.6,283.9 508.9,284.2 509.2,284.1 509.5,283.9 509.8,283.7 510.1,283.5 510.4,283.3 510.7,283.2 511.0,283.1 511.3,282.9 511.6,283.8 511.9,284.2 512.2,284.0 512.5,283.8 512.8,283.5 513.2,282.9 513.5,282.0 513.8,281.5 514.1,281.3 514.4,281.1 514.7,281.0 515.0,280.8 515.3,280.7 515.6,281.1 515.9,281.0 516.2,280.8 516.5,280.6 516.8,280.2 517.2,280.0 517.5,279.8 517.8,279.6 518.1,279.4 518.4,279.2 518.7,278.5 519.0,278.2 519.3,277.1 519.6,277.0 519.9,276.8 520.2,276.7 520.5,276.5 520.8,276.6 521.1,277.3 521.4,277.2 521.7,277.0 522.0,277.0 522.3,277.3 522.6,277.1 522.9,276.5 523.2,276.4 523.5,276.2 523.8,276.1 524.1,275.9 524.4,275.8 524.7,275.0 525.0,274.8 525.8,267.8 525.9,268.4 526.1,269.1 526.2,270.0 526.4,270.9 526.5,271.9 526.7,272.9 526.9,273.5 527.0,274.1 527.3,273.9 527.6,273.7 527.9,274.0 528.2,273.8 528.5,273.6 528.8,273.3 529.1,273.4 529.4,273.2 529.7,272.7 530.0,271.9 530.3,271.7 530.6,270.6 530.9,270.4 531.2,270.1 531.5,269.9 531.8,269.7 532.1,270.1 532.4,271.0 532.7,270.9 533.0,270.6 533.3,269.3 533.6,268.8 534.0,268.4 534.3,268.0 534.6,267.5 534.9,267.2 535.2,266.7 535.6,266.3 535.9,265.9 536.2,265.7 536.5,265.4 536.8,264.1 537.2,262.9 537.5,262.3 537.8,261.6 537.9,260.4 538.1,259.3 538.2,258.7 538.3,258.1 538.5,257.4 538.6,256.8 538.7,256.3 538.9,256.1 539.0,256.0 539.1,256.0 539.3,255.9 539.4,255.4 539.6,256.4 539.7,257.4 539.9,257.8 540.0,258.0 540.2,258.4 540.4,258.5 540.5,258.6 540.7,259.2 540.8,259.9 541.0,260.5 541.1,259.9 541.2,259.8 541.3,259.7 541.3,259.5 541.4,259.4 541.5,259.3 541.6,258.8 541.7,258.5 541.8,258.1 541.9,257.7 541.9,257.5 542.0,257.4 542.1,256.5 542.2,255.4 542.3,254.4 542.4,253.4 542.5,252.5 542.5,251.8 542.6,251.1 542.7,250.5 542.8,249.8 542.9,250.5 542.9,251.1 543.0,251.8 543.1,252.5 543.2,253.2 543.2,253.6 543.3,254.0 543.4,254.4 543.5,255.0 543.5,255.6 543.6,256.2 543.7,256.8 543.7,257.4 543.8,258.1 543.9,258.8 544.0,259.6 544.0,260.5 544.1,261.4 544.2,262.1 544.3,262.8 544.3,263.1 544.4,262.9 544.5,261.7 544.6,260.5 544.8,259.2 544.9,258.6 545.0,258.0 545.1,257.4 545.2,256.8 545.3,256.8 545.5,257.0 545.6,257.2 545.7,256.6 545.8,255.9 545.9,255.2 546.0,254.6 546.2,254.0 546.3,249.7 546.4,249.1 546.4,252.0 546.7,251.3 546.9,249.4 547.2,247.6 547.4,245.9 547.7,245.6 547.9,245.3 548.2,245.0 548.4,244.7 548.7,244.7 548.9,244.0 549.2,242.3 549.4,241.9 549.7,241.8 550.0,241.7 550.2,241.6 550.5,241.5 550.7,243.5 551.0,243.3 551.2,243.2 551.5,243.1 551.7,243.0 552.0,242.9 552.2,242.9 552.5,243.3 552.8,246.5 553.0,244.7 553.3,241.5 553.5,241.2 553.8,241.2 554.0,241.2 554.3,241.1 554.5,241.1 554.8,242.0 555.0,242.0 555.3,242.0 555.5,241.9 555.8,241.9 556.1,243.0 556.3,243.6 556.6,243.6 556.8,243.6 557.1,243.6 557.3,242.9 557.6,242.7 557.8,242.7 558.1,242.9 558.3,243.3 558.6,243.8 558.8,245.1 559.1,248.1 559.2,249.5 559.2,252.7 559.1,254.0 558.8,253.5 558.6,251.8 558.3,250.7 558.1,247.6 557.8,246.5 557.6,246.5 557.3,246.5 557.1,246.5 556.8,247.8 556.6,249.0 556.3,249.0 556.1,249.1 555.8,249.1 555.5,249.1 555.3,248.3 555.0,247.1 554.8,247.1 554.5,247.1 554.3,247.2 554.0,246.9 553.8,247.7 553.5,248.5 553.3,249.2 553.0,249.9 552.8,249.9 552.5,250.0 552.2,250.0 552.0,250.0 551.7,248.2 551.5,245.5 551.2,246.4 551.0,249.4 550.7,249.5 550.5,249.6 550.2,249.7 550.0,249.8 549.7,247.4 549.4,250.0 549.2,250.1 548.9,250.2 548.7,250.4 548.4,250.7 548.2,249.4 547.9,249.4 547.7,251.3 547.4,253.1 547.2,253.5 546.9,253.8 546.7,257.2 546.4,257.5 546.4,254.6 546.3,255.2 546.2,255.8 546.0,256.3 545.9,257.2 545.8,258.1 545.7,258.7 545.6,259.3 545.5,259.9 545.3,260.5 545.2,260.8 545.1,260.9 545.0,260.7 544.9,261.8 544.8,263.3 544.6,264.7 544.5,265.3 544.4,265.9 544.3,265.2 544.3,264.6 544.2,263.9 544.1,263.1 544.0,262.4 544.0,261.7 543.9,260.9 543.8,260.2 543.7,259.4 543.7,258.4 543.6,257.8 543.5,257.4 543.5,257.0 543.4,256.6 543.3,256.1 543.2,255.5 543.2,254.8 543.1,254.2 543.0,253.6 542.9,252.9 542.9,252.1 542.8,251.4 542.7,252.3 542.6,253.2 542.5,254.3 542.5,255.3 542.4,256.3 542.3,257.4 542.2,258.3 542.1,258.9 542.0,259.5 541.9,260.1 541.9,260.7 541.8,261.1 541.7,261.2 541.6,261.3 541.5,261.5 541.4,261.9 541.3,262.2 541.3,262.6 541.2,263.0 541.1,263.2 541.0,263.3 540.8,262.3 540.7,261.9 540.5,261.7 540.4,261.4 540.2,261.1 540.0,260.4 539.9,259.8 539.7,259.1 539.6,258.5 539.4,257.8 539.3,258.3 539.1,258.7 539.0,258.9 538.9,259.2 538.7,259.7 538.6,259.7 538.5,259.8 538.3,260.4 538.2,261.3 538.1,262.1 537.9,263.5 537.8,264.9 537.5,267.2 537.2,268.5 536.8,268.9 536.5,269.4 536.2,269.8 535.9,270.2 535.6,268.8 535.2,268.5 534.9,269.0 534.6,269.4 534.3,270.1 534.0,271.2 533.6,272.0 533.3,272.4 533.0,272.9 532.7,273.1 532.4,273.3 532.1,273.0 531.8,272.8 531.5,273.1 531.2,273.2 530.9,273.1 530.6,273.6 530.3,273.9 530.0,274.1 529.7,275.0 529.4,275.8 529.1,276.0 528.8,276.3 528.5,276.5 528.2,276.7 527.9,275.8 527.6,276.0 527.3,276.2 527.0,276.0 526.9,275.3 526.7,274.5 526.5,273.9 526.4,273.3 526.2,272.6 526.1,271.9 525.9,271.4 525.8,270.8 525.0,278.0 524.7,278.1 524.4,278.3 524.1,278.4 523.8,278.6 523.5,278.2 523.2,278.9 522.9,279.5 522.6,279.7 522.3,279.8 522.0,280.0 521.7,280.1 521.4,280.3 521.1,279.9 520.8,279.1 520.5,279.3 520.2,279.4 519.9,279.3 519.6,279.9 519.3,281.0 519.0,281.4 518.7,281.6 518.4,281.8 518.1,281.9 517.8,282.1 517.5,282.1 517.2,282.3 516.8,282.5 516.5,282.6 516.2,283.3 515.9,284.8 515.6,285.0 515.3,285.1 515.0,285.3 514.7,285.5 514.4,284.9 514.1,284.1 513.8,284.4 513.5,285.2 513.2,285.4 512.8,285.6 512.5,285.8 512.2,286.4 511.9,286.6 511.6,286.7 511.3,286.9 511.0,287.1 510.7,286.4 510.4,285.8 510.1,285.3 509.8,285.5 509.5,286.2 509.2,286.8 508.9,286.9 508.6,287.1 508.3,287.2 508.0,287.3 507.7,287.1 507.4,287.2 507.0,287.5 506.7,287.6 506.4,287.8 506.1,287.9 505.8,288.1 505.5,288.3 505.2,288.4 504.9,288.5 504.6,288.7 504.3,288.8 504.0,288.4 503.7,288.5 503.4,288.6 503.1,288.9 502.8,289.1 502.5,289.4 502.2,289.0 501.8,289.7 501.5,290.1 501.2,290.3 500.9,291.4 500.6,291.7 500.3,291.9 500.0,292.2 499.7,292.4 499.3,292.3 499.0,292.4 498.7,292.6 498.4,292.5 498.1,293.4 497.8,293.7 497.5,293.9 497.2,294.1 496.8,294.4 496.5,294.6 496.2,294.9 495.9,295.1 495.6,295.4 495.3,294.8 495.0,295.0 494.7,295.0 494.4,295.7 494.1,296.7 493.8,297.2 493.5,297.4 493.2,297.6 492.9,297.8 492.6,297.9 492.3,297.7 492.0,298.5 491.7,298.7 491.4,298.9 491.1,299.1 490.8,299.3 490.5,299.1 490.2,299.2 489.9,299.4 489.6,299.6 489.3,299.4 489.0,299.3 488.7,299.2 488.4,299.0 488.1,298.9 487.8,299.7 487.5,300.2 487.2,300.4 486.9,300.6 486.6,301.0 486.3,301.5 486.0,301.7 485.7,301.8 485.4,302.0 485.1,302.1 484.8,301.9 484.5,301.1 484.2,300.9 483.9,301.5 483.6,303.2 483.3,303.9 483.0,304.0 482.7,304.1 482.4,304.3 482.1,304.4 481.8,303.8 481.5,303.9 481.2,304.0 480.9,303.1 480.6,303.3 480.3,303.3 480.0,302.4 479.7,302.2 479.4,302.5 479.1,303.7 478.8,303.9 478.5,304.6 478.2,304.9 477.9,305.2 477.6,306.6 477.3,306.9 477.0,307.1 476.7,307.3 476.4,307.5 476.1,307.7 475.8,306.9 475.5,306.2 475.2,306.4 474.9,306.7 474.6,306.9 474.3,307.1 474.0,308.0 473.7,308.5 473.4,308.8 473.1,309.1 472.8,309.3 472.5,309.5 472.2,309.8 471.8,309.8 471.5,309.8 471.2,310.4 470.9,310.7 470.6,310.9 470.3,311.1 470.0,311.4 469.7,311.6 469.4,311.8 469.1,311.5 468.8,311.7 468.5,312.0 468.2,312.2 467.8,312.5 467.5,312.7 467.2,312.9 466.9,313.1 466.6,313.3 466.3,313.5 466.0,313.8 465.7,314.1 465.4,314.4 465.1,314.7 464.8,315.0 464.5,315.2 464.2,315.5 463.9,315.8 463.6,316.0 463.3,316.1 463.0,316.7 462.7,316.9 462.4,317.2 462.1,317.5 461.8,317.8 461.5,317.9 461.2,318.1 460.9,318.4 460.6,318.9 460.3,319.1 460.0,319.4 459.7,319.7 459.4,320.0 459.1,319.9 458.8,320.1 458.5,320.4 458.2,320.7 457.9,321.2 457.6,321.7 457.3,322.0 457.0,322.3 456.7,322.5 456.4,322.9 456.1,323.2 455.8,323.4 455.5,323.7 455.2,324.0 454.9,324.0 454.6,324.1 454.3,324.5 454.0,325.0 453.7,325.3 453.4,325.6 453.1,325.9 452.8,326.2 452.5,326.5 452.2,326.6 451.9,326.8 451.6,327.1 451.3,327.4 451.0,327.7 450.7,328.0 450.4,328.3 450.1,328.6 449.8,328.9 449.5,329.2 449.2,329.5 448.9,329.7 448.6,329.9 448.3,330.2 448.0,330.5 447.7,330.8 447.4,331.1 447.1,331.7 446.8,332.2 446.5,332.5 446.2,332.8 445.9,333.1 445.6,333.4 445.3,333.5 445.0,333.8 444.7,334.1 444.4,334.4 444.1,334.6 443.8,335.1 443.5,335.4 443.2,335.7 442.9,336.0 442.6,336.3 442.3,336.5 442.0,336.8 441.7,337.1 441.4,337.4 441.1,337.7 440.8,338.1 440.5,338.5 440.2,339.0 439.9,339.3 439.6,339.6 439.3,339.9 439.0,340.2 438.7,340.2 438.4,340.3 438.1,340.6 437.8,340.9 437.5,341.1 437.2,341.4 436.9,341.7 436.6,342.0 436.3,342.4 436.0,342.9 435.7,343.2 435.4,343.5 435.1,343.8 434.8,344.1 434.5,344.1 434.2,344.4 433.9,344.7 433.6,345.1 433.3,345.4 433.0,345.7 432.7,346.0 432.4,346.5 432.1,346.8 431.8,347.1 431.5,347.4 431.2,347.7 430.9,347.9 430.6,348.1 430.3,348.4 430.0,348.7 417.0,359.7 416.8,360.3 416.6,360.9 416.4,361.5 416.2,362.1 416.0,362.6 415.8,363.2 415.6,363.8 415.4,364.3 415.2,365.0 415.0,365.9 414.6,365.6 414.2,365.2 413.8,364.9Z M560.4,252.9 560.4,253.9 560.6,253.5 560.9,253.1 561.1,252.8 561.4,250.7 561.6,248.1 561.9,245.4 562.1,245.0 562.4,244.5 562.6,244.1 562.9,241.0 563.1,240.8 563.4,240.5 563.6,240.3 563.9,240.1 564.1,242.7 564.4,241.7 564.6,241.5 564.9,241.3 565.1,241.0 565.4,240.8 565.6,241.4 565.9,242.1 566.1,243.1 566.4,241.6 566.6,239.6 566.9,237.6 567.1,237.6 567.4,237.6 567.6,237.6 567.9,237.6 568.1,240.5 568.4,243.5 568.6,240.4 568.9,237.0 569.1,237.0 569.4,237.0 569.6,237.0 569.9,237.1 570.1,241.7 570.4,240.7 570.6,241.0 570.9,241.2 571.1,241.4 571.4,241.6 571.6,244.0 571.9,244.2 572.1,242.4 572.4,239.1 572.6,238.3 572.9,237.4 573.1,236.6 573.4,235.4 573.6,234.0 573.9,232.3 574.1,230.5 574.4,228.8 574.6,230.7 574.9,231.8 575.1,232.9 575.4,234.1 575.6,237.6 575.9,235.9 576.1,235.2 576.4,234.6 576.4,238.5 576.1,239.6 575.9,240.9 575.6,241.5 575.4,240.7 575.1,239.6 574.9,241.1 574.6,240.0 574.4,240.0 574.1,241.7 573.9,243.5 573.6,241.9 573.4,243.3 573.1,244.1 572.9,245.0 572.6,244.2 572.4,245.1 572.1,247.7 571.9,251.1 571.6,250.9 571.4,250.7 571.1,250.5 570.9,250.2 570.6,249.2 570.4,248.9 570.1,248.7 569.9,248.5 569.6,247.7 569.4,247.0 569.1,245.5 568.9,245.8 568.6,245.8 568.4,245.8 568.1,245.8 567.9,245.8 567.6,245.3 567.4,244.8 567.1,244.4 566.9,245.9 566.6,246.3 566.4,246.7 566.1,246.7 565.9,246.8 565.6,247.0 565.4,247.2 565.1,245.7 564.9,244.3 564.6,248.0 564.4,251.8 564.1,252.0 563.9,252.3 563.6,252.5 563.4,252.7 563.1,250.7 562.9,250.9 562.6,251.3 562.4,251.7 562.1,252.5 561.9,254.4 561.6,254.8 561.4,255.2 561.1,255.6 560.9,256.1 560.6,257.2 560.4,257.6 560.4,256.6Z" fill="#ffa500" stroke="none"/>
<path d="" stroke="#008000" stroke-width="0.85"/>
<path d="M80.4,408.7 80.7,407.8 81.0,407.1 81.3,407.8 81.6,408.4 81.9,408.1 82.2,408.3 82.5,407.6 82.8,407.4 83.1,407.2 83.4,406.8 83.7,406.0 84.0,405.3 84.4,406.0 84.7,406.4 85.0,406.5 85.3,406.8 85.6,406.7 85.9,406.3 86.2,406.0 86.5,405.6 86.8,404.9 87.1,404.7 87.4,404.9 87.7,405.1 88.0,405.0 88.3,404.7 88.6,403.8 88.9,403.4 89.2,403.9 89.5,403.3 89.8,402.4 90.2,402.1 90.5,402.2 90.8,402.6 91.1,402.5 91.4,402.5 91.7,402.1 92.0,402.1 92.3,402.4 92.6,402.2 92.9,402.3 93.2,401.8 93.5,401.4 93.8,401.2 94.2,401.0 94.5,400.7 94.8,399.9 95.1,399.7 95.4,399.7 95.7,400.0 96.0,400.1 96.3,400.0 96.6,399.7 96.9,398.9 97.2,398.2 97.5,398.6 97.8,399.1 98.1,398.8 98.4,398.9 98.7,398.9 99.0,398.8 99.3,398.5 99.6,398.2 99.9,398.1 100.2,398.1 100.5,398.1 100.8,397.9 101.2,398.0 101.5,398.3 101.8,398.4 102.1,398.4 102.4,397.3 102.7,396.3 103.0,396.5 103.3,396.4 103.6,396.4 103.9,396.2 104.2,395.4 104.5,395.0 104.8,395.2 105.1,395.1 105.4,394.6 105.7,394.4 106.0,394.8 106.3,394.6 106.6,393.9 106.9,393.3 107.2,393.3 107.5,393.3 107.8,393.3 108.2,393.5 108.5,393.1 108.8,392.7 109.1,392.3 109.4,392.0 109.7,391.5 110.0,391.0 110.3,390.7 110.6,390.4 110.9,390.2 111.2,389.8 111.5,389.2 111.8,389.2 112.2,389.0 112.5,389.0 112.8,388.9 113.1,388.2 113.4,387.5 113.7,387.1 114.0,386.7 114.3,387.0 114.6,387.4 114.9,386.9 115.2,386.5 115.5,386.6 115.8,386.6 116.2,386.4 116.5,386.1 116.8,385.9 117.1,385.8 117.4,385.5 117.7,384.8 118.0,384.5 118.3,384.1 118.6,383.9 118.9,383.9 119.2,383.3 119.5,383.0 119.8,382.6 120.1,382.3 120.4,382.2 120.7,381.6 121.0,381.3 121.3,380.9 121.6,381.0 121.9,380.8 122.2,380.0 122.5,379.1 122.8,378.9 123.1,379.0 123.4,379.2 123.7,378.8 124.0,377.9 124.3,377.0 124.7,376.6 125.0,376.0 125.3,375.5 125.7,375.2 126.0,374.6 126.3,374.3 126.6,373.6 126.9,373.1 127.2,372.5 127.5,372.9 127.8,373.3 128.1,372.7 128.4,372.4 128.7,372.2 129.0,371.9 129.3,371.6 129.6,371.2 129.9,370.7 130.2,370.4 130.5,370.1 130.8,369.7 131.1,369.4 131.4,368.9 131.7,368.8 132.0,369.0 132.3,368.9 132.6,368.7 132.9,368.4 133.2,367.7 133.5,367.5 133.8,367.4 134.1,366.9 134.4,366.4 134.8,366.0 135.1,365.7 135.4,365.1 135.7,364.6 136.0,364.9 136.3,365.0 136.6,364.1 136.9,363.7 137.2,363.6 137.5,363.2 137.8,362.7 138.1,362.4 138.4,362.5 138.7,362.2 139.0,361.7 139.3,361.7 139.6,361.3 139.9,361.1 140.2,360.5 140.5,359.8 140.8,359.5 141.1,359.7 141.4,359.5 141.7,359.4 142.0,358.7 142.3,358.1 142.6,357.9 142.9,357.5 143.2,357.1 143.5,356.6 143.8,356.4 144.1,356.3 144.4,355.8 144.7,355.5 145.0,355.4 145.3,355.6 145.6,355.8 145.9,355.8 146.2,355.9 146.5,355.7 146.8,354.8 147.1,354.1 147.4,353.8 147.7,353.6 148.0,353.5 148.3,353.3 148.7,353.1 149.0,352.8 149.3,352.7 149.6,352.5 149.9,352.0 150.2,351.8 150.5,350.2 150.8,350.3 151.1,350.5 151.4,350.6 151.7,350.6 152.0,350.2 152.3,350.0 152.6,349.6 152.9,347.8 153.2,347.5 153.5,348.1 153.8,348.4 154.1,348.4 154.4,347.8 154.8,347.3 155.1,347.1 155.4,346.4 155.7,346.0 156.0,345.1 156.3,344.5 156.6,344.1 156.9,342.9 157.2,341.3 157.6,342.2 157.9,343.3 158.2,343.9 158.5,344.5 158.8,344.0 159.1,343.5 159.4,344.2 159.7,344.1 160.0,343.5 160.3,343.5 160.6,341.4 160.9,340.4 161.2,342.0 161.5,343.1 161.8,341.6 162.1,340.2 162.4,341.4 162.7,340.8 163.0,340.8 163.3,339.7 163.6,338.9 163.9,338.3 164.2,338.9 164.5,338.8 164.8,338.0 165.1,337.8 165.4,338.9 165.7,338.9 166.0,337.5 166.3,336.9 166.6,338.0 166.9,337.1 167.2,336.8 167.5,336.5 167.8,335.9 168.1,334.8 168.4,335.1 168.7,333.9 169.0,332.9 169.3,332.5 169.6,332.1 169.9,330.8 170.1,329.6 170.4,328.7 170.7,329.0 171.0,328.2 171.3,328.9 171.6,329.8 171.9,328.7 172.2,327.3 172.6,328.7 172.9,330.3 173.2,328.7 173.5,328.4 173.8,329.2 174.1,329.4 174.4,326.6 174.8,326.9 175.1,327.1 175.4,327.7 175.7,327.8 176.0,327.9 176.3,326.5 176.6,326.9 176.9,327.4 177.2,326.0 177.6,324.3 177.9,326.1 178.2,326.7 178.5,325.3 178.8,325.1 179.1,325.7 179.4,323.0 179.8,324.5 180.1,326.1 180.4,327.1 180.7,326.5 181.0,326.1 181.3,325.6 181.6,324.5 181.9,324.6 182.2,325.9 182.6,325.4 182.9,323.5 183.2,324.6 183.5,325.0 183.8,324.9 184.1,324.8 184.4,324.7 184.8,324.1 185.0,323.0 185.2,322.1 185.5,322.1 185.8,322.0 186.0,322.0 186.2,321.9 186.5,320.6 186.8,319.2 187.0,317.7 187.2,316.4 187.5,317.4 187.8,317.4 188.1,319.5 188.4,316.8 188.7,318.9 189.0,316.8 189.3,318.3 189.7,319.3 190.0,319.3 190.3,319.6 190.7,320.9 191.0,321.8 191.3,322.1 191.6,321.7 191.9,321.6 192.2,322.7 192.5,319.8 192.8,320.3 193.1,322.3 193.4,322.3 193.7,321.5 194.0,321.8 194.3,320.6 194.7,321.1 195.0,321.4 195.1,320.9 195.2,320.4 195.3,320.0 195.4,319.3 195.5,318.5 195.6,318.0 195.7,317.8 195.8,317.6 195.9,316.7 196.0,315.5 196.1,314.2 196.2,313.0 196.3,312.7 196.4,312.4 196.6,312.0 196.8,311.6 197.0,311.2 197.2,309.6 197.4,308.2 197.6,308.0 197.9,308.8 198.2,308.4 198.5,308.5 198.8,308.9 199.1,306.4 199.4,306.6 199.7,308.0 200.0,308.0 200.3,308.0 200.6,308.0 200.9,309.6 201.2,309.3 201.5,308.5 201.8,308.6 202.1,309.0 202.4,309.1 202.7,309.0 203.0,308.6 203.3,308.4 203.6,308.3 203.9,308.0 204.2,308.1 204.5,308.5 204.7,307.9 204.8,306.6 205.0,305.3 205.2,304.6 205.4,305.3 205.5,305.4 205.7,304.2 205.9,302.5 206.1,301.5 206.2,300.7 206.4,300.0 206.7,300.8 207.0,301.4 207.3,301.1 207.6,301.1 207.9,301.8 208.2,300.3 208.4,301.1 208.6,301.7 208.8,301.9 209.0,302.0 209.2,302.3 209.4,303.2 209.6,304.6 209.8,305.7 210.0,306.8 210.3,305.8 210.7,304.8 211.0,305.6 211.3,305.5 211.7,305.4 212.0,304.2 212.2,302.2 212.5,301.3 212.8,302.2 213.0,301.4 213.2,301.4 213.5,301.0 213.8,300.3 214.0,299.6 214.2,299.5 214.5,299.2 214.8,299.2 215.1,298.3 215.4,297.6 215.7,297.4 216.1,297.6 216.4,297.1 216.7,296.3 217.0,296.8 217.3,295.4 217.6,294.6 217.9,293.6 218.2,295.2 218.6,296.2 218.9,295.8 219.2,295.3 219.5,295.6 219.8,292.9 220.1,291.3 220.4,291.9 220.8,293.1 221.1,293.2 221.4,291.3 221.6,291.3 221.9,291.2 222.1,290.8 222.3,289.5 222.5,288.3 222.8,288.6 223.0,288.5 223.2,287.9 223.4,288.1 223.7,288.0 223.9,287.0 224.2,285.5 224.4,284.0 224.7,283.7 225.0,284.4 225.2,284.4 225.5,284.0 225.8,284.1 226.1,283.8 226.4,284.8 226.7,285.9 227.0,286.1 227.3,285.3 227.6,287.1 227.9,286.7 228.2,286.6 228.5,286.7 228.9,287.3 229.2,285.9 229.5,287.0 229.8,287.0 230.1,287.6 230.4,287.4 230.7,286.9 231.1,287.1 231.4,286.2 231.7,286.4 232.0,287.5 232.3,286.7 232.6,284.2 232.9,284.3 233.2,287.0 233.6,286.1 233.9,285.9 234.2,285.4 234.5,284.5 234.8,284.8 235.1,286.0 235.4,285.2 235.8,284.4 236.1,284.2 236.4,283.8 236.7,285.6 237.0,284.3 237.3,283.7 237.6,284.1 238.0,285.3 238.3,284.6 238.6,283.4 238.9,283.5 239.0,283.4 239.1,283.2 239.2,282.3 239.2,281.3 239.3,280.3 239.4,279.4 239.5,279.1 239.8,279.8 240.1,281.4 240.4,282.2 240.8,281.9 241.1,281.4 241.4,281.9 241.7,282.1 242.0,282.6 242.3,282.4 242.6,282.4 243.0,282.8 243.3,282.4 243.6,282.8 243.9,283.3 244.2,283.1 244.5,283.0 244.8,283.0 245.1,282.6 245.4,281.2 245.8,279.9 246.1,279.6 246.4,283.1 246.7,282.5 247.0,282.2 247.3,283.4 247.6,283.0 247.9,282.8 248.2,282.4 248.6,282.7 248.9,283.0 249.2,283.0 249.5,282.8 249.8,283.2 250.1,282.7 250.4,282.0 250.8,281.3 251.1,282.2 251.4,283.5 251.7,284.7 252.0,284.2 252.3,283.4 252.6,283.7 252.9,284.6 253.2,282.4 253.6,282.9 253.9,283.7 254.2,284.8 254.5,285.1 254.8,285.6 255.1,286.5 255.4,285.8 255.7,284.3 256.0,283.7 256.4,283.3 256.7,282.7 257.0,283.6 257.3,285.9 257.6,285.6 257.7,286.3 257.8,287.1 257.9,288.0 258.0,288.8 258.1,289.4 258.2,289.9 258.2,290.4 258.5,290.9 258.8,292.2 259.1,293.2 259.4,293.8 259.6,292.9 259.9,292.4 260.2,293.5 260.5,294.8 260.8,294.9 261.1,295.2 261.4,295.5 261.7,295.9 262.0,296.8 262.3,298.2 262.6,298.8 263.0,299.0 263.3,299.0 263.6,299.3 263.9,299.8 264.2,301.5 264.5,302.4 264.8,302.0 265.1,301.6 265.4,302.7 265.8,303.6 266.1,304.5 266.4,306.4 266.7,307.4 267.0,308.1 267.2,307.4 267.4,306.9 267.6,306.5 267.8,305.9 268.0,305.7 268.2,307.0 268.5,309.0 268.7,310.3 268.9,311.5 269.1,311.7 269.3,312.2 269.5,313.0 269.7,314.2 269.9,315.1 270.1,315.3 270.3,315.4 270.5,315.7 270.8,316.6 271.0,317.5 271.2,317.9 271.4,318.6 271.6,319.4 271.8,320.2 272.0,320.7 272.3,321.3 272.5,320.9 272.8,319.5 273.1,320.1 273.4,321.8 273.6,323.2 273.9,324.4 274.2,325.0 274.5,325.8 274.7,326.6 275.0,326.8 275.3,326.8 275.6,326.8 275.9,327.3 276.2,328.2 276.6,329.1 276.9,329.4 277.2,329.5 277.5,329.7 277.8,330.1 278.1,330.6 278.4,331.4 278.8,333.0 279.1,332.9 279.4,333.3 279.7,333.4 280.0,333.3 280.3,333.5 280.6,334.1 280.9,334.8 281.1,335.5 281.4,336.5 281.7,337.1 282.0,337.3 282.3,338.1 282.6,338.7 282.9,339.4 283.2,340.6 283.5,339.9 283.8,339.6 284.1,340.8 284.4,342.1 284.7,341.3 285.0,339.9 285.3,340.3 285.6,340.5 285.9,342.4 286.2,344.4 286.5,343.2 286.8,342.0 287.1,342.7 287.4,342.8 287.7,342.9 288.0,343.1 288.3,342.9 288.6,342.8 288.9,343.7 289.2,344.2 289.5,343.8 289.8,344.0 290.2,343.7 290.5,343.5 290.8,344.3 291.1,345.3 291.4,345.7 291.7,345.9 292.0,345.7 292.3,345.8 292.6,345.6 292.9,345.9 293.2,347.3 293.5,347.8 293.8,346.1 294.2,346.6 294.5,348.6 294.8,348.7 295.1,347.6 295.4,348.0 295.7,348.0 296.0,348.8 296.3,350.1 296.6,350.5 296.9,350.4 297.2,349.3 297.5,348.2 297.8,348.7 298.2,349.8 298.5,348.8 298.8,347.4 299.1,348.0 299.4,348.2 299.7,347.8 300.0,347.0 300.3,346.4 300.6,346.4 300.9,347.0 301.2,346.3 301.5,345.3 301.8,344.9 302.2,345.9 302.5,346.4 302.8,346.0 303.1,345.4 303.4,344.8 303.7,344.2 304.0,344.6 304.3,345.3 304.6,344.4 304.9,344.5 305.2,344.9 305.6,345.3 305.9,345.4 306.2,345.1 306.5,344.5 306.8,344.4 307.1,345.4 307.4,344.8 307.8,344.3 308.1,345.2 308.4,345.5 308.7,345.3 309.0,344.5 309.3,345.2 309.6,345.7 309.9,346.1 310.2,346.2 310.5,345.8 310.8,345.2 311.1,346.1 311.4,346.9 311.7,345.9 312.0,345.7 312.3,346.8 312.7,347.1 313.0,348.3 313.3,349.1 313.6,347.8 313.9,347.1 314.2,347.4 314.5,348.2 314.8,349.5 315.1,350.7 315.4,351.6 315.7,351.4 316.0,350.4 316.3,349.2 316.6,349.6 316.9,350.3 317.2,350.5 317.5,350.5 317.8,350.7 318.2,350.7 318.5,350.9 318.8,350.9 319.1,351.2 319.4,350.4 319.7,349.0 320.0,349.7 320.3,351.1 320.6,351.9 320.9,352.4 321.2,352.0 321.5,351.5 321.8,352.0 322.2,352.3 322.5,351.9 322.8,352.1 323.1,351.5 323.4,351.7 323.7,353.0 324.0,354.0 324.3,353.4 324.6,352.4 324.9,352.8 325.2,353.6 325.5,352.1 325.8,350.5 326.1,352.0 326.4,352.7 326.7,351.8 327.0,350.9 327.3,351.8 327.6,352.0 327.9,351.7 328.2,351.2 328.5,351.7 328.8,351.8 329.1,350.7 329.4,350.1 329.7,349.9 330.0,349.9 330.3,351.4 330.6,352.4 330.9,351.7 331.2,351.7 331.5,350.9 331.8,350.7 332.1,351.7 332.4,352.1 332.7,351.8 333.0,351.9 333.3,352.2 333.6,352.3 333.9,352.7 334.2,352.8 334.5,353.6 334.8,354.0 335.1,353.4 335.4,352.6 335.7,352.2 336.0,353.0 336.3,353.8 336.6,354.5 336.9,355.0 337.2,355.7 337.5,355.5 337.8,356.6 338.2,356.7 338.5,356.5 338.8,356.8 339.1,357.0 339.4,356.5 339.7,357.0 340.0,356.9 340.3,356.9 340.6,357.3 340.9,357.2 341.2,356.5 341.5,357.4 341.8,358.7 342.2,359.6 342.5,360.2 342.8,360.3 343.1,361.4 343.4,361.4 343.7,360.3 344.0,360.7 344.3,361.7 344.6,361.2 344.9,362.0 345.2,361.9 345.5,362.1 345.8,362.9 346.2,363.6 346.5,363.4 346.8,362.5 347.1,361.8 347.4,362.0 347.7,362.5 348.0,362.6 348.3,360.8 348.6,359.0 348.9,359.1 349.2,359.8 349.5,361.8 349.8,363.3 350.2,363.7 350.5,362.9 350.8,363.0 351.1,362.6 351.4,362.8 351.7,363.3 352.0,363.6 352.3,364.3 352.6,364.0 352.9,363.3 353.2,362.6 353.5,362.3 353.8,363.0 354.1,362.2 354.4,360.3 354.7,359.7 355.0,361.3 355.3,362.4 355.6,362.4 355.9,362.3 356.2,362.5 356.6,362.5 356.9,362.6 357.2,364.1 357.5,364.3 357.8,364.6 358.1,364.1 358.4,364.0 358.8,364.1 359.1,364.0 359.4,364.6 359.7,365.7 360.0,366.1 360.3,366.5 360.6,366.9 360.9,366.5 361.2,366.3 361.5,365.3 361.8,365.5 362.2,367.0 362.5,367.9 362.8,368.4 363.1,370.0 363.4,370.0 363.7,370.4 364.0,371.2 364.3,371.7 364.6,372.2 364.9,372.5 365.2,371.4 365.5,371.2 365.8,372.1 366.1,373.0 366.4,373.3 366.7,374.3 367.0,373.2 367.3,373.2 367.7,374.0 368.0,374.3 368.3,374.7 368.6,375.0 368.9,375.8 369.2,376.2 369.5,376.7 369.8,376.9 370.1,375.7 370.4,376.2 370.7,378.0 371.0,378.1 371.3,376.3 371.6,375.4 371.9,375.5 372.2,374.9 372.6,374.2 372.9,374.0 373.2,374.2 373.5,374.3 373.8,374.1 374.1,372.5 374.4,371.0 374.8,371.0 375.1,371.2 375.4,371.7 375.7,372.6 376.0,372.2 376.3,371.8 376.6,370.5 376.9,369.0 377.2,367.8 377.5,367.8 377.8,369.0 378.1,369.2 378.4,369.1 378.7,368.4 379.0,366.1 379.3,365.1 379.6,366.4 379.9,366.7 380.2,365.6 380.5,365.4 380.8,365.3 381.1,364.8 381.4,364.0 381.7,363.3 382.0,362.8 382.3,362.2 382.6,363.1 382.9,363.7 383.2,364.3 383.5,363.6 383.8,360.9 384.1,359.4 384.4,359.6 384.7,359.1 385.0,358.7 385.3,359.6 385.6,359.0 385.9,358.7 386.2,358.1 386.5,357.4 386.8,356.7 387.1,357.1 387.4,357.1 387.7,357.0 388.0,356.7 388.3,356.6 388.6,356.3 388.9,356.8 389.2,357.3 389.5,357.5 389.8,357.7 390.1,357.7 390.4,357.9 390.7,358.4 391.0,358.7 391.3,359.0 391.6,359.6 391.9,360.3 392.2,359.2 392.5,358.9 392.8,359.6 393.1,360.0 393.4,359.5 393.7,359.9 394.0,360.8 394.3,361.4 394.7,361.4 395.0,362.5 395.3,364.5 395.6,364.5 395.9,362.8 396.2,361.9 396.5,361.7 396.8,362.1 397.1,363.5 397.4,364.0 397.7,363.0 398.0,362.9 398.3,363.4 398.6,363.5 398.9,364.0 399.2,363.5 399.5,362.3 399.8,361.9 400.1,362.5 400.4,363.4 400.7,363.8 401.0,364.0 401.3,364.0 401.6,363.4 401.9,363.3 402.2,364.0 402.5,364.2 402.8,364.3 403.1,364.6 403.4,365.9 403.7,366.9 404.0,367.0 404.3,366.4 404.6,366.4 404.9,366.9 405.2,367.0 405.5,366.6 405.8,367.3 406.2,368.0 406.5,368.6 406.8,369.2 407.1,370.4 407.4,371.7 407.7,371.7 408.0,371.8 408.3,370.5 408.6,369.6 408.9,370.0 409.2,369.8 409.5,369.5 409.8,369.4 410.1,369.2 410.4,368.3 410.7,367.8 411.0,367.1 411.3,366.7 411.6,366.3 411.9,367.7 412.2,369.6 412.5,369.1 412.8,368.4 413.2,369.0 413.5,369.7 413.8,369.7 414.1,369.9 414.4,370.5 414.7,370.3 415.0,369.6 415.1,368.8 415.2,368.1 415.4,367.9 415.5,367.7 415.6,367.5 415.8,367.2 415.9,367.1 416.0,365.6 416.3,365.5 416.6,364.9 416.9,364.1 417.2,363.8 417.5,363.5 417.8,363.2 418.1,362.6 418.4,362.1 418.7,361.8 419.0,361.9 419.3,362.1 419.6,361.6 419.9,360.9 420.2,360.2 420.5,359.5 420.8,359.4 421.1,359.1 421.4,358.7 421.7,358.4 422.0,358.2 422.3,357.9 422.6,357.5 422.9,357.3 423.2,356.9 423.5,356.5 423.8,356.1 424.1,355.8 424.4,355.6 424.7,355.0 425.0,354.6 425.3,354.4 425.7,354.1 426.0,354.1 426.3,353.6 426.6,353.2 426.9,352.8 427.2,352.4 427.5,352.1 427.8,351.5 428.1,351.1 428.4,351.0 428.7,350.8 429.0,350.3 429.3,350.5 429.6,350.5 429.9,349.6 430.2,348.8 430.5,348.8 430.8,348.6 431.1,348.1 431.4,347.5 431.7,347.3 432.0,347.2 432.3,346.9 432.6,346.6 432.9,345.9 433.2,345.3 433.5,345.1 433.8,344.7 434.1,344.7 434.4,344.5 434.7,344.0 435.0,343.5 435.3,342.9 435.6,342.4 435.9,342.5 436.2,342.2 436.5,341.8 436.8,341.5 437.1,340.9 437.4,340.5 437.7,340.0 438.0,339.5 438.3,339.5 438.6,339.5 438.9,339.2 439.2,338.6 439.5,338.4 439.8,338.1 440.1,337.6 440.4,337.1 440.7,336.5 441.0,336.0 441.3,336.3 441.6,336.4 441.9,335.9 442.2,335.3 442.5,335.2 442.8,335.0 443.1,334.5 443.4,334.2 443.7,333.9 444.0,333.7 444.3,333.3 444.7,332.9 445.0,332.3 445.3,331.6 445.6,331.3 445.9,331.0 446.2,330.5 446.5,330.3 446.8,330.4 447.1,330.4 447.4,329.8 447.7,329.3 448.0,329.2 448.3,329.1 448.6,328.9 448.9,328.6 449.2,327.8 449.5,327.1 449.8,326.9 450.1,326.8 450.4,326.4 450.7,326.2 451.0,325.7 451.3,325.2 451.6,325.0 451.9,324.8 452.2,324.6 452.5,324.2 452.8,323.6 453.1,323.1 453.4,322.5 453.7,322.2 454.0,322.0 454.3,321.7 454.6,321.1 454.9,320.5 455.2,320.5 455.5,320.2 455.8,320.1 456.1,320.0 456.4,319.9 456.7,319.5 457.0,318.6 457.3,318.1 457.6,318.2 457.9,318.0 458.2,317.6 458.5,317.3 458.8,317.1 459.2,316.8 459.5,316.6 459.8,316.4 460.1,316.1 460.4,315.7 460.7,315.4 461.0,315.1 461.3,314.7 461.6,314.3 461.9,313.9 462.2,313.6 462.5,313.5 462.8,313.1 463.1,312.7 463.4,312.7 463.7,312.4 464.0,312.2 464.3,311.8 464.6,311.4 464.9,310.9 465.2,310.7 465.5,310.4 465.8,310.0 466.1,309.6 466.4,309.1 466.7,308.5 467.0,308.1 467.3,308.2 467.6,308.1 467.9,307.8 468.2,307.2 468.5,306.8 468.8,306.3 469.1,305.9 469.4,305.6 469.7,305.2 470.0,304.6 470.3,303.6 470.6,303.2 470.9,302.9 471.2,302.9 471.5,303.0 471.8,303.8 472.1,304.0 472.4,303.8 472.7,303.3 473.0,302.5 473.3,302.5 473.7,302.7 474.0,302.6 474.3,300.9 474.6,299.0 474.9,298.9 475.2,299.1 475.5,298.3 475.8,297.5 476.1,296.4 476.4,295.1 476.7,296.8 477.0,298.0 477.3,298.0 477.6,297.9 477.9,298.3 478.2,298.9 478.5,299.3 478.8,300.2 479.1,299.5 479.4,298.7 479.7,298.8 480.0,299.1 480.3,299.3 480.6,300.2 480.9,298.6 481.2,296.6 481.5,298.3 481.8,300.4 482.1,299.5 482.4,298.5 482.7,297.4 483.0,296.3 483.3,297.0 483.6,297.6 483.9,297.0 484.2,296.2 484.5,297.2 484.8,299.0 485.1,296.7 485.4,295.1 485.7,295.0 486.0,294.9 486.2,294.8 486.4,294.8 486.6,295.0 486.7,294.5 486.9,293.9 487.1,293.1 487.3,292.1 487.5,291.5 487.7,291.2 487.9,291.0 488.0,290.8 488.2,290.4 488.4,289.7 488.6,288.8 488.9,289.3 489.2,290.0 489.5,291.0 489.8,291.0 490.1,290.8 490.4,291.3 490.7,291.5 491.0,291.8 491.3,291.4 491.6,292.2 491.9,293.6 492.2,292.9 492.6,291.2 492.9,290.7 493.2,290.2 493.5,290.6 493.8,290.9 494.1,291.0 494.4,291.9 494.7,291.2 495.0,291.6 495.3,291.3 495.6,290.6 496.0,290.5 496.3,290.3 496.6,290.6 496.9,290.4 497.2,290.5 497.5,290.5 497.8,290.1 498.1,290.0 498.4,289.1 498.8,288.9 499.0,288.5 499.2,287.8 499.4,288.3 499.6,289.2 499.8,289.7 500.0,287.9 500.2,286.6 500.4,285.1 500.6,284.1 500.8,283.4 501.0,283.2 501.2,282.3 501.4,281.1 501.6,280.0 501.8,279.9 502.0,279.8 502.2,280.9 502.4,281.4 502.5,281.8 502.7,282.4 502.9,283.0 503.0,283.2 503.2,283.3 503.4,283.6 503.7,285.4 504.0,286.7 504.3,285.4 504.6,284.3 504.9,284.2 505.2,283.9 505.5,283.9 505.8,284.8 506.1,285.2 506.4,285.5 506.7,285.2 507.0,285.3 507.4,284.8 507.7,283.7 508.0,282.7 508.3,282.2 508.6,283.0 508.9,283.3 509.2,283.6 509.5,284.0 509.8,284.1 510.1,283.8 510.4,282.9 510.7,282.4 511.0,283.0 511.3,282.3 511.6,281.7 512.0,281.4 512.3,281.3 512.6,280.1 513.0,277.9 513.3,278.4 513.6,279.8 513.9,277.9 514.2,276.8 514.6,278.1 514.9,278.7 515.2,278.2 515.5,277.9 515.9,277.2 516.2,277.1 516.5,277.1 516.9,276.2 517.2,275.7 517.5,275.9 517.8,275.9 518.1,277.0 518.4,277.5 518.7,277.0 519.0,276.3 519.3,275.8 519.6,275.3 519.9,275.6 520.2,275.5 520.5,277.5 520.8,279.2 521.1,277.8 521.4,276.8 521.7,277.3 522.0,277.1 522.3,276.8 522.6,276.8 522.9,275.5 523.2,274.7 523.5,275.3 523.8,275.9 524.1,275.7 524.4,275.5 524.7,275.7 525.0,276.1 525.3,275.6 525.6,275.3 525.9,275.5 526.2,275.3 526.6,274.7 526.9,274.1 527.2,273.8 527.5,273.7 527.8,273.6 528.1,272.8 528.4,271.5 528.8,270.8 529.1,271.7 529.4,272.0 529.7,272.1 530.0,271.4 530.1,270.3 530.3,269.2 530.4,268.1 530.5,267.9 530.7,267.6 530.8,267.1 531.0,266.5 531.1,265.9 531.2,265.7 531.4,265.5 531.5,265.2 531.8,265.2 532.1,264.6 532.5,264.1 532.8,263.7 533.1,264.3 533.4,264.7 533.7,265.6 534.1,266.9 534.4,266.6 534.7,266.6 535.0,266.4 535.3,266.6 535.6,267.5 535.9,268.3 536.3,268.5 536.6,268.1 536.9,266.3 537.2,266.6 537.5,267.7 537.8,267.4 538.1,267.1 538.4,266.8 538.8,267.2 539.1,266.2 539.4,265.1 539.7,265.7 540.0,266.1 540.3,267.4 540.6,268.6 540.9,268.7 541.3,268.4 541.6,267.2 541.9,266.4 542.2,266.4 542.5,266.1 542.8,268.2 543.1,268.7 543.4,266.9 543.7,266.2 544.0,267.5 544.4,265.9 544.7,263.5 545.0,262.9 545.3,264.0 545.6,264.4 545.9,263.8 546.2,261.5 546.5,259.1 546.9,259.7 547.2,261.2 547.5,262.2 547.8,263.0 548.1,260.3 548.4,259.6 548.8,259.1 549.1,258.6 549.4,259.0 549.7,259.7 550.0,260.1 550.3,260.2 550.6,260.7 550.9,260.7 551.2,260.3 551.5,260.2 551.9,260.4 552.2,261.3 552.5,261.2 552.8,261.0 553.1,261.0 553.4,261.2 553.7,261.5 554.0,261.2 554.3,259.7 554.6,260.4 554.9,261.0 555.2,261.3 555.5,262.0 555.9,262.8 556.2,263.7 556.5,263.0 556.8,262.7 557.1,262.9 557.4,262.8 557.7,263.4 558.0,263.3 558.3,263.8 558.6,264.4 558.9,264.2 559.2,264.0 559.6,265.0 559.9,266.2 560.2,266.4 560.5,266.9 560.8,266.2 561.0,265.3 561.3,265.0 561.5,264.7 561.8,264.1 562.0,263.1 562.3,262.2 562.6,261.0 562.8,259.5 563.1,259.9 563.3,260.3 563.6,259.6 563.9,259.7 564.2,259.3 564.5,259.1 564.8,259.4 565.1,259.7 565.4,259.7 565.7,260.0 566.0,259.6 566.3,259.0 566.6,258.8 566.9,258.4 567.3,257.1 567.6,255.7 567.9,256.1 568.2,257.0 568.5,257.7 568.8,258.2 569.1,257.7 569.4,257.0 569.7,257.0 570.0,257.1 570.3,257.2 570.6,256.3 570.9,257.3 571.2,258.0 571.6,257.6 571.9,257.5 572.2,258.3 572.5,258.8 572.8,258.7 573.1,258.9 573.5,259.2 573.8,259.3 574.1,259.3 574.4,259.9 574.7,260.5 575.0,260.3 575.4,259.7 575.7,259.6 576.0,259.7" stroke="#008000" stroke-width="0.9"/>
<path d="M80.4,406.9 80.7,406.7 81.0,406.6 81.3,406.4 81.6,406.2 81.9,406.9 82.2,407.2 82.5,407.0 82.8,406.6 83.1,405.8 83.4,405.1 83.7,404.9 84.0,404.8 84.4,404.6 84.7,404.4 85.0,405.1 85.3,405.4 85.6,405.6 85.9,405.4 86.2,404.7 86.5,404.4 86.8,404.3 87.1,404.1 87.4,403.9 87.7,403.7 88.0,403.6 88.3,403.1 88.6,403.0 88.9,402.8 89.2,402.2 89.5,401.9 89.8,401.7 90.2,401.6 90.5,401.4 90.8,401.2 91.1,401.3 91.4,401.7 91.7,401.5 92.0,401.4 92.3,401.2 92.6,401.2 92.9,401.1 93.2,401.0 93.5,400.7 93.8,400.5 94.2,399.7 94.5,399.5 94.8,399.3 95.1,399.1 95.4,399.0 95.7,398.8 96.0,398.8 96.3,398.7 96.6,398.0 96.9,397.8 97.2,397.7 97.5,397.5 97.8,397.4 98.1,397.7 98.4,398.1 98.7,397.9 99.0,397.9 99.3,397.8 99.6,397.6 99.9,397.5 100.2,397.3 100.5,397.2 100.8,397.3 101.2,397.1 101.5,397.0 101.8,397.0 102.1,396.0 102.4,395.9 102.7,395.7 103.0,395.6 103.3,395.4 103.6,395.2 103.9,394.8 104.2,394.6 104.5,394.5 104.8,394.3 105.1,394.1 105.4,393.9 105.7,393.8 106.0,393.6 106.3,393.3 106.6,393.1 106.9,392.8 107.2,392.5 107.5,392.2 107.8,392.1 108.2,392.1 108.5,392.1 108.8,392.0 109.1,391.6 109.4,391.1 109.7,390.6 110.0,390.3 110.3,390.1 110.6,389.8 110.9,389.1 111.2,388.9 111.5,388.6 111.8,388.4 112.2,388.1 112.5,388.1 112.8,387.4 113.1,387.1 113.4,386.6 113.7,386.3 114.0,386.1 114.3,385.8 114.6,385.6 114.9,385.9 115.2,385.9 115.5,385.7 115.8,385.4 116.2,385.6 116.5,385.5 116.8,385.2 117.1,384.7 117.4,384.4 117.7,384.1 118.0,383.9 118.3,383.5 118.6,383.2 118.9,382.8 119.2,382.6 119.5,382.4 119.8,382.0 120.1,381.7 120.4,381.3 120.7,381.0 121.0,380.7 121.3,380.4 121.6,380.0 121.9,379.2 122.2,378.9 122.5,378.5 122.8,378.2 123.1,377.8 123.4,377.7 123.7,377.3 124.0,376.9 124.3,376.3 124.7,375.9 125.0,375.4 125.3,374.9 125.7,374.5 126.0,373.7 126.3,373.1 126.6,372.5 126.9,372.2 127.2,371.9 127.5,371.6 127.8,371.3 128.1,371.7 128.4,371.8 128.7,371.5 129.0,371.2 129.3,370.7 129.6,370.4 129.9,370.1 130.2,369.7 130.5,369.4 130.8,368.9 131.1,368.6 131.4,368.3 131.7,368.0 132.0,367.7 132.3,367.7 132.6,367.7 132.9,367.4 133.2,367.1 133.5,366.8 133.8,366.5 134.1,366.1 134.4,365.8 134.8,365.1 135.1,364.7 135.4,364.4 135.7,364.0 136.0,363.7 136.3,363.4 136.6,363.5 136.9,363.2 137.2,362.8 137.5,362.5 137.8,362.2 138.1,361.9 138.4,361.5 138.7,361.2 139.0,361.2 139.3,360.9 139.6,360.5 139.9,359.9 140.2,359.5 140.5,359.2 140.8,358.9 141.1,358.6 141.4,358.3 141.7,358.1 142.0,357.8 142.3,357.5 142.6,357.1 142.9,356.6 143.2,356.3 143.5,356.0 143.8,355.7 144.1,355.5 144.4,355.2 144.7,354.9 145.0,354.7 145.3,354.4 145.6,354.3 145.9,354.5 146.2,354.7 146.5,354.1 146.8,353.7 147.1,353.5 147.4,353.2 147.7,352.9 148.0,352.7 148.3,352.5 148.7,352.4 149.0,352.2 149.3,352.0 149.6,351.7 149.9,350.2 150.2,349.9 150.5,349.6 150.8,349.3 151.1,349.1 151.4,349.1 151.7,349.3 152.0,349.5 152.3,347.7 152.6,347.4 152.9,347.1 153.2,346.8 153.5,346.6 153.8,346.1 154.1,346.4 154.4,346.7 154.8,346.6 155.1,346.1 155.4,345.5 155.7,344.4 156.0,343.5 156.3,342.4 156.6,340.8 156.9,340.7 157.2,340.6 157.6,340.6 157.9,340.5 158.2,341.4 158.5,342.5 158.8,343.0 159.1,342.9 159.4,342.6 159.7,342.3 160.0,341.3 160.3,340.3 160.6,340.0 160.9,339.7 161.2,339.5 161.5,339.2 161.8,339.8 162.1,339.5 162.4,339.3 162.7,339.0 163.0,338.7 163.3,338.1 163.6,337.9 163.9,337.6 164.2,337.3 164.5,337.1 164.8,337.3 165.1,337.1 165.4,336.8 165.7,336.6 166.0,336.6 166.3,336.2 166.6,335.9 166.9,335.5 167.2,335.9 167.5,334.9 167.8,334.5 168.1,333.9 168.4,332.9 168.7,332.6 169.0,332.2 169.3,331.3 169.6,330.1 169.9,329.2 170.1,328.6 170.4,328.1 170.7,327.5 171.0,326.9 171.3,327.4 171.6,327.0 171.9,326.8 172.2,326.6 172.6,326.5 172.9,326.3 173.2,327.7 173.5,327.8 173.8,326.3 174.1,326.1 174.4,325.9 174.8,325.8 175.1,325.7 175.4,326.0 175.7,326.1 176.0,325.9 176.3,325.8 176.6,325.6 176.9,323.9 177.2,323.8 177.6,323.7 177.9,323.5 178.2,323.4 178.5,324.5 178.8,322.6 179.1,322.4 179.4,322.3 179.8,322.2 180.1,322.1 180.4,323.6 180.7,325.2 181.0,324.1 181.3,324.0 181.6,323.9 181.9,323.8 182.2,323.1 182.6,323.0 182.9,322.9 183.2,322.7 183.5,322.6 183.8,323.7 184.1,323.7 184.4,323.0 184.8,322.5 185.0,321.9 185.2,321.4 185.5,320.9 185.8,320.3 186.0,320.3 186.2,319.6 186.5,318.1 186.8,316.9 187.0,316.3 187.2,315.8 187.5,315.2 187.8,315.4 188.1,315.9 188.4,315.8 188.7,316.0 189.0,316.2 189.3,316.7 189.7,317.2 190.0,318.4 190.3,318.9 190.7,319.4 191.0,319.9 191.3,320.7 191.6,321.0 191.9,319.2 192.2,319.2 192.5,319.1 192.8,319.1 193.1,319.0 193.4,319.5 193.7,320.1 194.0,320.1 194.3,320.0 194.7,319.9 195.0,319.8 195.1,319.8 195.2,319.5 195.3,319.0 195.4,318.5 195.5,317.9 195.6,317.3 195.7,316.6 195.8,316.1 195.9,314.8 196.0,313.6 196.1,313.0 196.2,312.3 196.3,311.7 196.4,311.1 196.6,310.8 196.8,310.2 197.0,308.8 197.2,308.2 197.4,307.5 197.6,306.9 197.9,306.9 198.2,307.3 198.5,305.8 198.8,305.8 199.1,305.8 199.4,305.8 199.7,305.7 200.0,305.9 200.3,307.3 200.6,307.3 200.9,307.2 201.2,307.3 201.5,307.9 201.8,307.8 202.1,307.8 202.4,307.9 202.7,307.8 203.0,307.7 203.3,307.5 203.6,307.4 203.9,307.4 204.2,307.4 204.5,307.2 204.7,305.9 204.8,305.2 205.0,304.6 205.2,304.0 205.4,303.3 205.5,302.7 205.7,302.1 205.9,301.2 206.1,300.6 206.2,300.0 206.4,299.4 206.7,299.2 207.0,299.0 207.3,299.8 207.6,300.1 207.9,299.9 208.2,299.7 208.4,300.0 208.6,300.1 208.8,300.4 209.0,301.0 209.2,301.7 209.4,302.3 209.6,302.9 209.8,303.8 210.0,304.8 210.3,304.5 210.7,304.2 211.0,303.9 211.3,303.6 211.7,302.4 212.0,301.8 212.2,301.3 212.5,300.7 212.8,300.1 213.0,299.5 213.2,300.2 213.5,299.6 213.8,299.5 214.0,298.9 214.2,298.3 214.5,297.8 214.8,297.5 215.1,297.2 215.4,297.0 215.7,296.7 216.1,296.1 216.4,295.9 216.7,295.2 217.0,294.4 217.3,293.5 217.6,293.2 217.9,293.0 218.2,292.7 218.6,292.5 218.9,294.0 219.2,292.8 219.5,291.1 219.8,290.9 220.1,290.6 220.4,290.3 220.8,290.1 221.1,290.7 221.4,290.6 221.6,290.0 221.9,289.5 222.1,288.8 222.3,288.3 222.5,287.7 222.8,287.1 223.0,286.6 223.2,286.8 223.4,286.7 223.7,286.1 223.9,284.6 224.2,283.9 224.4,283.3 224.7,282.7 225.0,282.1 225.2,281.8 225.5,282.1 225.8,282.6 226.1,283.2 226.4,283.7 226.7,283.6 227.0,284.1 227.3,284.7 227.6,285.2 227.9,285.2 228.2,285.9 228.5,285.2 228.9,285.2 229.2,285.3 229.5,285.3 229.8,285.4 230.1,286.1 230.4,286.2 230.7,285.4 231.1,285.5 231.4,285.5 231.7,285.6 232.0,283.9 232.3,283.7 232.6,283.5 232.9,283.3 233.2,283.1 233.6,283.2 233.9,284.3 234.2,284.1 234.5,283.9 234.8,283.6 235.1,283.4 235.4,283.8 235.8,283.3 236.1,283.2 236.4,283.1 236.7,283.1 237.0,283.0 237.3,283.1 237.6,283.0 238.0,282.9 238.3,282.9 238.6,282.8 238.9,282.7 239.0,282.1 239.1,281.6 239.2,280.9 239.2,280.0 239.3,279.4 239.4,278.8 239.5,278.2 239.8,278.6 240.1,279.2 240.4,279.9 240.8,280.4 241.1,280.8 241.4,281.2 241.7,281.2 242.0,281.4 242.3,281.6 242.6,281.6 243.0,281.7 243.3,281.7 243.6,281.8 243.9,281.8 244.2,282.2 244.5,281.9 244.8,280.5 245.1,279.1 245.4,278.9 245.8,279.0 246.1,279.0 246.4,279.0 246.7,279.0 247.0,281.5 247.3,281.5 247.6,281.5 247.9,281.7 248.2,281.7 248.6,281.7 248.9,281.7 249.2,282.0 249.5,282.1 249.8,281.4 250.1,280.6 250.4,280.6 250.8,280.6 251.1,280.9 251.4,281.2 251.7,282.1 252.0,282.4 252.3,282.7 252.6,281.2 252.9,281.5 253.2,281.8 253.6,281.8 253.9,281.9 254.2,282.4 254.5,283.1 254.8,284.3 255.1,283.6 255.4,283.0 255.7,282.6 256.0,281.9 256.4,282.0 256.7,282.0 257.0,282.1 257.3,282.1 257.6,283.0 257.7,285.6 257.8,286.2 257.9,286.9 258.0,287.7 258.1,288.5 258.2,289.1 258.2,289.7 258.5,290.3 258.8,290.8 259.1,291.1 259.4,290.7 259.6,291.2 259.9,291.8 260.2,292.3 260.5,292.9 260.8,293.7 261.1,294.1 261.4,294.7 261.7,295.3 262.0,295.8 262.3,296.4 262.6,297.2 263.0,297.5 263.3,298.0 263.6,298.6 263.9,299.1 264.2,299.7 264.5,299.8 264.8,300.3 265.1,300.9 265.4,301.5 265.8,302.0 266.1,303.2 266.4,304.0 266.7,305.0 267.0,305.1 267.2,304.7 267.4,304.1 267.6,303.9 267.8,304.5 268.0,305.1 268.2,305.6 268.5,306.2 268.7,307.5 268.9,309.5 269.1,310.8 269.3,311.6 269.5,312.1 269.7,312.7 269.9,313.5 270.1,313.9 270.3,314.5 270.5,315.1 270.8,315.6 271.0,316.2 271.2,317.1 271.4,317.8 271.6,318.4 271.8,319.0 272.0,319.2 272.3,317.8 272.5,318.3 272.8,318.9 273.1,319.4 273.4,320.0 273.6,320.6 273.9,322.2 274.2,323.7 274.5,324.8 274.7,325.1 275.0,325.2 275.3,325.6 275.6,326.1 275.9,326.6 276.2,327.1 276.6,327.6 276.9,328.0 277.2,328.4 277.5,328.9 277.8,329.4 278.1,329.9 278.4,330.4 278.8,331.0 279.1,331.8 279.4,331.7 279.7,331.8 280.0,332.3 280.3,332.8 280.6,333.4 280.9,334.0 281.1,334.6 281.4,335.3 281.7,336.0 282.0,336.7 282.3,336.9 282.6,337.2 282.9,337.9 283.2,338.4 283.5,338.7 283.8,338.9 284.1,339.2 284.4,338.8 284.7,339.0 285.0,339.3 285.3,339.5 285.6,339.8 285.9,340.1 286.2,340.4 286.5,341.1 286.8,341.4 287.1,341.6 287.4,341.9 287.7,341.8 288.0,341.7 288.3,341.9 288.6,342.1 288.9,342.4 289.2,342.6 289.5,342.6 289.8,342.4 290.2,342.6 290.5,342.8 290.8,343.0 291.1,343.2 291.4,344.1 291.7,344.7 292.0,344.6 292.3,344.8 292.6,345.0 292.9,345.2 293.2,345.1 293.5,345.3 293.8,345.5 294.2,345.7 294.5,345.9 294.8,346.4 295.1,346.9 295.4,347.1 295.7,347.3 296.0,347.5 296.3,347.4 296.6,348.0 296.9,347.7 297.2,347.6 297.5,347.5 297.8,347.4 298.2,346.9 298.5,346.8 298.8,346.7 299.1,346.6 299.4,346.5 299.7,346.0 300.0,345.9 300.3,345.8 300.6,345.6 300.9,344.9 301.2,344.5 301.5,344.4 301.8,344.3 302.2,344.1 302.5,344.0 302.8,344.4 303.1,343.8 303.4,343.7 303.7,343.6 304.0,343.5 304.3,343.4 304.6,343.7 304.9,343.7 305.2,343.6 305.6,343.8 305.9,343.9 306.2,343.8 306.5,343.8 306.8,343.8 307.1,343.7 307.4,343.7 307.8,343.7 308.1,343.6 308.4,343.6 308.7,343.9 309.0,343.9 309.3,344.1 309.6,344.2 309.9,344.8 310.2,344.2 310.5,344.3 310.8,344.5 311.1,344.7 311.4,344.7 311.7,344.9 312.0,345.1 312.3,345.2 312.7,345.4 313.0,346.5 313.3,346.1 313.6,346.3 313.9,346.5 314.2,346.7 314.5,346.8 314.8,347.1 315.1,347.9 315.4,349.2 315.7,348.3 316.0,348.4 316.3,348.6 316.6,348.7 316.9,348.9 317.2,349.3 317.5,349.7 317.8,349.9 318.2,349.9 318.5,350.1 318.8,349.5 319.1,348.0 319.4,348.2 319.7,348.3 320.0,348.5 320.3,348.6 320.6,349.3 320.9,350.6 321.2,350.7 321.5,350.9 321.8,351.0 322.2,351.1 322.5,350.5 322.8,350.7 323.1,350.8 323.4,351.0 323.7,351.1 324.0,351.4 324.3,351.9 324.6,351.8 324.9,351.7 325.2,350.0 325.5,349.9 325.8,349.8 326.1,349.7 326.4,349.6 326.7,350.4 327.0,350.3 327.3,350.1 327.6,350.0 327.9,350.7 328.2,350.6 328.5,350.2 328.8,349.7 329.1,349.5 329.4,349.4 329.7,349.2 330.0,349.1 330.3,349.3 330.6,349.6 330.9,349.9 331.2,349.7 331.5,349.9 331.8,350.1 332.1,350.2 332.4,350.4 332.7,351.1 333.0,351.2 333.3,351.4 333.6,351.6 333.9,351.9 334.2,352.0 334.5,352.4 334.8,351.6 335.1,351.2 335.4,351.4 335.7,351.5 336.0,351.7 336.3,352.0 336.6,352.9 336.9,353.7 337.2,354.4 337.5,354.8 337.8,355.1 338.2,355.4 338.5,355.8 338.8,355.3 339.1,355.6 339.4,355.7 339.7,355.7 340.0,355.9 340.3,356.0 340.6,355.3 340.9,355.5 341.2,355.8 341.5,356.1 341.8,356.4 342.2,357.3 342.5,358.6 342.8,359.5 343.1,359.1 343.4,359.4 343.7,359.7 344.0,359.9 344.3,360.0 344.6,360.3 344.9,360.7 345.2,360.8 345.5,361.3 345.8,361.5 346.2,361.7 346.5,360.9 346.8,361.0 347.1,361.2 347.4,361.3 347.7,359.9 348.0,358.1 348.3,358.2 348.6,358.3 348.9,358.4 349.2,358.5 349.5,358.7 349.8,359.4 350.2,361.4 350.5,361.7 350.8,361.9 351.1,362.0 351.4,362.1 351.7,362.2 352.0,362.4 352.3,362.5 352.6,362.3 352.9,362.2 353.2,361.9 353.5,361.6 353.8,360.3 354.1,359.7 354.4,359.4 354.7,359.1 355.0,358.8 355.3,359.0 355.6,361.1 355.9,361.4 356.2,361.5 356.6,361.7 356.9,362.0 357.2,362.2 357.5,362.5 357.8,362.9 358.1,363.0 358.4,362.9 358.8,363.1 359.1,363.4 359.4,363.6 359.7,363.9 360.0,364.5 360.3,364.9 360.6,364.7 360.9,363.8 361.2,363.9 361.5,364.3 361.8,364.8 362.2,365.3 362.5,365.7 362.8,367.2 363.1,368.2 363.4,368.7 363.7,369.7 364.0,370.2 364.3,370.5 364.6,370.2 364.9,370.0 365.2,370.3 365.5,370.5 365.8,370.8 366.1,371.0 366.4,372.0 366.7,372.0 367.0,372.3 367.3,372.6 367.7,372.8 368.0,373.1 368.3,373.9 368.6,374.2 368.9,374.6 369.2,374.9 369.5,374.5 369.8,374.8 370.1,375.0 370.4,375.3 370.7,375.6 371.0,375.5 371.3,375.2 371.6,374.8 371.9,374.3 372.2,373.9 372.6,373.5 372.9,373.1 373.2,372.8 373.5,372.6 373.8,371.1 374.1,370.7 374.4,370.3 374.8,370.0 375.1,369.6 375.4,369.6 375.7,369.8 376.0,370.3 376.3,369.0 376.6,367.8 376.9,367.5 377.2,367.1 377.5,366.8 377.8,366.4 378.1,366.5 378.4,366.2 378.7,365.2 379.0,364.8 379.3,364.5 379.6,364.1 379.9,363.8 380.2,364.9 380.5,364.6 380.8,364.0 381.1,363.4 381.4,362.8 381.7,362.3 382.0,362.0 382.3,361.6 382.6,361.2 382.9,360.8 383.2,361.1 383.5,359.6 383.8,359.2 384.1,358.8 384.4,358.4 384.7,358.0 385.0,358.0 385.3,357.6 385.6,357.2 385.9,357.6 386.2,356.8 386.5,356.4 386.8,356.0 387.1,355.6 387.4,355.2 387.7,355.6 388.0,355.1 388.3,355.4 388.6,355.7 388.9,356.0 389.2,356.3 389.5,356.5 389.8,356.7 390.1,357.0 390.4,357.3 390.7,357.6 391.0,357.9 391.3,358.2 391.6,358.2 391.9,357.9 392.2,358.1 392.5,358.3 392.8,358.4 393.1,358.6 393.4,358.9 393.7,359.1 394.0,359.2 394.3,359.6 394.7,360.5 395.0,360.9 395.3,361.1 395.6,360.9 395.9,360.7 396.2,360.9 396.5,361.1 396.8,361.2 397.1,361.4 397.4,361.8 397.7,362.1 398.0,362.2 398.3,362.3 398.6,362.4 398.9,361.5 399.2,361.0 399.5,361.1 399.8,361.2 400.1,361.3 400.4,361.4 400.7,362.0 401.0,362.6 401.3,362.5 401.6,362.6 401.9,362.7 402.2,362.8 402.5,362.9 402.8,363.5 403.1,363.8 403.4,363.9 403.7,364.2 404.0,364.8 404.3,365.3 404.6,365.4 404.9,365.1 405.2,365.5 405.5,366.0 405.8,366.5 406.2,366.9 406.5,367.5 406.8,368.3 407.1,368.9 407.4,369.5 407.7,369.7 408.0,369.6 408.3,369.3 408.6,369.0 408.9,368.7 409.2,368.4 409.5,368.8 409.8,368.2 410.1,367.7 410.4,367.1 410.7,366.2 411.0,365.4 411.3,365.5 411.6,365.7 411.9,365.8 412.2,366.0 412.5,367.4 412.8,367.8 413.2,367.9 413.5,368.1 413.8,368.6 414.1,369.2 414.4,368.7 414.7,368.6 415.0,368.7 415.1,368.1 415.2,367.4 415.4,366.8 415.5,366.2 415.6,366.0 415.8,365.8 415.9,365.6 416.0,364.9 416.3,364.1 416.6,363.8 416.9,363.5 417.2,363.1 417.5,362.7 417.8,362.2 418.1,361.8 418.4,361.5 418.7,361.2 419.0,360.8 419.3,360.5 419.6,360.2 419.9,359.6 420.2,359.2 420.5,358.9 420.8,358.6 421.1,358.2 421.4,358.0 421.7,357.7 422.0,357.4 422.3,357.0 422.6,356.8 422.9,356.5 423.2,356.1 423.5,355.8 423.8,355.5 424.1,355.0 424.4,354.7 424.7,354.3 425.0,354.0 425.3,353.6 425.7,353.3 426.0,353.0 426.3,352.8 426.6,352.4 426.9,352.1 427.2,351.5 427.5,351.2 427.8,350.8 428.1,350.5 428.4,350.1 428.7,349.8 429.0,349.7 429.3,349.3 429.6,348.8 429.9,348.5 430.2,348.1 430.5,347.8 430.8,347.5 431.1,347.2 431.4,346.8 431.7,346.5 432.0,346.1 432.3,345.9 432.6,345.4 432.9,345.0 433.2,344.7 433.5,344.3 433.8,344.0 434.1,343.7 434.4,343.4 434.7,343.0 435.0,342.5 435.3,342.1 435.6,341.8 435.9,341.4 436.2,341.1 436.5,340.9 436.8,340.5 437.1,340.0 437.4,339.6 437.7,339.2 438.0,338.9 438.3,338.5 438.6,338.2 438.9,338.2 439.2,338.0 439.5,337.6 439.8,337.1 440.1,336.6 440.4,336.1 440.7,335.7 441.0,335.4 441.3,335.0 441.6,334.7 441.9,334.9 442.2,334.7 442.5,334.4 442.8,334.0 443.1,333.9 443.4,333.5 443.7,333.2 444.0,332.8 444.3,332.3 444.7,331.6 445.0,331.3 445.3,331.0 445.6,330.6 445.9,330.2 446.2,329.9 446.5,329.5 446.8,329.2 447.1,328.9 447.4,329.0 447.7,328.7 448.0,328.3 448.3,328.0 448.6,327.8 448.9,327.2 449.2,326.8 449.5,326.5 449.8,326.2 450.1,325.8 450.4,325.6 450.7,325.2 451.0,324.9 451.3,324.6 451.6,324.2 451.9,323.9 452.2,323.7 452.5,323.1 452.8,322.6 453.1,322.2 453.4,321.8 453.7,321.5 454.0,321.0 454.3,320.5 454.6,320.2 454.9,319.9 455.2,319.6 455.5,319.3 455.8,319.3 456.1,319.0 456.4,318.5 456.7,318.0 457.0,317.7 457.3,317.4 457.6,317.1 457.9,316.8 458.2,316.9 458.5,316.6 458.8,316.3 459.2,316.0 459.5,315.8 459.8,315.6 460.1,315.3 460.4,315.0 460.7,314.6 461.0,314.2 461.3,313.9 461.6,313.6 461.9,313.3 462.2,313.0 462.5,312.7 462.8,312.4 463.1,312.1 463.4,311.8 463.7,311.5 464.0,311.4 464.3,310.9 464.6,310.6 464.9,310.2 465.2,309.9 465.5,309.5 465.8,309.1 466.1,308.6 466.4,308.1 466.7,307.8 467.0,307.4 467.3,307.1 467.6,306.7 467.9,306.8 468.2,306.4 468.5,305.9 468.8,305.6 469.1,305.2 469.4,304.7 469.7,303.6 470.0,303.1 470.3,302.8 470.6,302.5 470.9,302.2 471.2,301.9 471.5,301.7 471.8,301.7 472.1,301.7 472.4,302.4 472.7,302.1 473.0,301.8 473.3,301.5 473.7,300.8 474.0,299.0 474.3,298.7 474.6,298.4 474.9,298.1 475.2,297.4 475.5,296.3 475.8,295.1 476.1,294.8 476.4,294.4 476.7,294.1 477.0,293.8 477.3,296.0 477.6,297.3 477.9,297.4 478.2,297.6 478.5,298.0 478.8,297.8 479.1,297.8 479.4,298.0 479.7,298.1 480.0,298.3 480.3,298.2 480.6,296.2 480.9,296.1 481.2,296.0 481.5,295.8 481.8,295.7 482.1,297.0 482.4,295.9 482.7,295.8 483.0,295.6 483.3,295.5 483.6,295.4 483.9,295.7 484.2,295.6 484.5,295.4 484.8,294.7 485.1,294.5 485.4,294.4 485.7,294.3 486.0,294.2 486.2,293.6 486.4,293.0 486.6,292.9 486.7,292.9 486.9,292.6 487.1,292.0 487.3,291.4 487.5,290.8 487.7,290.2 487.9,289.7 488.0,289.4 488.2,289.1 488.4,288.7 488.6,288.1 488.9,288.7 489.2,289.2 489.5,289.0 489.8,289.6 490.1,289.8 490.4,290.1 490.7,290.3 491.0,290.8 491.3,290.7 491.6,290.6 491.9,290.4 492.2,290.3 492.6,289.9 492.9,289.7 493.2,289.6 493.5,289.4 493.8,289.3 494.1,289.6 494.4,290.0 494.7,290.0 495.0,290.3 495.3,290.1 495.6,290.0 496.0,289.8 496.3,289.7 496.6,289.5 496.9,289.4 497.2,289.6 497.5,289.5 497.8,288.7 498.1,288.5 498.4,288.4 498.8,288.3 499.0,287.7 499.2,287.1 499.4,286.6 499.6,286.0 499.8,286.5 500.0,285.7 500.2,284.6 500.4,283.9 500.6,283.3 500.8,282.7 501.0,281.6 501.2,280.6 501.4,280.0 501.6,279.4 501.8,278.8 502.0,278.2 502.2,279.2 502.4,280.4 502.5,281.1 502.7,281.4 502.9,281.5 503.0,281.8 503.2,282.4 503.4,283.0 503.7,282.9 504.0,282.8 504.3,283.7 504.6,283.4 504.9,283.3 505.2,283.2 505.5,283.2 505.8,283.1 506.1,283.2 506.4,284.0 506.7,284.3 507.0,283.2 507.4,282.2 507.7,281.7 508.0,281.7 508.3,281.6 508.6,281.5 508.9,281.4 509.2,282.2 509.5,282.5 509.8,282.4 510.1,281.9 510.4,281.8 510.7,281.7 511.0,281.7 511.3,281.1 511.6,281.0 512.0,280.5 512.3,278.4 512.6,277.8 513.0,277.3 513.3,276.7 513.6,276.1 513.9,276.3 514.2,276.1 514.6,275.9 514.9,275.7 515.2,277.0 515.5,276.8 515.9,276.6 516.2,275.9 516.5,275.5 516.9,275.3 517.2,275.1 517.5,274.9 517.8,274.9 518.1,275.2 518.4,275.2 518.7,275.2 519.0,274.7 519.3,274.7 519.6,274.6 519.9,274.6 520.2,274.5 520.5,274.8 520.8,274.8 521.1,276.2 521.4,276.2 521.7,276.2 522.0,276.1 522.3,275.0 522.6,274.2 522.9,274.1 523.2,274.1 523.5,274.0 523.8,274.0 524.1,274.6 524.4,274.9 524.7,274.9 525.0,274.8 525.3,274.8 525.6,274.6 525.9,274.4 526.2,273.9 526.6,273.6 526.9,273.4 527.2,273.2 527.5,272.6 527.8,271.3 528.1,270.6 528.4,270.4 528.8,270.2 529.1,270.0 529.4,269.7 529.7,270.5 530.0,269.8 530.1,268.7 530.3,268.1 530.4,267.5 530.5,266.8 530.7,266.2 530.8,266.0 531.0,265.8 531.1,265.2 531.2,264.6 531.4,264.0 531.5,263.6 531.8,263.1 532.1,262.7 532.5,262.9 532.8,263.1 533.1,263.3 533.4,263.5 533.7,264.1 534.1,264.5 534.4,265.4 534.7,265.7 535.0,265.7 535.3,265.7 535.6,265.7 535.9,266.0 536.3,265.6 536.6,265.6 536.9,265.6 537.2,265.7 537.5,265.7 537.8,265.9 538.1,266.1 538.4,265.5 538.8,264.4 539.1,264.5 539.4,264.5 539.7,264.5 540.0,264.5 540.3,265.0 540.6,265.5 540.9,266.5 541.3,265.7 541.6,265.7 541.9,265.4 542.2,265.5 542.5,265.5 542.8,265.2 543.1,265.0 543.4,265.8 543.7,265.6 544.0,263.3 544.4,262.7 544.7,262.5 545.0,262.2 545.3,262.0 545.6,261.8 545.9,259.5 546.2,259.0 546.5,258.4 546.9,257.9 547.2,257.3 547.5,257.9 547.8,259.4 548.1,259.4 548.4,258.4 548.8,257.8 549.1,258.0 549.4,258.1 549.7,258.2 550.0,258.6 550.3,259.3 550.6,259.4 550.9,259.3 551.2,259.4 551.5,259.5 551.9,259.7 552.2,259.8 552.5,260.0 552.8,260.2 553.1,260.3 553.4,260.3 553.7,258.8 554.0,259.0 554.3,259.1 554.6,259.2 554.9,259.4 555.2,260.0 555.5,260.6 555.9,260.9 556.2,261.6 556.5,261.9 556.8,261.9 557.1,262.0 557.4,262.1 557.7,262.3 558.0,262.4 558.3,262.6 558.6,262.5 558.9,262.9 559.2,263.4 559.6,263.9 559.9,264.3 560.2,265.3 560.5,265.8 560.8,265.2 561.0,264.6 561.3,264.0 561.5,263.4 561.8,262.7 562.0,261.5 562.3,260.0 562.6,259.5 562.8,258.9 563.1,258.3 563.3,257.7 563.6,258.1 563.9,258.7 564.2,258.6 564.5,258.4 564.8,258.3 565.1,258.2 565.4,258.6 565.7,258.5 566.0,258.3 566.3,258.0 566.6,256.7 566.9,255.3 567.3,255.2 567.6,255.1 567.9,254.9 568.2,254.8 568.5,255.3 568.8,256.1 569.1,256.5 569.4,256.4 569.7,256.3 570.0,255.9 570.3,255.8 570.6,255.7 570.9,255.8 571.2,256.0 571.6,256.7 571.9,256.9 572.2,257.0 572.5,257.2 572.8,258.0 573.1,258.2 573.5,258.3 573.8,258.4 574.1,258.6 574.4,258.8 574.7,258.7 575.0,258.6 575.4,258.7 575.7,258.9 576.0,259.0 576.0,260.7 575.7,261.4 575.4,261.5 575.0,261.3 574.7,261.1 574.4,261.0 574.1,260.8 573.8,260.2 573.5,259.8 573.1,259.8 572.8,259.6 572.5,259.5 572.2,259.3 571.9,259.1 571.6,258.9 571.2,258.7 570.9,258.5 570.6,258.3 570.3,257.9 570.0,258.0 569.7,258.1 569.4,258.6 569.1,258.7 568.8,258.8 568.5,258.9 568.2,259.1 567.9,258.5 567.6,258.9 567.3,259.2 566.9,259.4 566.6,260.0 566.3,260.4 566.0,260.5 565.7,260.7 565.4,260.8 565.1,260.9 564.8,260.6 564.5,260.6 564.2,260.3 563.9,260.4 563.6,260.5 563.3,261.1 563.1,261.5 562.8,262.1 562.6,262.6 562.3,263.6 562.0,264.2 561.8,264.8 561.5,265.4 561.3,265.9 561.0,266.5 560.8,267.0 560.5,267.8 560.2,267.3 559.9,266.8 559.6,266.4 559.2,266.0 558.9,265.5 558.6,265.1 558.3,264.7 558.0,264.2 557.7,264.1 557.4,264.0 557.1,263.9 556.8,264.6 556.5,264.4 556.2,264.3 555.9,264.2 555.5,264.0 555.2,263.1 554.9,262.3 554.6,262.1 554.3,262.5 554.0,262.3 553.7,262.2 553.4,262.1 553.1,262.1 552.8,262.2 552.5,262.1 552.2,262.0 551.9,261.8 551.5,261.7 551.2,261.6 550.9,261.5 550.6,261.4 550.3,261.2 550.0,261.1 549.7,260.6 549.4,260.5 549.1,260.1 548.8,259.9 548.4,262.6 548.1,263.1 547.8,263.7 547.5,264.2 547.2,264.7 546.9,263.9 546.5,263.3 546.2,263.9 545.9,264.5 545.6,265.0 545.3,265.3 545.0,266.1 544.7,267.7 544.4,267.9 544.0,268.1 543.7,268.9 543.4,269.1 543.1,269.4 542.8,269.6 542.5,269.8 542.2,269.1 541.9,269.1 541.6,269.4 541.3,269.4 540.9,269.3 540.6,269.3 540.3,269.3 540.0,269.2 539.7,268.0 539.4,267.8 539.1,267.8 538.8,267.8 538.4,268.1 538.1,268.3 537.8,268.3 537.5,268.3 537.2,268.8 536.9,269.2 536.6,269.1 536.3,269.1 535.9,269.1 535.6,269.1 535.3,268.9 535.0,268.2 534.7,268.0 534.4,267.8 534.1,267.6 533.7,267.4 533.4,267.2 533.1,265.9 532.8,265.7 532.5,266.2 532.1,266.2 531.8,266.0 531.5,265.8 531.4,266.4 531.2,267.0 531.1,267.4 531.0,267.6 530.8,267.8 530.7,268.4 530.5,269.0 530.4,269.7 530.3,270.9 530.1,271.9 530.0,272.5 529.7,272.7 529.4,272.9 529.1,273.2 528.8,273.1 528.4,273.8 528.1,274.1 527.8,274.3 527.5,274.5 527.2,274.9 526.9,275.5 526.6,275.7 526.2,276.0 525.9,276.2 525.6,276.4 525.3,276.6 525.0,276.8 524.7,276.8 524.4,276.9 524.1,276.5 523.8,276.5 523.5,276.6 523.2,277.3 522.9,277.4 522.6,277.7 522.3,277.9 522.0,277.9 521.7,278.3 521.4,279.8 521.1,279.8 520.8,279.9 520.5,279.9 520.2,279.9 519.9,278.2 519.6,276.9 519.3,277.5 519.0,278.1 518.7,278.1 518.4,278.2 518.1,278.2 517.8,278.2 517.5,277.7 517.2,277.3 516.9,277.5 516.5,277.7 516.2,278.1 515.9,278.4 515.5,278.9 515.2,279.1 514.9,279.3 514.6,279.5 514.2,280.1 513.9,280.3 513.6,280.5 513.3,281.0 513.0,281.6 512.6,281.4 512.3,281.9 512.0,282.5 511.6,283.1 511.3,283.2 511.0,283.7 510.7,284.3 510.4,284.7 510.1,284.7 509.8,284.8 509.5,284.9 509.2,284.9 508.9,284.8 508.6,284.4 508.3,284.2 508.0,285.3 507.7,285.8 507.4,285.8 507.0,286.0 506.7,286.0 506.4,286.1 506.1,286.2 505.8,286.2 505.5,286.0 505.2,285.6 504.9,285.9 504.6,287.2 504.3,287.3 504.0,287.3 503.7,287.4 503.4,287.5 503.2,285.5 503.0,284.2 502.9,283.7 502.7,283.2 502.5,282.7 502.4,282.1 502.2,281.6 502.0,281.0 501.8,281.6 501.6,281.8 501.4,282.7 501.2,283.3 501.0,283.9 500.8,284.6 500.6,286.1 500.4,287.4 500.2,289.1 500.0,289.7 499.8,290.3 499.6,290.9 499.4,291.5 499.2,291.0 499.0,290.1 498.8,290.4 498.4,290.5 498.1,290.9 497.8,291.0 497.5,291.2 497.2,291.3 496.9,291.4 496.6,291.4 496.3,291.4 496.0,291.7 495.6,292.0 495.3,292.1 495.0,292.3 494.7,292.4 494.4,292.6 494.1,292.7 493.8,292.8 493.5,291.9 493.2,291.9 492.9,293.2 492.6,294.0 492.2,294.2 491.9,294.3 491.6,294.4 491.3,294.6 491.0,293.1 490.7,292.5 490.4,292.8 490.1,292.8 489.8,292.2 489.5,291.7 489.2,291.1 488.9,290.6 488.6,289.9 488.4,290.5 488.2,291.1 488.0,291.7 487.9,292.3 487.7,292.7 487.5,292.8 487.3,293.4 487.1,294.0 486.9,294.6 486.7,295.2 486.6,295.8 486.4,296.4 486.2,296.8 486.0,296.6 485.7,297.1 485.4,299.4 485.1,299.5 484.8,299.6 484.5,299.8 484.2,299.9 483.9,298.1 483.6,298.3 483.3,298.4 483.0,298.9 482.7,299.9 482.4,300.8 482.1,300.9 481.8,301.0 481.5,301.2 481.2,301.3 480.9,300.8 480.6,300.9 480.3,301.0 480.0,301.1 479.7,300.4 479.4,301.1 479.1,301.0 478.8,300.8 478.5,300.7 478.2,300.5 477.9,299.6 477.6,299.3 477.3,298.8 477.0,298.6 476.7,298.9 476.4,299.2 476.1,298.3 475.8,299.1 475.5,299.4 475.2,299.7 474.9,300.9 474.6,302.7 474.3,303.0 474.0,303.3 473.7,303.6 473.3,303.9 473.0,304.0 472.7,304.2 472.4,304.5 472.1,304.8 471.8,305.1 471.5,305.2 471.2,305.1 470.9,304.2 470.6,304.7 470.3,305.2 470.0,305.5 469.7,305.9 469.4,306.3 469.1,306.7 468.8,307.1 468.5,307.7 468.2,308.1 467.9,308.4 467.6,308.8 467.3,309.1 467.0,309.5 466.7,309.5 466.4,309.9 466.1,310.3 465.8,310.7 465.5,311.0 465.2,311.4 464.9,311.8 464.6,312.1 464.3,312.5 464.0,312.8 463.7,313.1 463.4,313.4 463.1,313.7 462.8,314.0 462.5,314.1 462.2,314.4 461.9,314.7 461.6,315.1 461.3,315.4 461.0,315.8 460.7,316.2 460.4,316.5 460.1,316.8 459.8,317.1 459.5,317.4 459.2,317.7 458.8,317.9 458.5,318.1 458.2,318.4 457.9,318.7 457.6,319.0 457.3,319.5 457.0,319.9 456.7,320.2 456.4,320.5 456.1,320.8 455.8,321.1 455.5,321.3 455.2,321.4 454.9,321.8 454.6,322.1 454.3,322.4 454.0,322.7 453.7,323.1 453.4,323.6 453.1,324.2 452.8,324.5 452.5,324.9 452.2,325.2 451.9,325.6 451.6,325.9 451.3,326.1 451.0,326.5 450.7,326.8 450.4,327.2 450.1,327.5 449.8,327.8 449.5,328.5 449.2,328.9 448.9,329.2 448.6,329.6 448.3,329.9 448.0,330.2 447.7,330.4 447.4,330.7 447.1,331.1 446.8,331.4 446.5,331.8 446.2,331.7 445.9,331.6 445.6,332.3 445.3,332.9 445.0,333.2 444.7,333.7 444.3,334.0 444.0,334.3 443.7,334.7 443.4,335.0 443.1,335.3 442.8,335.6 442.5,336.0 442.2,336.4 441.9,336.7 441.6,337.0 441.3,337.4 441.0,337.7 440.7,337.6 440.4,338.1 440.1,338.5 439.8,338.8 439.5,339.2 439.2,339.5 438.9,339.8 438.6,340.2 438.3,340.5 438.0,340.8 437.7,340.9 437.4,341.5 437.1,341.8 436.8,342.2 436.5,342.5 436.2,342.9 435.9,343.2 435.6,343.6 435.3,344.0 435.0,344.5 434.7,344.8 434.4,345.1 434.1,345.5 433.8,345.8 433.5,346.0 433.2,346.5 432.9,346.9 432.6,347.2 432.3,347.6 432.0,347.9 431.7,348.3 431.4,348.6 431.1,348.9 430.8,349.3 430.5,349.6 430.2,350.4 429.9,350.8 429.6,351.1 429.3,351.5 429.0,351.8 428.7,351.8 428.4,351.8 428.1,352.2 427.8,352.4 427.5,352.8 427.2,353.2 426.9,353.6 426.6,354.1 426.3,354.4 426.0,354.8 425.7,355.1 425.3,355.5 425.0,355.5 424.7,355.9 424.4,356.2 424.1,356.5 423.8,356.9 423.5,357.2 423.2,357.6 422.9,357.9 422.6,358.2 422.3,358.6 422.0,358.9 421.7,359.2 421.4,359.5 421.1,359.7 420.8,360.1 420.5,360.9 420.2,361.6 419.9,362.0 419.6,362.4 419.3,362.7 419.0,363.1 418.7,363.4 418.4,363.2 418.1,363.5 417.8,363.9 417.5,364.2 417.2,364.8 416.9,365.4 416.6,365.8 416.3,366.8 416.0,367.1 415.9,367.7 415.8,368.4 415.6,369.0 415.5,369.1 415.4,369.4 415.2,369.6 415.1,370.5 415.0,371.5 414.7,371.3 414.4,371.1 414.1,371.0 413.8,370.8 413.5,370.3 413.2,370.2 412.8,370.5 412.5,370.4 412.2,370.2 411.9,370.1 411.6,369.9 411.3,368.3 411.0,368.3 410.7,369.3 410.4,369.6 410.1,369.9 409.8,370.2 409.5,370.5 409.2,370.7 408.9,370.8 408.6,371.8 408.3,372.5 408.0,373.2 407.7,372.8 407.4,372.3 407.1,371.8 406.8,371.4 406.5,370.2 406.2,369.0 405.8,368.6 405.5,368.4 405.2,368.0 404.9,368.0 404.6,368.5 404.3,368.1 404.0,367.6 403.7,367.5 403.4,367.4 403.1,367.3 402.8,366.4 402.5,365.1 402.2,364.8 401.9,364.9 401.6,364.9 401.3,364.8 401.0,364.7 400.7,364.6 400.4,364.5 400.1,364.2 399.8,364.4 399.5,364.8 399.2,364.7 398.9,364.6 398.6,364.5 398.3,364.4 398.0,365.0 397.7,364.8 397.4,364.7 397.1,364.5 396.8,364.3 396.5,363.8 396.2,365.5 395.9,365.5 395.6,365.3 395.3,365.1 395.0,364.9 394.7,364.8 394.3,362.8 394.0,361.8 393.7,361.7 393.4,361.1 393.1,360.6 392.8,360.5 392.5,361.3 392.2,361.2 391.9,361.0 391.6,360.8 391.3,360.7 391.0,359.9 390.7,359.2 390.4,358.9 390.1,358.8 389.8,358.5 389.5,358.2 389.2,357.9 388.9,357.8 388.6,357.9 388.3,357.6 388.0,357.3 387.7,357.7 387.4,358.1 387.1,358.4 386.8,358.6 386.5,358.6 386.2,359.0 385.9,359.5 385.6,359.9 385.3,360.3 385.0,360.7 384.7,361.1 384.4,360.8 384.1,363.4 383.8,364.1 383.5,364.5 383.2,364.9 382.9,365.3 382.6,365.7 382.3,365.2 382.0,364.5 381.7,364.8 381.4,365.3 381.1,365.6 380.8,366.0 380.5,366.6 380.2,367.0 379.9,367.3 379.6,367.7 379.3,368.4 379.0,369.0 378.7,369.4 378.4,369.7 378.1,370.1 377.8,370.4 377.5,370.6 377.2,370.4 376.9,371.8 376.6,372.1 376.3,372.6 376.0,372.9 375.7,373.3 375.4,373.7 375.1,374.0 374.8,373.1 374.4,374.0 374.1,374.3 373.8,374.7 373.5,375.1 373.2,375.5 372.9,375.7 372.6,375.6 372.2,375.8 371.9,376.2 371.6,378.0 371.3,378.6 371.0,378.9 370.7,378.7 370.4,378.4 370.1,378.2 369.8,377.6 369.5,377.4 369.2,377.1 368.9,376.8 368.6,376.4 368.3,375.9 368.0,375.2 367.7,374.8 367.3,375.5 367.0,375.2 366.7,374.9 366.4,374.7 366.1,374.4 365.8,373.4 365.5,373.7 365.2,373.4 364.9,373.2 364.6,372.9 364.3,372.6 364.0,372.3 363.7,371.6 363.4,371.1 363.1,370.6 362.8,370.2 362.5,369.7 362.2,368.1 361.8,367.9 361.5,368.1 361.2,368.5 360.9,368.0 360.6,367.7 360.3,367.2 360.0,366.8 359.7,366.5 359.4,366.3 359.1,365.9 358.8,365.2 358.4,365.8 358.1,365.5 357.8,365.3 357.5,365.0 357.2,364.8 356.9,364.5 356.6,364.3 356.2,363.6 355.9,363.5 355.6,363.3 355.3,363.0 355.0,362.8 354.7,363.1 354.4,363.0 354.1,363.3 353.8,363.6 353.5,363.9 353.2,364.2 352.9,364.4 352.6,364.7 352.3,365.0 352.0,365.3 351.7,365.1 351.4,364.0 351.1,363.8 350.8,364.5 350.5,364.4 350.2,364.3 349.8,364.2 349.5,364.1 349.2,363.7 348.9,362.3 348.6,363.4 348.3,363.3 348.0,363.2 347.7,363.1 347.4,363.4 347.1,364.3 346.8,364.5 346.5,364.4 346.2,364.3 345.8,364.2 345.5,364.1 345.2,363.3 344.9,362.6 344.6,362.5 344.3,362.4 344.0,362.6 343.7,362.6 343.4,362.3 343.1,362.0 342.8,361.8 342.5,361.5 342.2,360.5 341.8,360.3 341.5,359.7 341.2,358.8 340.9,358.2 340.6,358.1 340.3,358.2 340.0,358.0 339.7,358.2 339.4,357.9 339.1,357.7 338.8,357.9 338.5,357.8 338.2,357.5 337.8,357.3 337.5,357.0 337.2,356.7 336.9,356.0 336.6,355.8 336.3,355.1 336.0,354.6 335.7,354.4 335.4,354.9 335.1,354.8 334.8,354.6 334.5,354.4 334.2,354.3 333.9,353.9 333.6,353.2 333.3,353.1 333.0,353.1 332.7,352.9 332.4,352.7 332.1,352.6 331.8,352.7 331.5,352.7 331.2,353.4 330.9,353.2 330.6,353.0 330.3,352.9 330.0,352.7 329.7,352.0 329.4,352.2 329.1,352.3 328.8,352.4 328.5,352.5 328.2,352.7 327.9,352.6 327.6,352.6 327.3,352.8 327.0,353.1 326.7,353.2 326.4,353.4 326.1,353.5 325.8,354.0 325.5,354.2 325.2,354.3 324.9,354.4 324.6,354.5 324.3,354.5 324.0,354.6 323.7,354.5 323.4,354.3 323.1,353.3 322.8,353.2 322.5,353.1 322.2,352.9 321.8,353.0 321.5,353.4 321.2,353.2 320.9,353.1 320.6,352.9 320.3,352.8 320.0,352.2 319.7,352.1 319.4,352.0 319.1,351.8 318.8,351.7 318.5,351.7 318.2,351.5 317.8,351.4 317.5,351.3 317.2,351.1 316.9,351.0 316.6,351.3 316.3,352.4 316.0,352.6 315.7,352.5 315.4,352.3 315.1,352.1 314.8,352.0 314.5,351.0 314.2,349.8 313.9,350.1 313.6,349.9 313.3,349.8 313.0,349.6 312.7,349.4 312.3,348.6 312.0,347.9 311.7,347.7 311.4,347.5 311.1,347.3 310.8,347.2 310.5,347.1 310.2,346.9 309.9,346.7 309.6,346.5 309.3,346.4 309.0,346.0 308.7,346.1 308.4,346.1 308.1,346.1 307.8,346.2 307.4,346.0 307.1,346.0 306.8,346.1 306.5,346.1 306.2,346.0 305.9,346.0 305.6,346.1 305.2,346.1 304.9,346.1 304.6,345.9 304.3,346.0 304.0,346.0 303.7,346.1 303.4,346.4 303.1,346.8 302.8,346.9 302.5,347.0 302.2,347.1 301.8,347.2 301.5,347.4 301.2,347.5 300.9,347.6 300.6,347.7 300.3,348.2 300.0,348.6 299.7,348.7 299.4,348.8 299.1,349.3 298.8,350.2 298.5,350.3 298.2,350.4 297.8,350.5 297.5,350.8 297.2,351.0 296.9,351.1 296.6,351.2 296.3,351.3 296.0,351.4 295.7,350.6 295.4,349.7 295.1,349.6 294.8,349.4 294.5,349.2 294.2,349.0 293.8,348.8 293.5,348.4 293.2,348.2 292.9,348.0 292.6,347.5 292.3,347.0 292.0,346.8 291.7,346.6 291.4,346.4 291.1,346.2 290.8,346.0 290.5,345.5 290.2,344.9 289.8,345.3 289.5,345.1 289.2,344.9 288.9,344.7 288.6,344.5 288.3,344.0 288.0,344.0 287.7,343.8 287.4,343.6 287.1,344.4 286.8,345.5 286.5,345.3 286.2,345.0 285.9,344.8 285.6,344.5 285.3,342.5 285.0,343.3 284.7,343.0 284.4,342.8 284.1,342.5 283.8,342.3 283.5,341.5 283.2,341.3 282.9,341.0 282.6,340.8 282.3,339.5 282.0,338.8 281.7,337.9 281.4,337.2 281.1,336.6 280.9,336.0 280.6,335.1 280.3,335.1 280.0,335.0 279.7,334.5 279.4,334.7 279.1,334.2 278.8,333.7 278.4,333.2 278.1,332.7 277.8,331.1 277.5,331.1 277.2,330.8 276.9,330.3 276.6,329.8 276.2,329.3 275.9,328.8 275.6,328.4 275.3,328.3 275.0,327.8 274.7,327.3 274.5,326.8 274.2,326.2 273.9,325.3 273.6,324.6 273.4,323.9 273.1,322.8 272.8,323.0 272.5,322.5 272.3,322.0 272.0,321.4 271.8,320.9 271.6,320.3 271.4,319.7 271.2,318.9 271.0,318.2 270.8,317.6 270.5,317.1 270.3,316.9 270.1,316.3 269.9,315.7 269.7,315.1 269.5,314.6 269.3,313.7 269.1,312.7 268.9,312.1 268.7,311.5 268.5,311.0 268.2,309.8 268.0,308.5 267.8,308.7 267.6,309.2 267.4,309.9 267.2,309.3 267.0,308.7 266.7,308.2 266.4,307.6 266.1,306.9 265.8,305.9 265.4,304.0 265.1,304.1 264.8,303.6 264.5,303.0 264.2,302.4 263.9,301.9 263.6,301.0 263.3,300.6 263.0,300.0 262.6,299.5 262.3,298.9 262.0,298.4 261.7,297.8 261.4,296.7 261.1,296.5 260.8,296.0 260.5,295.4 260.2,294.9 259.9,295.6 259.6,295.0 259.4,294.5 259.1,293.9 258.8,293.3 258.5,292.7 258.2,291.7 258.2,290.7 258.1,290.1 258.0,289.4 257.9,288.8 257.8,288.2 257.7,287.3 257.6,286.6 257.3,286.6 257.0,286.5 256.7,286.5 256.4,285.0 256.0,286.5 255.7,287.2 255.4,287.2 255.1,287.1 254.8,287.1 254.5,287.0 254.2,286.2 253.9,285.7 253.6,285.6 253.2,285.6 252.9,285.3 252.6,285.4 252.3,286.0 252.0,285.7 251.7,285.4 251.4,285.1 251.1,284.8 250.8,283.6 250.4,283.8 250.1,283.8 249.8,283.8 249.5,283.8 249.2,283.8 248.9,283.6 248.6,283.6 248.2,283.7 247.9,284.1 247.6,284.1 247.3,284.1 247.0,284.1 246.7,284.1 246.4,283.8 246.1,283.8 245.8,283.8 245.4,283.7 245.1,283.7 244.8,283.8 244.5,284.1 244.2,284.0 243.9,284.0 243.6,283.9 243.3,283.9 243.0,283.5 242.6,283.4 242.3,283.4 242.0,283.3 241.7,283.2 241.4,283.4 241.1,283.7 240.8,283.3 240.4,282.9 240.1,282.5 239.8,282.1 239.5,281.3 239.4,280.7 239.3,281.7 239.2,282.6 239.2,283.3 239.1,283.9 239.0,284.5 238.9,285.2 238.6,285.8 238.3,285.9 238.0,285.9 237.6,286.0 237.3,286.1 237.0,286.2 236.7,286.2 236.4,286.3 236.1,286.4 235.8,286.3 235.4,286.5 235.1,286.7 234.8,286.9 234.5,287.1 234.2,286.4 233.9,287.2 233.6,287.4 233.2,287.6 232.9,287.8 232.6,288.1 232.3,287.9 232.0,288.1 231.7,288.1 231.4,288.0 231.1,288.2 230.7,288.4 230.4,288.3 230.1,288.3 229.8,288.2 229.5,288.2 229.2,288.0 228.9,287.9 228.5,287.9 228.2,287.9 227.9,287.8 227.6,287.8 227.3,287.6 227.0,287.1 226.7,286.5 226.4,286.0 226.1,285.7 225.8,285.1 225.5,284.6 225.2,285.2 225.0,285.9 224.7,286.3 224.4,286.4 224.2,287.5 223.9,288.1 223.7,288.7 223.4,289.2 223.2,289.8 223.0,289.8 222.8,289.7 222.5,290.3 222.3,290.9 222.1,291.4 221.9,292.0 221.6,293.0 221.4,293.6 221.1,293.8 220.8,294.1 220.4,294.4 220.1,295.8 219.8,296.0 219.5,296.3 219.2,296.5 218.9,296.8 218.6,296.9 218.2,297.1 217.9,297.4 217.6,296.9 217.3,297.2 217.0,297.4 216.7,297.8 216.4,298.1 216.1,298.3 215.7,298.5 215.4,299.4 215.1,299.6 214.8,299.9 214.5,300.1 214.2,300.7 214.0,301.0 213.8,301.3 213.5,301.6 213.2,302.2 213.0,302.8 212.8,303.2 212.5,303.7 212.2,305.2 212.0,305.8 211.7,306.1 211.3,306.4 211.0,306.7 210.7,306.8 210.3,307.1 210.0,307.4 209.8,306.8 209.6,306.2 209.4,305.1 209.2,304.0 209.0,303.6 208.8,303.0 208.6,302.4 208.4,302.9 208.2,302.2 207.9,302.4 207.6,302.7 207.3,302.9 207.0,302.1 206.7,302.3 206.4,302.5 206.2,302.3 206.1,303.6 205.9,304.8 205.7,305.4 205.5,306.0 205.4,306.6 205.2,307.2 205.0,307.4 204.8,308.0 204.7,308.6 204.5,309.2 204.2,309.2 203.9,309.3 203.6,309.2 203.3,309.6 203.0,309.7 202.7,309.7 202.4,309.8 202.1,309.8 201.8,309.8 201.5,310.2 201.2,310.2 200.9,310.3 200.6,310.3 200.3,310.3 200.0,308.7 199.7,308.7 199.4,309.5 199.1,309.6 198.8,309.6 198.5,309.6 198.2,309.7 197.9,309.4 197.6,309.5 197.4,310.6 197.2,311.2 197.0,311.8 196.8,312.4 196.6,313.1 196.4,313.5 196.3,313.9 196.2,314.9 196.1,316.1 196.0,317.0 195.9,317.6 195.8,318.2 195.7,318.9 195.6,319.5 195.5,319.7 195.4,320.0 195.3,320.6 195.2,321.3 195.1,321.9 195.0,322.3 194.7,322.3 194.3,322.3 194.0,322.8 193.7,322.9 193.4,322.9 193.1,323.0 192.8,323.3 192.5,323.3 192.2,323.4 191.9,323.4 191.6,323.5 191.3,322.7 191.0,322.8 190.7,322.3 190.3,321.5 190.0,320.5 189.7,320.0 189.3,320.2 189.0,319.7 188.7,320.5 188.4,320.3 188.1,320.1 187.8,319.9 187.5,319.7 187.2,318.8 187.0,320.2 186.8,321.4 186.5,322.0 186.2,322.5 186.0,323.1 185.8,323.6 185.5,323.8 185.2,323.7 185.0,324.7 184.8,325.2 184.4,325.4 184.1,325.5 183.8,325.6 183.5,325.7 183.2,325.8 182.9,326.3 182.6,326.4 182.2,326.6 181.9,326.7 181.6,326.8 181.3,326.9 181.0,327.5 180.7,327.7 180.4,327.8 180.1,327.9 179.8,328.0 179.4,327.0 179.1,326.3 178.8,327.1 178.5,327.2 178.2,327.4 177.9,327.5 177.6,327.8 177.2,328.0 176.9,328.1 176.6,328.3 176.3,328.4 176.0,328.6 175.7,328.7 175.4,328.8 175.1,328.7 174.8,329.7 174.4,329.9 174.1,330.0 173.8,330.2 173.5,330.6 173.2,330.8 172.9,331.0 172.6,331.1 172.2,331.3 171.9,330.3 171.6,330.4 171.3,330.6 171.0,330.8 170.7,330.3 170.4,330.3 170.1,331.6 169.9,332.2 169.6,332.7 169.3,333.6 169.0,335.1 168.7,335.4 168.4,335.8 168.1,336.5 167.8,336.8 167.5,337.2 167.2,337.9 166.9,338.3 166.6,338.6 166.3,339.0 166.0,339.3 165.7,339.6 165.4,339.8 165.1,340.1 164.8,340.1 164.5,339.4 164.2,339.7 163.9,339.9 163.6,340.9 163.3,341.2 163.0,341.6 162.7,341.8 162.4,342.1 162.1,343.2 161.8,343.5 161.5,343.7 161.2,344.0 160.9,344.3 160.6,343.9 160.3,344.2 160.0,344.5 159.7,344.8 159.4,345.0 159.1,345.3 158.8,345.4 158.5,345.1 158.2,345.2 157.9,345.3 157.6,344.7 157.2,344.6 156.9,345.1 156.6,345.7 156.3,346.1 156.0,346.1 155.7,346.8 155.4,347.3 155.1,347.8 154.8,348.3 154.4,348.8 154.1,349.1 153.8,349.6 153.5,350.1 153.2,349.8 152.9,350.1 152.6,350.4 152.3,350.7 152.0,350.9 151.7,351.2 151.4,351.5 151.1,351.7 150.8,351.9 150.5,352.2 150.2,352.6 149.9,352.8 149.6,353.1 149.3,353.3 149.0,353.6 148.7,353.8 148.3,353.9 148.0,354.2 147.7,354.5 147.4,354.8 147.1,355.7 146.8,356.0 146.5,356.3 146.2,356.5 145.9,356.8 145.6,357.1 145.3,356.9 145.0,356.9 144.7,356.7 144.4,356.6 144.1,356.8 143.8,357.1 143.5,357.5 143.2,357.9 142.9,358.2 142.6,358.6 142.3,359.3 142.0,359.6 141.7,359.9 141.4,360.2 141.1,360.5 140.8,360.7 140.5,361.1 140.2,361.4 139.9,361.7 139.6,362.0 139.3,362.3 139.0,362.5 138.7,362.8 138.4,363.1 138.1,363.4 137.8,363.7 137.5,363.8 137.2,364.1 136.9,365.0 136.6,365.3 136.3,365.6 136.0,365.9 135.7,366.2 135.4,366.1 135.1,366.4 134.8,366.9 134.4,367.4 134.1,367.7 133.8,368.0 133.5,368.4 133.2,368.7 132.9,369.0 132.6,369.3 132.3,369.6 132.0,369.9 131.7,370.1 131.4,370.2 131.1,370.0 130.8,370.4 130.5,370.7 130.2,371.1 129.9,371.6 129.6,371.9 129.3,372.2 129.0,372.5 128.7,372.8 128.4,373.3 128.1,373.6 127.8,373.9 127.5,374.2 127.2,374.5 126.9,374.3 126.6,374.6 126.3,375.0 126.0,375.3 125.7,375.8 125.3,376.3 125.0,376.7 124.7,377.6 124.3,378.6 124.0,379.0 123.7,379.4 123.4,379.7 123.1,380.1 122.8,380.4 122.5,380.7 122.2,381.1 121.9,381.4 121.6,381.8 121.3,382.1 121.0,382.2 120.7,382.4 120.4,382.8 120.1,383.1 119.8,383.5 119.5,383.8 119.2,384.1 118.9,384.5 118.6,384.8 118.3,385.2 118.0,385.6 117.7,385.9 117.4,386.2 117.1,386.4 116.8,386.7 116.5,386.9 116.2,387.0 115.8,387.2 115.5,387.5 115.2,387.7 114.9,387.7 114.6,387.9 114.3,388.2 114.0,388.4 113.7,388.3 113.4,389.0 113.1,389.2 112.8,389.5 112.5,389.7 112.2,390.0 111.8,390.1 111.5,390.3 111.2,390.5 110.9,390.8 110.6,391.1 110.3,391.5 110.0,391.9 109.7,392.3 109.4,392.7 109.1,393.0 108.8,393.5 108.5,393.8 108.2,394.1 107.8,394.4 107.5,394.7 107.2,394.4 106.9,394.6 106.6,394.9 106.3,395.2 106.0,395.5 105.7,395.7 105.4,395.6 105.1,395.7 104.8,395.9 104.5,396.5 104.2,396.7 103.9,396.8 103.6,397.0 103.3,397.1 103.0,397.6 102.7,398.7 102.4,398.8 102.1,399.0 101.8,399.1 101.5,399.3 101.2,399.3 100.8,399.1 100.5,398.9 100.2,398.8 99.9,398.9 99.6,399.1 99.3,399.2 99.0,399.4 98.7,399.5 98.4,399.7 98.1,399.8 97.8,399.7 97.5,399.8 97.2,400.0 96.9,400.3 96.6,400.5 96.3,400.6 96.0,400.8 95.7,400.9 95.4,401.0 95.1,401.0 94.8,401.2 94.5,401.5 94.2,401.6 93.8,402.0 93.5,402.5 93.2,402.7 92.9,402.9 92.6,403.0 92.3,403.2 92.0,403.1 91.7,403.3 91.4,403.0 91.1,403.2 90.8,403.4 90.5,403.4 90.2,403.5 89.8,404.1 89.5,404.3 89.2,404.5 88.9,404.9 88.6,405.2 88.3,405.4 88.0,405.6 87.7,405.8 87.4,405.9 87.1,406.0 86.8,406.2 86.5,406.5 86.2,406.9 85.9,407.0 85.6,407.2 85.3,407.4 85.0,407.6 84.7,407.7 84.4,407.5 84.0,407.3 83.7,407.5 83.4,407.6 83.1,407.8 82.8,408.5 82.5,408.7 82.2,408.9 81.9,409.0 81.6,409.2 81.3,409.1 81.0,409.3 80.7,409.1 80.4,409.3Z" fill="#008000" stroke="none"/>
</g>
<rect x="80.5" y="58.5" width="496.0" height="369.0" fill="none" stroke="#000" stroke-width="1" stroke-linejoin="miter"/>
<path d="M122.5,428 v4.8 M178.5,428 v4.8 M233.5,428 v4.8 M288.5,428 v4.8 M343.5,428 v4.8 M398.5,428 v4.8 M453.5,428 v4.8 M508.5,428 v4.8 M563.5,428 v4.8 M80,403.5 h-4.8 M80,344.5 h-4.8 M80,286.5 h-4.8 M80,227.5 h-4.8 M80,169.5 h-4.8 M80,110.5 h-4.8" stroke="#000" stroke-width="1" fill="none"/>
<g font-family="'DejaVu Sans', 'Liberation Sans', sans-serif" font-size="13.89px" fill="#000">
<text x="122.4" y="447.5" text-anchor="middle">05-26 15</text>
<text x="177.5" y="447.5" text-anchor="middle">05-26 19</text>
<text x="232.6" y="447.5" text-anchor="middle">05-26 23</text>
<text x="287.8" y="447.5" text-anchor="middle">05-27 03</text>
<text x="342.9" y="447.5" text-anchor="middle">05-27 07</text>
<text x="398.0" y="447.5" text-anchor="middle">05-27 11</text>
<text x="453.1" y="447.5" text-anchor="middle">05-27 15</text>
<text x="508.2" y="447.5" text-anchor="middle">05-27 19</text>
<text x="563.4" y="447.5" text-anchor="middle">05-27 23</text>
<text x="70.7" y="408.7" text-anchor="end">10</text>
<text x="70.7" y="349.7" text-anchor="end">15</text>
<text x="70.7" y="291.7" text-anchor="end">20</text>
<text x="70.7" y="232.7" text-anchor="end">25</text>
<text x="70.7" y="174.7" text-anchor="end">30</text>
<text x="70.7" y="115.7" text-anchor="end">35</text>
<text x="326.1" y="468.2" text-anchor="middle" textLength="80.4">Date (GMT)</text>
<text transform="translate(43.0,242.4) rotate(-90)" text-anchor="middle" textLength="114.2">Temperature (C)</text>
<text x="327.6" y="48.3" text-anchor="middle" font-size="16.67px" textLength="256.2">APOLLO Plenum Temperatures</text>
<rect x="87.5" y="65.5" width="143.2" height="66.4" rx="2.8" ry="2.8" fill="#fff" fill-opacity="0.8" stroke="#ccc" stroke-opacity="0.8" stroke-width="1.39"/>
<path d="M93,76.5 h27.8" stroke="#800080" stroke-width="0.7"/>
<text x="131.9" y="81.3" textLength="78.6">DI_PLENUM</text>
<path d="M93,97.5 h27.8" stroke="#ffa500" stroke-width="0.7"/>
<text x="131.9" y="101.8" textLength="92.5">CAB_PLENUM</text>
<path d="M93,118.5 h27.8" stroke="#008000" stroke-width="0.7"/>
<text x="131.3" y="123.2" textLength="64.7">Dome Air</text>
</g>
</svg>
</body></html>
